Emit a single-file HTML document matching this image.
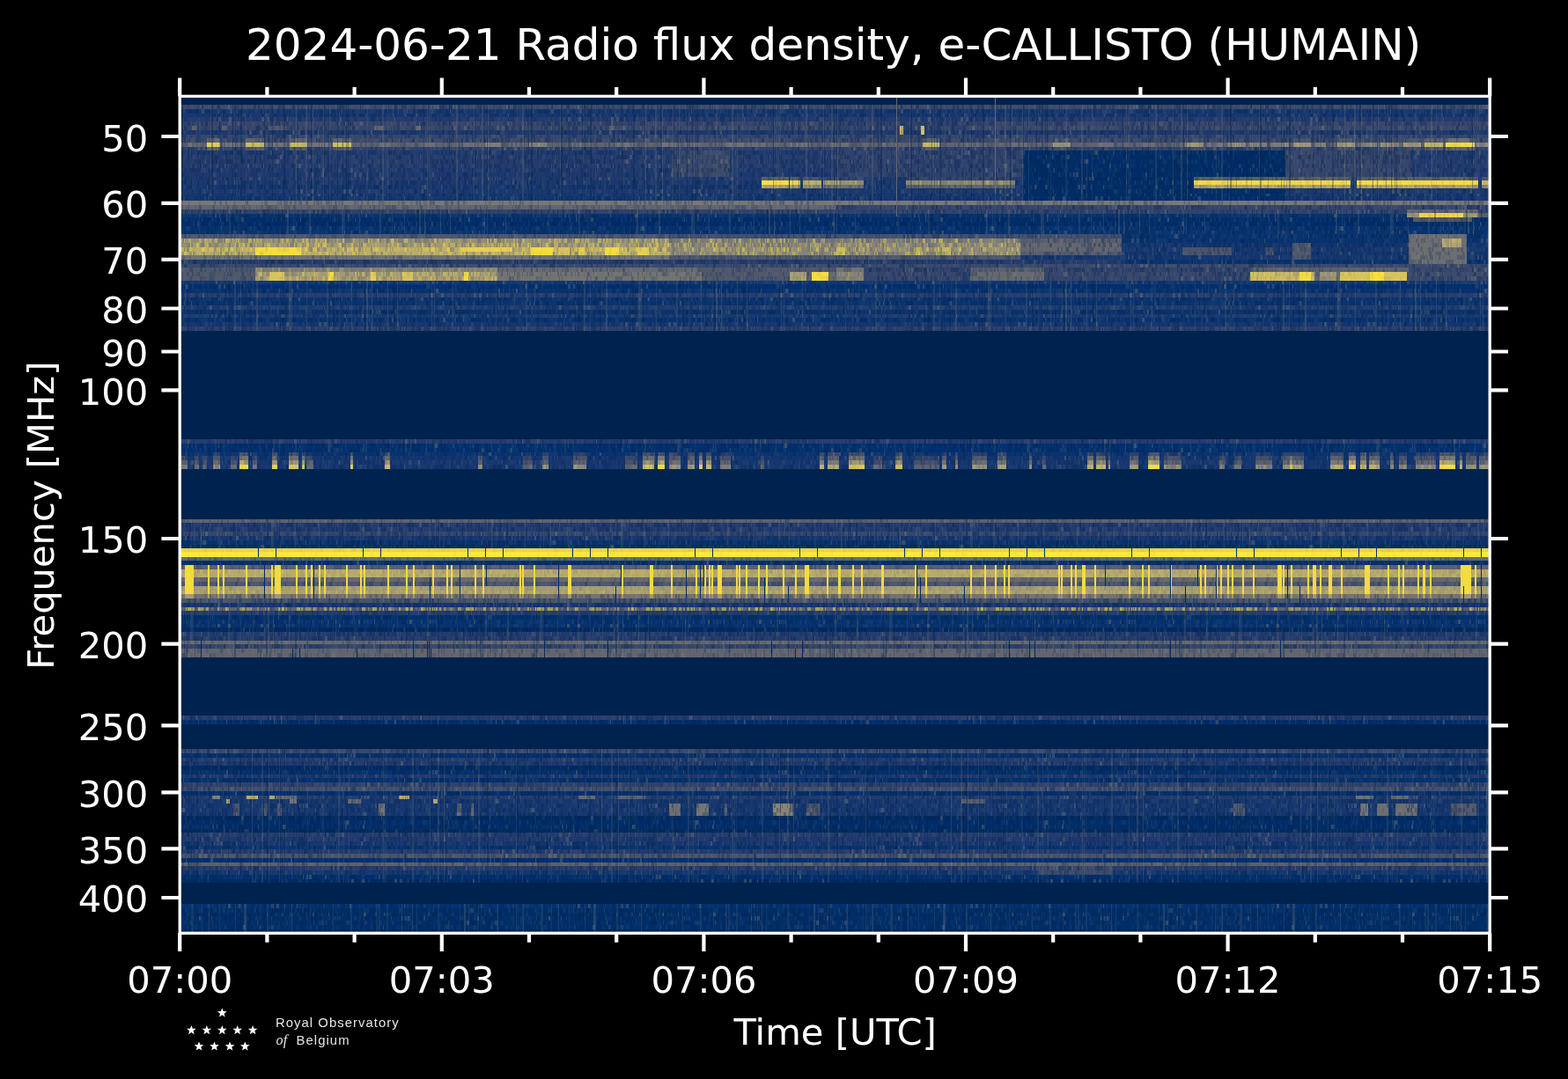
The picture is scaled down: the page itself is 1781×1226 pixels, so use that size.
<!DOCTYPE html>
<html><head><meta charset="utf-8"><title>2024-06-21 Radio flux density, e-CALLISTO (HUMAIN)</title>
<style>html,body{margin:0;padding:0;background:#000;width:1781px;height:1226px;overflow:hidden}svg{display:block}</style>
</head><body>
<svg width="1781" height="1226" viewBox="0 0 1781 1226">
<rect width="1781" height="1226" fill="#000"/>
<defs><clipPath id="c"><rect x="204.2" y="109.35" width="1488" height="950.95"/></clipPath></defs>
<defs><pattern id="b0" patternUnits="userSpaceOnUse" width="397" height="10"><path fill="#00224e" fill-opacity="0.15" d="M29 0h3v10h-3zM101 0h1v10h-1zM144 0h3v10h-3zM150 0h1v10h-1zM166 0h1v10h-1zM355 0h1v10h-1z"/><path fill="#00224e" fill-opacity="0.2" d="M2 0h2v10h-2zM49 0h1v10h-1zM51 0h1v10h-1zM58 0h1v10h-1zM59 0h2v10h-2zM102 0h2v10h-2zM104 0h2v10h-2zM108 0h2v10h-2zM114 0h1v10h-1zM126 0h3v10h-3zM139 0h1v10h-1zM192 0h1v10h-1zM200 0h3v10h-3zM262 0h1v10h-1zM327 0h3v10h-3zM334 0h1v10h-1zM384 0h2v10h-2z"/><path fill="#00224e" fill-opacity="0.25" d="M36 0h2v10h-2zM75 0h3v10h-3zM123 0h1v10h-1zM129 0h2v10h-2zM140 0h1v10h-1zM167 0h2v10h-2zM206 0h1v10h-1zM210 0h3v10h-3zM216 0h2v10h-2zM233 0h3v10h-3zM246 0h1v10h-1zM291 0h2v10h-2zM332 0h2v10h-2zM335 0h1v10h-1zM338 0h3v10h-3zM387 0h3v10h-3zM394 0h1v10h-1z"/><path fill="#00224e" fill-opacity="0.3" d="M43 0h2v10h-2zM72 0h1v10h-1zM73 0h2v10h-2zM106 0h1v10h-1zM131 0h1v10h-1zM151 0h3v10h-3zM169 0h1v10h-1zM220 0h2v10h-2zM227 0h1v10h-1zM260 0h2v10h-2zM322 0h1v10h-1zM343 0h2v10h-2zM362 0h2v10h-2zM374 0h3v10h-3zM386 0h1v10h-1zM390 0h1v10h-1z"/><path fill="#00224e" fill-opacity="0.35" d="M1 0h1v10h-1zM33 0h3v10h-3zM61 0h1v10h-1zM71 0h1v10h-1zM163 0h3v10h-3zM242 0h1v10h-1zM243 0h1v10h-1zM245 0h1v10h-1zM258 0h1v10h-1zM274 0h3v10h-3zM302 0h2v10h-2zM308 0h2v10h-2zM319 0h2v10h-2zM358 0h2v10h-2zM371 0h2v10h-2zM373 0h1v10h-1zM392 0h2v10h-2z"/><path fill="#00224e" fill-opacity="0.4" d="M14 0h2v10h-2zM32 0h1v10h-1zM47 0h1v10h-1zM57 0h1v10h-1zM124 0h1v10h-1zM147 0h3v10h-3zM286 0h3v10h-3zM316 0h1v10h-1zM357 0h1v10h-1zM364 0h3v10h-3z"/><path fill="#00224e" fill-opacity="0.45" d="M0 0h1v10h-1zM207 0h1v10h-1zM277 0h1v10h-1zM326 0h1v10h-1zM347 0h1v10h-1z"/><path fill="#8a8779" fill-opacity="0.05" d="M45 0h2v10h-2zM62 0h2v10h-2zM66 0h2v10h-2zM68 0h1v10h-1zM94 0h1v10h-1zM115 0h2v10h-2zM117 0h2v10h-2zM119 0h1v10h-1zM134 0h2v10h-2zM155 0h2v10h-2zM174 0h3v10h-3zM224 0h1v10h-1zM239 0h1v10h-1zM271 0h3v10h-3zM324 0h2v10h-2z"/><path fill="#8a8779" fill-opacity="0.1" d="M8 0h1v10h-1zM25 0h1v10h-1zM40 0h1v10h-1zM50 0h1v10h-1zM78 0h1v10h-1zM79 0h1v10h-1zM80 0h2v10h-2zM89 0h1v10h-1zM95 0h3v10h-3zM110 0h3v10h-3zM158 0h1v10h-1zM209 0h1v10h-1zM215 0h1v10h-1zM228 0h2v10h-2zM238 0h1v10h-1zM255 0h1v10h-1zM259 0h1v10h-1zM268 0h1v10h-1zM289 0h2v10h-2zM313 0h2v10h-2zM317 0h2v10h-2zM321 0h1v10h-1zM345 0h2v10h-2zM367 0h3v10h-3zM378 0h2v10h-2zM391 0h1v10h-1z"/><path fill="#8a8779" fill-opacity="0.2" d="M12 0h2v10h-2zM265 0h3v10h-3z"/><path fill="#8a8779" fill-opacity="0.25" d="M38 0h2v10h-2zM240 0h2v10h-2zM348 0h1v10h-1z"/><path fill="#8a8779" fill-opacity="0.3" d="M86 0h1v10h-1zM143 0h1v10h-1zM247 0h1v10h-1z"/><path fill="#8a8779" fill-opacity="0.35" d="M26 0h1v10h-1zM264 0h1v10h-1z"/></pattern><pattern id="b1" patternUnits="userSpaceOnUse" width="397" height="10"><path fill="#00224e" fill-opacity="0.15" d="M47 0h3v10h-3zM126 0h2v10h-2zM252 0h2v10h-2zM368 0h2v10h-2zM393 0h3v10h-3z"/><path fill="#00224e" fill-opacity="0.2" d="M67 0h2v10h-2zM87 0h1v10h-1zM106 0h1v10h-1zM109 0h1v10h-1zM124 0h1v10h-1zM159 0h1v10h-1zM167 0h2v10h-2zM175 0h2v10h-2zM233 0h1v10h-1zM274 0h1v10h-1zM293 0h1v10h-1zM302 0h3v10h-3z"/><path fill="#00224e" fill-opacity="0.25" d="M14 0h2v10h-2zM42 0h1v10h-1zM88 0h3v10h-3zM103 0h3v10h-3zM165 0h2v10h-2zM193 0h1v10h-1zM194 0h1v10h-1zM204 0h1v10h-1zM312 0h2v10h-2zM314 0h1v10h-1zM327 0h1v10h-1zM359 0h1v10h-1z"/><path fill="#00224e" fill-opacity="0.3" d="M94 0h1v10h-1zM128 0h2v10h-2zM207 0h1v10h-1zM215 0h1v10h-1zM244 0h1v10h-1zM245 0h1v10h-1zM249 0h1v10h-1zM273 0h1v10h-1zM280 0h2v10h-2zM287 0h1v10h-1zM396 0h1v10h-1z"/><path fill="#00224e" fill-opacity="0.35" d="M22 0h3v10h-3zM66 0h1v10h-1zM100 0h2v10h-2zM136 0h1v10h-1zM137 0h1v10h-1zM216 0h2v10h-2zM246 0h1v10h-1zM335 0h1v10h-1zM371 0h3v10h-3zM390 0h1v10h-1z"/><path fill="#00224e" fill-opacity="0.4" d="M45 0h1v10h-1zM60 0h1v10h-1zM78 0h1v10h-1zM120 0h2v10h-2zM122 0h1v10h-1zM177 0h1v10h-1zM237 0h2v10h-2zM248 0h1v10h-1zM307 0h2v10h-2zM343 0h3v10h-3z"/><path fill="#00224e" fill-opacity="0.45" d="M59 0h1v10h-1zM152 0h3v10h-3zM191 0h2v10h-2zM234 0h3v10h-3z"/><path fill="#8a8779" fill-opacity="0.05" d="M16 0h2v10h-2zM46 0h1v10h-1zM54 0h2v10h-2zM92 0h2v10h-2zM98 0h2v10h-2zM140 0h3v10h-3zM143 0h3v10h-3zM149 0h2v10h-2zM195 0h1v10h-1zM231 0h2v10h-2zM254 0h2v10h-2zM285 0h2v10h-2zM315 0h1v10h-1zM350 0h2v10h-2zM388 0h1v10h-1z"/><path fill="#8a8779" fill-opacity="0.1" d="M0 0h3v10h-3zM3 0h3v10h-3zM9 0h1v10h-1zM37 0h3v10h-3zM43 0h2v10h-2zM56 0h3v10h-3zM80 0h2v10h-2zM146 0h3v10h-3zM169 0h2v10h-2zM185 0h3v10h-3zM221 0h1v10h-1zM283 0h2v10h-2zM294 0h3v10h-3zM378 0h3v10h-3zM384 0h2v10h-2z"/><path fill="#8a8779" fill-opacity="0.15" d="M346 0h2v10h-2z"/><path fill="#8a8779" fill-opacity="0.2" d="M348 0h2v10h-2z"/><path fill="#8a8779" fill-opacity="0.3" d="M117 0h2v10h-2z"/><path fill="#8a8779" fill-opacity="0.35" d="M63 0h1v10h-1zM110 0h3v10h-3zM116 0h1v10h-1zM125 0h1v10h-1zM139 0h1v10h-1zM199 0h2v10h-2zM261 0h1v10h-1z"/><path fill="#8a8779" fill-opacity="0.4" d="M61 0h2v10h-2zM73 0h3v10h-3z"/></pattern><pattern id="b2" patternUnits="userSpaceOnUse" width="397" height="10"><path fill="#00224e" fill-opacity="0.15" d="M6 0h2v10h-2zM130 0h3v10h-3zM179 0h1v10h-1zM210 0h1v10h-1zM324 0h2v10h-2z"/><path fill="#00224e" fill-opacity="0.2" d="M12 0h1v10h-1zM59 0h3v10h-3zM71 0h2v10h-2zM141 0h1v10h-1zM169 0h1v10h-1zM228 0h3v10h-3zM250 0h1v10h-1zM297 0h3v10h-3zM363 0h1v10h-1zM393 0h2v10h-2z"/><path fill="#00224e" fill-opacity="0.25" d="M0 0h1v10h-1zM11 0h1v10h-1zM39 0h3v10h-3zM46 0h2v10h-2zM51 0h2v10h-2zM94 0h1v10h-1zM106 0h1v10h-1zM114 0h2v10h-2zM117 0h2v10h-2zM119 0h1v10h-1zM152 0h2v10h-2zM190 0h1v10h-1zM233 0h1v10h-1zM245 0h1v10h-1zM253 0h3v10h-3zM261 0h2v10h-2zM283 0h2v10h-2zM309 0h1v10h-1zM341 0h3v10h-3zM367 0h3v10h-3z"/><path fill="#00224e" fill-opacity="0.3" d="M16 0h3v10h-3zM22 0h2v10h-2zM37 0h2v10h-2zM103 0h3v10h-3zM149 0h1v10h-1zM223 0h3v10h-3zM240 0h2v10h-2zM275 0h1v10h-1zM301 0h1v10h-1zM310 0h1v10h-1zM347 0h1v10h-1zM379 0h3v10h-3zM384 0h1v10h-1zM392 0h1v10h-1z"/><path fill="#00224e" fill-opacity="0.35" d="M1 0h3v10h-3zM8 0h3v10h-3zM13 0h1v10h-1zM19 0h2v10h-2zM30 0h1v10h-1zM86 0h1v10h-1zM109 0h1v10h-1zM120 0h2v10h-2zM157 0h3v10h-3zM172 0h2v10h-2zM232 0h1v10h-1zM285 0h1v10h-1zM295 0h2v10h-2zM306 0h3v10h-3zM353 0h2v10h-2z"/><path fill="#00224e" fill-opacity="0.4" d="M21 0h1v10h-1zM42 0h1v10h-1zM70 0h1v10h-1zM85 0h1v10h-1zM92 0h1v10h-1zM100 0h1v10h-1zM150 0h1v10h-1zM206 0h2v10h-2zM226 0h2v10h-2zM268 0h3v10h-3zM271 0h3v10h-3zM322 0h1v10h-1zM344 0h3v10h-3z"/><path fill="#00224e" fill-opacity="0.45" d="M79 0h2v10h-2zM136 0h2v10h-2zM165 0h1v10h-1zM183 0h3v10h-3z"/><path fill="#8a8779" fill-opacity="0.05" d="M48 0h2v10h-2zM64 0h1v10h-1zM111 0h1v10h-1zM146 0h3v10h-3zM160 0h2v10h-2zM195 0h1v10h-1zM231 0h1v10h-1zM279 0h2v10h-2zM289 0h2v10h-2zM302 0h1v10h-1zM311 0h1v10h-1zM313 0h3v10h-3zM316 0h3v10h-3zM348 0h2v10h-2zM378 0h1v10h-1zM391 0h1v10h-1z"/><path fill="#8a8779" fill-opacity="0.1" d="M14 0h2v10h-2zM36 0h1v10h-1zM50 0h1v10h-1zM69 0h1v10h-1zM74 0h1v10h-1zM93 0h1v10h-1zM108 0h1v10h-1zM110 0h1v10h-1zM129 0h1v10h-1zM139 0h1v10h-1zM140 0h1v10h-1zM142 0h3v10h-3zM167 0h1v10h-1zM170 0h1v10h-1zM188 0h2v10h-2zM215 0h3v10h-3zM218 0h1v10h-1zM220 0h2v10h-2zM238 0h1v10h-1zM243 0h2v10h-2zM259 0h2v10h-2zM267 0h1v10h-1zM276 0h3v10h-3zM291 0h3v10h-3zM319 0h1v10h-1zM328 0h2v10h-2zM334 0h1v10h-1zM335 0h2v10h-2zM387 0h3v10h-3z"/><path fill="#8a8779" fill-opacity="0.15" d="M125 0h2v10h-2z"/><path fill="#8a8779" fill-opacity="0.2" d="M98 0h2v10h-2zM116 0h1v10h-1zM204 0h2v10h-2z"/><path fill="#8a8779" fill-opacity="0.25" d="M91 0h1v10h-1zM264 0h2v10h-2zM376 0h1v10h-1z"/><path fill="#8a8779" fill-opacity="0.3" d="M81 0h1v10h-1zM107 0h1v10h-1z"/><path fill="#8a8779" fill-opacity="0.35" d="M133 0h2v10h-2z"/><path fill="#8a8779" fill-opacity="0.4" d="M151 0h1v10h-1zM191 0h3v10h-3zM214 0h1v10h-1z"/></pattern><pattern id="b3" patternUnits="userSpaceOnUse" width="397" height="10"><path fill="#00224e" fill-opacity="0.15" d="M212 0h3v10h-3zM369 0h2v10h-2zM385 0h1v10h-1zM386 0h1v10h-1z"/><path fill="#00224e" fill-opacity="0.2" d="M11 0h3v10h-3zM62 0h2v10h-2zM179 0h1v10h-1zM188 0h1v10h-1zM198 0h3v10h-3zM227 0h3v10h-3zM255 0h1v10h-1zM275 0h1v10h-1zM301 0h3v10h-3zM332 0h1v10h-1zM348 0h3v10h-3z"/><path fill="#00224e" fill-opacity="0.25" d="M43 0h1v10h-1zM46 0h1v10h-1zM61 0h1v10h-1zM64 0h1v10h-1zM77 0h1v10h-1zM85 0h1v10h-1zM102 0h2v10h-2zM111 0h1v10h-1zM130 0h1v10h-1zM131 0h2v10h-2zM178 0h1v10h-1zM181 0h2v10h-2zM205 0h1v10h-1zM230 0h1v10h-1zM316 0h2v10h-2zM324 0h3v10h-3zM357 0h1v10h-1z"/><path fill="#00224e" fill-opacity="0.3" d="M3 0h1v10h-1zM128 0h1v10h-1zM150 0h1v10h-1zM156 0h1v10h-1zM176 0h2v10h-2zM202 0h2v10h-2zM392 0h3v10h-3z"/><path fill="#00224e" fill-opacity="0.35" d="M47 0h3v10h-3zM68 0h2v10h-2zM70 0h3v10h-3zM75 0h2v10h-2zM80 0h3v10h-3zM105 0h1v10h-1zM106 0h3v10h-3zM116 0h2v10h-2zM118 0h3v10h-3zM148 0h2v10h-2zM180 0h1v10h-1zM204 0h1v10h-1zM218 0h3v10h-3zM236 0h2v10h-2zM297 0h1v10h-1zM313 0h1v10h-1zM339 0h2v10h-2z"/><path fill="#00224e" fill-opacity="0.4" d="M2 0h1v10h-1zM25 0h3v10h-3zM86 0h3v10h-3zM93 0h3v10h-3zM110 0h1v10h-1zM126 0h2v10h-2zM134 0h2v10h-2zM152 0h1v10h-1zM157 0h1v10h-1zM163 0h2v10h-2zM169 0h1v10h-1zM234 0h1v10h-1zM235 0h1v10h-1zM253 0h2v10h-2zM258 0h3v10h-3zM265 0h3v10h-3zM272 0h2v10h-2zM329 0h1v10h-1zM336 0h2v10h-2z"/><path fill="#00224e" fill-opacity="0.45" d="M65 0h1v10h-1zM122 0h1v10h-1zM222 0h2v10h-2zM238 0h2v10h-2zM251 0h2v10h-2zM387 0h1v10h-1z"/><path fill="#8a8779" fill-opacity="0.05" d="M4 0h2v10h-2zM7 0h3v10h-3zM38 0h2v10h-2zM113 0h3v10h-3zM121 0h1v10h-1zM140 0h2v10h-2zM153 0h2v10h-2zM201 0h1v10h-1zM209 0h1v10h-1zM224 0h1v10h-1zM306 0h3v10h-3zM320 0h1v10h-1zM343 0h3v10h-3zM346 0h2v10h-2zM354 0h2v10h-2zM366 0h2v10h-2z"/><path fill="#8a8779" fill-opacity="0.1" d="M0 0h2v10h-2zM14 0h2v10h-2zM18 0h3v10h-3zM28 0h1v10h-1zM29 0h3v10h-3zM50 0h2v10h-2zM54 0h1v10h-1zM79 0h1v10h-1zM91 0h2v10h-2zM99 0h2v10h-2zM109 0h1v10h-1zM112 0h1v10h-1zM129 0h1v10h-1zM137 0h2v10h-2zM170 0h3v10h-3zM173 0h2v10h-2zM242 0h3v10h-3zM247 0h2v10h-2zM264 0h1v10h-1zM285 0h1v10h-1zM294 0h1v10h-1zM319 0h1v10h-1zM333 0h3v10h-3zM363 0h3v10h-3zM378 0h2v10h-2zM380 0h3v10h-3zM395 0h2v10h-2z"/><path fill="#8a8779" fill-opacity="0.2" d="M289 0h2v10h-2z"/><path fill="#8a8779" fill-opacity="0.25" d="M311 0h2v10h-2z"/><path fill="#8a8779" fill-opacity="0.3" d="M10 0h1v10h-1zM45 0h1v10h-1zM210 0h1v10h-1z"/><path fill="#8a8779" fill-opacity="0.4" d="M291 0h3v10h-3z"/></pattern><pattern id="b4" patternUnits="userSpaceOnUse" width="397" height="10"><path fill="#00224e" fill-opacity="0.15" d="M47 0h1v10h-1zM95 0h1v10h-1zM119 0h1v10h-1zM174 0h1v10h-1zM321 0h1v10h-1z"/><path fill="#00224e" fill-opacity="0.2" d="M31 0h1v10h-1zM52 0h3v10h-3zM64 0h2v10h-2zM106 0h1v10h-1zM110 0h1v10h-1zM125 0h1v10h-1zM170 0h1v10h-1zM200 0h2v10h-2zM202 0h1v10h-1zM215 0h1v10h-1zM224 0h3v10h-3zM294 0h1v10h-1zM295 0h1v10h-1zM317 0h1v10h-1zM325 0h2v10h-2zM343 0h2v10h-2z"/><path fill="#00224e" fill-opacity="0.25" d="M10 0h1v10h-1zM71 0h1v10h-1zM75 0h1v10h-1zM133 0h2v10h-2zM162 0h1v10h-1zM211 0h2v10h-2zM216 0h2v10h-2zM231 0h1v10h-1zM236 0h2v10h-2zM243 0h3v10h-3zM274 0h2v10h-2zM286 0h1v10h-1zM311 0h3v10h-3zM384 0h2v10h-2zM391 0h1v10h-1z"/><path fill="#00224e" fill-opacity="0.3" d="M36 0h1v10h-1zM37 0h2v10h-2zM45 0h2v10h-2zM104 0h2v10h-2zM120 0h1v10h-1zM153 0h1v10h-1zM171 0h2v10h-2zM189 0h3v10h-3zM213 0h1v10h-1zM235 0h1v10h-1zM287 0h2v10h-2zM310 0h1v10h-1zM320 0h1v10h-1zM339 0h2v10h-2zM347 0h3v10h-3zM353 0h2v10h-2z"/><path fill="#00224e" fill-opacity="0.35" d="M51 0h1v10h-1zM63 0h1v10h-1zM219 0h3v10h-3zM267 0h1v10h-1zM334 0h1v10h-1zM337 0h2v10h-2zM345 0h1v10h-1zM363 0h2v10h-2z"/><path fill="#00224e" fill-opacity="0.4" d="M2 0h1v10h-1zM15 0h1v10h-1zM55 0h1v10h-1zM128 0h1v10h-1zM135 0h1v10h-1zM136 0h3v10h-3zM218 0h1v10h-1zM283 0h1v10h-1zM328 0h1v10h-1zM350 0h1v10h-1zM374 0h1v10h-1z"/><path fill="#00224e" fill-opacity="0.45" d="M129 0h1v10h-1zM241 0h2v10h-2zM249 0h1v10h-1zM322 0h1v10h-1zM368 0h3v10h-3z"/><path fill="#8a8779" fill-opacity="0.05" d="M3 0h1v10h-1zM14 0h1v10h-1zM27 0h1v10h-1zM35 0h1v10h-1zM49 0h2v10h-2zM80 0h1v10h-1zM89 0h3v10h-3zM93 0h2v10h-2zM115 0h3v10h-3zM118 0h1v10h-1zM175 0h3v10h-3zM208 0h1v10h-1zM209 0h1v10h-1zM240 0h1v10h-1zM261 0h3v10h-3zM271 0h2v10h-2zM273 0h1v10h-1zM278 0h3v10h-3zM300 0h1v10h-1zM305 0h1v10h-1zM327 0h1v10h-1zM375 0h3v10h-3zM379 0h2v10h-2zM381 0h3v10h-3z"/><path fill="#8a8779" fill-opacity="0.1" d="M0 0h1v10h-1zM7 0h1v10h-1zM24 0h2v10h-2zM26 0h1v10h-1zM44 0h1v10h-1zM62 0h1v10h-1zM66 0h3v10h-3zM76 0h1v10h-1zM83 0h3v10h-3zM98 0h1v10h-1zM102 0h2v10h-2zM113 0h1v10h-1zM114 0h1v10h-1zM131 0h2v10h-2zM140 0h3v10h-3zM145 0h2v10h-2zM154 0h1v10h-1zM186 0h1v10h-1zM197 0h3v10h-3zM250 0h2v10h-2zM252 0h1v10h-1zM255 0h2v10h-2zM269 0h2v10h-2zM281 0h2v10h-2zM296 0h2v10h-2zM303 0h2v10h-2zM318 0h2v10h-2zM335 0h2v10h-2zM361 0h1v10h-1zM362 0h1v10h-1zM390 0h1v10h-1z"/><path fill="#8a8779" fill-opacity="0.15" d="M192 0h2v10h-2z"/><path fill="#8a8779" fill-opacity="0.25" d="M57 0h1v10h-1zM182 0h1v10h-1zM314 0h3v10h-3zM394 0h3v10h-3z"/><path fill="#8a8779" fill-opacity="0.3" d="M123 0h1v10h-1zM276 0h1v10h-1z"/><path fill="#8a8779" fill-opacity="0.35" d="M147 0h3v10h-3zM214 0h1v10h-1zM253 0h1v10h-1z"/><path fill="#8a8779" fill-opacity="0.4" d="M8 0h2v10h-2zM130 0h1v10h-1zM268 0h1v10h-1z"/></pattern><pattern id="b5" patternUnits="userSpaceOnUse" width="397" height="10"><path fill="#00224e" fill-opacity="0.15" d="M48 0h1v10h-1zM245 0h1v10h-1z"/><path fill="#00224e" fill-opacity="0.2" d="M14 0h1v10h-1zM31 0h3v10h-3zM42 0h1v10h-1zM93 0h2v10h-2zM112 0h3v10h-3zM115 0h1v10h-1zM122 0h3v10h-3zM191 0h3v10h-3zM197 0h2v10h-2zM221 0h1v10h-1zM285 0h1v10h-1zM348 0h2v10h-2z"/><path fill="#00224e" fill-opacity="0.25" d="M51 0h1v10h-1zM58 0h1v10h-1zM86 0h1v10h-1zM120 0h2v10h-2zM172 0h1v10h-1zM203 0h1v10h-1zM230 0h3v10h-3zM265 0h2v10h-2zM311 0h3v10h-3zM314 0h1v10h-1zM335 0h1v10h-1zM389 0h2v10h-2z"/><path fill="#00224e" fill-opacity="0.3" d="M68 0h3v10h-3zM72 0h1v10h-1zM73 0h1v10h-1zM116 0h3v10h-3zM119 0h1v10h-1zM262 0h1v10h-1zM272 0h2v10h-2zM276 0h3v10h-3zM290 0h3v10h-3zM379 0h3v10h-3zM382 0h3v10h-3z"/><path fill="#00224e" fill-opacity="0.35" d="M25 0h3v10h-3zM28 0h3v10h-3zM46 0h2v10h-2zM67 0h1v10h-1zM74 0h2v10h-2zM222 0h1v10h-1zM239 0h3v10h-3zM243 0h2v10h-2zM392 0h3v10h-3z"/><path fill="#00224e" fill-opacity="0.4" d="M12 0h2v10h-2zM37 0h3v10h-3zM103 0h2v10h-2zM109 0h3v10h-3zM152 0h2v10h-2zM169 0h3v10h-3zM189 0h2v10h-2zM211 0h3v10h-3zM255 0h3v10h-3zM308 0h3v10h-3zM357 0h1v10h-1zM364 0h1v10h-1z"/><path fill="#00224e" fill-opacity="0.45" d="M36 0h1v10h-1zM71 0h1v10h-1zM216 0h2v10h-2zM332 0h1v10h-1zM371 0h3v10h-3z"/><path fill="#8a8779" fill-opacity="0.05" d="M7 0h1v10h-1zM16 0h3v10h-3zM43 0h3v10h-3zM60 0h1v10h-1zM64 0h3v10h-3zM154 0h3v10h-3zM161 0h2v10h-2zM173 0h1v10h-1zM233 0h1v10h-1zM236 0h2v10h-2zM242 0h1v10h-1zM280 0h2v10h-2zM322 0h3v10h-3zM327 0h2v10h-2zM329 0h3v10h-3zM333 0h2v10h-2zM340 0h1v10h-1zM391 0h1v10h-1z"/><path fill="#8a8779" fill-opacity="0.1" d="M11 0h1v10h-1zM53 0h1v10h-1zM82 0h1v10h-1zM83 0h1v10h-1zM97 0h2v10h-2zM105 0h1v10h-1zM106 0h3v10h-3zM140 0h2v10h-2zM150 0h2v10h-2zM159 0h2v10h-2zM179 0h1v10h-1zM202 0h1v10h-1zM223 0h1v10h-1zM235 0h1v10h-1zM246 0h3v10h-3zM250 0h2v10h-2zM284 0h1v10h-1zM296 0h2v10h-2zM338 0h2v10h-2zM359 0h2v10h-2zM365 0h1v10h-1zM369 0h1v10h-1z"/><path fill="#8a8779" fill-opacity="0.15" d="M84 0h1v10h-1zM341 0h2v10h-2z"/><path fill="#8a8779" fill-opacity="0.2" d="M168 0h1v10h-1zM264 0h1v10h-1z"/><path fill="#8a8779" fill-opacity="0.25" d="M3 0h1v10h-1zM196 0h1v10h-1zM336 0h1v10h-1zM358 0h1v10h-1z"/><path fill="#8a8779" fill-opacity="0.3" d="M19 0h2v10h-2zM40 0h2v10h-2zM304 0h1v10h-1z"/><path fill="#8a8779" fill-opacity="0.35" d="M15 0h1v10h-1zM23 0h2v10h-2zM101 0h2v10h-2z"/><path fill="#8a8779" fill-opacity="0.4" d="M22 0h1v10h-1zM182 0h2v10h-2z"/></pattern><pattern id="b6" patternUnits="userSpaceOnUse" width="397" height="10"><path fill="#00224e" fill-opacity="0.15" d="M13 0h2v10h-2zM53 0h1v10h-1zM118 0h1v10h-1zM177 0h1v10h-1zM216 0h1v10h-1zM248 0h1v10h-1z"/><path fill="#00224e" fill-opacity="0.2" d="M11 0h2v10h-2zM51 0h1v10h-1zM108 0h2v10h-2zM149 0h2v10h-2zM164 0h2v10h-2zM166 0h2v10h-2zM192 0h1v10h-1zM212 0h1v10h-1zM213 0h3v10h-3zM235 0h1v10h-1zM247 0h1v10h-1zM275 0h1v10h-1zM296 0h3v10h-3zM303 0h1v10h-1zM339 0h1v10h-1zM351 0h2v10h-2zM374 0h1v10h-1z"/><path fill="#00224e" fill-opacity="0.25" d="M8 0h2v10h-2zM10 0h1v10h-1zM62 0h1v10h-1zM94 0h1v10h-1zM131 0h1v10h-1zM136 0h3v10h-3zM142 0h2v10h-2zM152 0h3v10h-3zM182 0h1v10h-1zM191 0h1v10h-1zM232 0h2v10h-2zM336 0h2v10h-2zM346 0h3v10h-3zM380 0h2v10h-2z"/><path fill="#00224e" fill-opacity="0.3" d="M25 0h1v10h-1zM28 0h2v10h-2zM32 0h2v10h-2zM44 0h1v10h-1zM81 0h3v10h-3zM97 0h3v10h-3zM105 0h3v10h-3zM146 0h3v10h-3zM205 0h1v10h-1zM281 0h3v10h-3zM301 0h2v10h-2zM390 0h1v10h-1z"/><path fill="#00224e" fill-opacity="0.35" d="M46 0h2v10h-2zM104 0h1v10h-1zM144 0h2v10h-2zM163 0h1v10h-1zM189 0h1v10h-1zM220 0h2v10h-2zM249 0h2v10h-2zM270 0h1v10h-1zM278 0h2v10h-2zM287 0h3v10h-3zM335 0h1v10h-1zM360 0h2v10h-2zM386 0h1v10h-1zM392 0h2v10h-2z"/><path fill="#00224e" fill-opacity="0.4" d="M45 0h1v10h-1zM54 0h1v10h-1zM66 0h1v10h-1zM67 0h2v10h-2zM115 0h1v10h-1zM117 0h1v10h-1zM123 0h1v10h-1zM168 0h1v10h-1zM173 0h3v10h-3zM207 0h1v10h-1zM218 0h2v10h-2zM222 0h1v10h-1zM231 0h1v10h-1zM260 0h1v10h-1zM280 0h1v10h-1zM299 0h1v10h-1zM317 0h3v10h-3zM379 0h1v10h-1zM385 0h1v10h-1z"/><path fill="#00224e" fill-opacity="0.45" d="M31 0h1v10h-1zM264 0h2v10h-2zM285 0h2v10h-2z"/><path fill="#8a8779" fill-opacity="0.05" d="M2 0h3v10h-3zM5 0h1v10h-1zM21 0h1v10h-1zM48 0h3v10h-3zM52 0h1v10h-1zM73 0h3v10h-3zM84 0h2v10h-2zM124 0h1v10h-1zM139 0h2v10h-2zM179 0h1v10h-1zM183 0h1v10h-1zM184 0h2v10h-2zM200 0h2v10h-2zM211 0h1v10h-1zM224 0h1v10h-1zM257 0h1v10h-1zM258 0h2v10h-2zM261 0h2v10h-2zM263 0h1v10h-1zM304 0h2v10h-2zM306 0h1v10h-1zM329 0h3v10h-3zM340 0h2v10h-2zM363 0h1v10h-1zM383 0h2v10h-2zM396 0h1v10h-1z"/><path fill="#8a8779" fill-opacity="0.1" d="M26 0h1v10h-1zM41 0h2v10h-2zM71 0h1v10h-1zM80 0h1v10h-1zM88 0h1v10h-1zM89 0h1v10h-1zM92 0h1v10h-1zM113 0h1v10h-1zM125 0h3v10h-3zM132 0h3v10h-3zM155 0h2v10h-2zM157 0h1v10h-1zM159 0h2v10h-2zM162 0h1v10h-1zM194 0h3v10h-3zM206 0h1v10h-1zM208 0h2v10h-2zM229 0h2v10h-2zM238 0h3v10h-3zM322 0h2v10h-2zM332 0h3v10h-3zM345 0h1v10h-1zM354 0h2v10h-2zM362 0h1v10h-1zM365 0h2v10h-2zM375 0h3v10h-3z"/><path fill="#8a8779" fill-opacity="0.15" d="M272 0h2v10h-2zM370 0h1v10h-1z"/><path fill="#8a8779" fill-opacity="0.2" d="M119 0h1v10h-1zM128 0h3v10h-3zM311 0h3v10h-3z"/><path fill="#8a8779" fill-opacity="0.25" d="M158 0h1v10h-1z"/><path fill="#8a8779" fill-opacity="0.3" d="M325 0h3v10h-3z"/><path fill="#8a8779" fill-opacity="0.35" d="M55 0h1v10h-1zM178 0h1v10h-1zM293 0h3v10h-3z"/></pattern><pattern id="b7" patternUnits="userSpaceOnUse" width="397" height="10"><path fill="#00224e" fill-opacity="0.15" d="M66 0h1v10h-1zM180 0h2v10h-2zM192 0h1v10h-1zM224 0h1v10h-1zM369 0h1v10h-1z"/><path fill="#00224e" fill-opacity="0.2" d="M14 0h1v10h-1zM89 0h1v10h-1zM135 0h2v10h-2zM167 0h3v10h-3zM170 0h1v10h-1zM202 0h3v10h-3zM232 0h2v10h-2zM253 0h2v10h-2zM266 0h1v10h-1zM275 0h1v10h-1zM288 0h1v10h-1zM300 0h2v10h-2zM308 0h2v10h-2z"/><path fill="#00224e" fill-opacity="0.25" d="M1 0h2v10h-2zM4 0h3v10h-3zM61 0h2v10h-2zM122 0h2v10h-2zM133 0h2v10h-2zM198 0h3v10h-3zM212 0h1v10h-1zM221 0h1v10h-1zM223 0h1v10h-1zM256 0h1v10h-1zM284 0h3v10h-3zM295 0h3v10h-3zM315 0h2v10h-2zM376 0h2v10h-2z"/><path fill="#00224e" fill-opacity="0.3" d="M93 0h3v10h-3zM115 0h1v10h-1zM131 0h2v10h-2zM163 0h2v10h-2zM179 0h1v10h-1zM339 0h3v10h-3z"/><path fill="#00224e" fill-opacity="0.35" d="M26 0h1v10h-1zM78 0h3v10h-3zM90 0h2v10h-2zM108 0h3v10h-3zM174 0h3v10h-3zM207 0h1v10h-1zM293 0h1v10h-1zM310 0h1v10h-1zM323 0h1v10h-1zM324 0h1v10h-1zM351 0h2v10h-2zM375 0h1v10h-1z"/><path fill="#00224e" fill-opacity="0.4" d="M0 0h1v10h-1zM29 0h1v10h-1zM57 0h2v10h-2zM67 0h3v10h-3zM92 0h1v10h-1zM96 0h2v10h-2zM247 0h1v10h-1zM329 0h1v10h-1zM370 0h2v10h-2z"/><path fill="#00224e" fill-opacity="0.45" d="M188 0h1v10h-1zM366 0h3v10h-3z"/><path fill="#8a8779" fill-opacity="0.05" d="M10 0h1v10h-1zM36 0h3v10h-3zM39 0h2v10h-2zM45 0h3v10h-3zM55 0h2v10h-2zM81 0h2v10h-2zM83 0h1v10h-1zM87 0h2v10h-2zM155 0h3v10h-3zM172 0h2v10h-2zM182 0h1v10h-1zM183 0h2v10h-2zM194 0h2v10h-2zM225 0h1v10h-1zM234 0h3v10h-3zM237 0h3v10h-3zM245 0h2v10h-2zM249 0h1v10h-1zM250 0h3v10h-3zM264 0h2v10h-2zM272 0h2v10h-2zM289 0h2v10h-2zM330 0h3v10h-3zM359 0h1v10h-1zM383 0h2v10h-2z"/><path fill="#8a8779" fill-opacity="0.1" d="M23 0h1v10h-1zM24 0h1v10h-1zM27 0h2v10h-2zM30 0h2v10h-2zM41 0h3v10h-3zM50 0h2v10h-2zM52 0h3v10h-3zM142 0h1v10h-1zM161 0h2v10h-2zM190 0h1v10h-1zM215 0h2v10h-2zM226 0h1v10h-1zM314 0h1v10h-1zM321 0h1v10h-1zM326 0h3v10h-3zM333 0h2v10h-2zM336 0h1v10h-1zM338 0h1v10h-1zM344 0h2v10h-2zM346 0h1v10h-1zM357 0h1v10h-1zM380 0h1v10h-1z"/><path fill="#8a8779" fill-opacity="0.15" d="M392 0h3v10h-3z"/><path fill="#8a8779" fill-opacity="0.2" d="M222 0h1v10h-1zM372 0h3v10h-3z"/><path fill="#8a8779" fill-opacity="0.3" d="M59 0h2v10h-2z"/><path fill="#8a8779" fill-opacity="0.35" d="M64 0h1v10h-1zM72 0h1v10h-1zM210 0h2v10h-2zM358 0h1v10h-1z"/><path fill="#8a8779" fill-opacity="0.4" d="M111 0h1v10h-1zM139 0h3v10h-3zM230 0h2v10h-2z"/></pattern><pattern id="y0" patternUnits="userSpaceOnUse" width="397" height="10"><path fill="#4f576c" fill-opacity="0.15" d="M59 0h1v10h-1zM133 0h3v10h-3zM366 0h3v10h-3zM370 0h2v10h-2zM372 0h1v10h-1z"/><path fill="#4f576c" fill-opacity="0.2" d="M4 0h2v10h-2zM7 0h2v10h-2zM92 0h2v10h-2zM128 0h1v10h-1zM153 0h2v10h-2zM163 0h1v10h-1zM174 0h3v10h-3zM183 0h1v10h-1zM239 0h2v10h-2zM251 0h1v10h-1zM267 0h2v10h-2z"/><path fill="#4f576c" fill-opacity="0.25" d="M107 0h3v10h-3zM144 0h2v10h-2zM303 0h1v10h-1z"/><path fill="#4f576c" fill-opacity="0.3" d="M73 0h1v10h-1zM78 0h1v10h-1zM130 0h3v10h-3zM155 0h3v10h-3zM202 0h1v10h-1zM232 0h2v10h-2zM297 0h3v10h-3zM321 0h1v10h-1zM324 0h2v10h-2z"/><path fill="#4f576c" fill-opacity="0.35" d="M65 0h2v10h-2zM117 0h3v10h-3zM289 0h2v10h-2zM302 0h1v10h-1zM330 0h1v10h-1zM344 0h2v10h-2zM385 0h3v10h-3z"/><path fill="#4f576c" fill-opacity="0.4" d="M26 0h1v10h-1zM89 0h1v10h-1zM110 0h2v10h-2zM256 0h1v10h-1zM279 0h1v10h-1zM313 0h2v10h-2zM356 0h2v10h-2zM363 0h2v10h-2z"/><path fill="#4f576c" fill-opacity="0.45" d="M14 0h2v10h-2zM214 0h2v10h-2zM222 0h1v10h-1zM224 0h1v10h-1zM231 0h1v10h-1zM241 0h1v10h-1zM254 0h2v10h-2zM263 0h1v10h-1zM301 0h1v10h-1zM332 0h2v10h-2zM338 0h1v10h-1zM339 0h3v10h-3zM352 0h3v10h-3z"/><path fill="#4f576c" fill-opacity="0.5" d="M16 0h2v10h-2zM74 0h1v10h-1zM125 0h3v10h-3zM129 0h1v10h-1z"/><path fill="#fee838" fill-opacity="0.1" d="M365 0h1v10h-1z"/><path fill="#fee838" fill-opacity="0.15" d="M21 0h2v10h-2zM35 0h3v10h-3zM91 0h1v10h-1zM103 0h2v10h-2zM120 0h3v10h-3zM158 0h3v10h-3zM205 0h3v10h-3zM389 0h3v10h-3zM392 0h1v10h-1z"/><path fill="#fee838" fill-opacity="0.2" d="M75 0h3v10h-3zM88 0h1v10h-1zM182 0h1v10h-1zM226 0h3v10h-3zM234 0h2v10h-2zM271 0h1v10h-1zM319 0h2v10h-2zM322 0h2v10h-2zM369 0h1v10h-1zM376 0h2v10h-2zM382 0h3v10h-3z"/><path fill="#fee838" fill-opacity="0.25" d="M34 0h1v10h-1zM90 0h1v10h-1zM116 0h1v10h-1zM164 0h2v10h-2zM172 0h1v10h-1zM247 0h1v10h-1zM306 0h1v10h-1zM308 0h2v10h-2zM395 0h2v10h-2z"/><path fill="#fee838" fill-opacity="0.3" d="M3 0h1v10h-1zM27 0h1v10h-1zM60 0h1v10h-1zM99 0h3v10h-3zM136 0h1v10h-1zM187 0h1v10h-1zM249 0h2v10h-2zM272 0h2v10h-2zM334 0h3v10h-3z"/><path fill="#fee838" fill-opacity="0.35" d="M30 0h2v10h-2zM139 0h2v10h-2zM141 0h3v10h-3zM151 0h2v10h-2zM161 0h1v10h-1zM184 0h3v10h-3zM212 0h2v10h-2z"/><path fill="#fee838" fill-opacity="0.4" d="M2 0h1v10h-1zM23 0h3v10h-3zM43 0h1v10h-1zM47 0h3v10h-3zM86 0h2v10h-2zM149 0h2v10h-2zM178 0h1v10h-1zM194 0h2v10h-2zM225 0h1v10h-1zM229 0h1v10h-1zM291 0h3v10h-3zM388 0h1v10h-1zM393 0h2v10h-2z"/><path fill="#fee838" fill-opacity="0.45" d="M0 0h1v10h-1zM55 0h2v10h-2zM79 0h1v10h-1zM85 0h1v10h-1zM124 0h1v10h-1zM168 0h1v10h-1zM196 0h2v10h-2zM244 0h3v10h-3zM300 0h1v10h-1zM315 0h1v10h-1zM331 0h1v10h-1zM343 0h1v10h-1zM349 0h1v10h-1zM355 0h1v10h-1z"/><path fill="#fee838" fill-opacity="0.5" d="M13 0h1v10h-1zM71 0h1v10h-1zM238 0h1v10h-1zM270 0h1v10h-1zM282 0h1v10h-1z"/><path fill="#fee838" fill-opacity="0.55" d="M57 0h1v10h-1zM208 0h2v10h-2zM252 0h1v10h-1zM277 0h2v10h-2zM281 0h1v10h-1z"/></pattern><pattern id="y1" patternUnits="userSpaceOnUse" width="397" height="10"><path fill="#4f576c" fill-opacity="0.15" d="M47 0h2v10h-2zM59 0h2v10h-2zM119 0h1v10h-1zM192 0h1v10h-1zM274 0h1v10h-1zM276 0h1v10h-1zM351 0h3v10h-3zM357 0h1v10h-1z"/><path fill="#4f576c" fill-opacity="0.2" d="M31 0h3v10h-3zM87 0h1v10h-1zM94 0h2v10h-2zM97 0h1v10h-1zM124 0h3v10h-3zM142 0h2v10h-2zM159 0h1v10h-1zM184 0h2v10h-2zM229 0h1v10h-1zM243 0h2v10h-2zM250 0h1v10h-1zM309 0h1v10h-1zM346 0h1v10h-1zM358 0h1v10h-1z"/><path fill="#4f576c" fill-opacity="0.25" d="M2 0h2v10h-2zM7 0h1v10h-1zM30 0h1v10h-1zM112 0h2v10h-2zM168 0h3v10h-3zM171 0h1v10h-1zM186 0h2v10h-2zM219 0h2v10h-2zM226 0h3v10h-3zM295 0h2v10h-2zM393 0h1v10h-1z"/><path fill="#4f576c" fill-opacity="0.3" d="M80 0h1v10h-1zM133 0h2v10h-2zM224 0h2v10h-2zM257 0h3v10h-3zM283 0h1v10h-1zM287 0h1v10h-1zM354 0h2v10h-2z"/><path fill="#4f576c" fill-opacity="0.35" d="M117 0h2v10h-2zM122 0h1v10h-1zM127 0h1v10h-1zM161 0h1v10h-1zM167 0h1v10h-1zM175 0h2v10h-2zM245 0h2v10h-2zM247 0h2v10h-2zM251 0h1v10h-1zM273 0h1v10h-1zM341 0h1v10h-1zM391 0h1v10h-1z"/><path fill="#4f576c" fill-opacity="0.4" d="M110 0h1v10h-1zM135 0h1v10h-1zM158 0h1v10h-1zM223 0h1v10h-1zM328 0h1v10h-1z"/><path fill="#4f576c" fill-opacity="0.45" d="M16 0h2v10h-2zM98 0h1v10h-1zM101 0h1v10h-1zM180 0h3v10h-3zM209 0h3v10h-3zM329 0h1v10h-1zM381 0h3v10h-3z"/><path fill="#4f576c" fill-opacity="0.5" d="M91 0h2v10h-2zM100 0h1v10h-1zM164 0h3v10h-3zM288 0h2v10h-2zM321 0h2v10h-2z"/><path fill="#fee838" fill-opacity="0.1" d="M11 0h2v10h-2zM46 0h1v10h-1zM64 0h3v10h-3zM85 0h1v10h-1zM93 0h1v10h-1zM129 0h1v10h-1zM144 0h1v10h-1zM172 0h2v10h-2zM316 0h3v10h-3z"/><path fill="#fee838" fill-opacity="0.15" d="M40 0h3v10h-3zM145 0h2v10h-2zM152 0h3v10h-3zM183 0h1v10h-1zM215 0h1v10h-1zM290 0h1v10h-1z"/><path fill="#fee838" fill-opacity="0.2" d="M53 0h2v10h-2zM70 0h2v10h-2zM128 0h1v10h-1zM212 0h1v10h-1zM242 0h1v10h-1zM267 0h3v10h-3zM319 0h2v10h-2zM335 0h1v10h-1zM387 0h2v10h-2z"/><path fill="#fee838" fill-opacity="0.25" d="M18 0h3v10h-3zM21 0h1v10h-1zM50 0h3v10h-3zM130 0h2v10h-2zM312 0h1v10h-1zM314 0h2v10h-2zM323 0h1v10h-1zM324 0h2v10h-2zM370 0h2v10h-2z"/><path fill="#fee838" fill-opacity="0.3" d="M0 0h1v10h-1zM25 0h2v10h-2zM36 0h1v10h-1zM205 0h1v10h-1zM231 0h1v10h-1zM237 0h1v10h-1zM238 0h1v10h-1zM293 0h2v10h-2zM303 0h3v10h-3zM363 0h2v10h-2z"/><path fill="#fee838" fill-opacity="0.35" d="M4 0h2v10h-2zM43 0h3v10h-3zM72 0h1v10h-1zM141 0h1v10h-1zM147 0h1v10h-1zM151 0h1v10h-1zM199 0h2v10h-2zM218 0h1v10h-1z"/><path fill="#fee838" fill-opacity="0.4" d="M10 0h1v10h-1zM61 0h1v10h-1zM88 0h3v10h-3zM139 0h2v10h-2zM195 0h3v10h-3zM198 0h1v10h-1zM233 0h1v10h-1zM275 0h1v10h-1zM378 0h1v10h-1z"/><path fill="#fee838" fill-opacity="0.45" d="M13 0h3v10h-3zM49 0h1v10h-1zM67 0h3v10h-3zM96 0h1v10h-1zM111 0h1v10h-1zM160 0h1v10h-1zM163 0h1v10h-1zM240 0h2v10h-2zM249 0h1v10h-1zM255 0h2v10h-2zM270 0h3v10h-3zM330 0h1v10h-1zM359 0h2v10h-2z"/><path fill="#fee838" fill-opacity="0.5" d="M22 0h2v10h-2zM114 0h3v10h-3zM213 0h2v10h-2zM230 0h1v10h-1zM300 0h1v10h-1zM310 0h2v10h-2zM347 0h1v10h-1z"/><path fill="#fee838" fill-opacity="0.55" d="M6 0h1v10h-1z"/></pattern><pattern id="y2" patternUnits="userSpaceOnUse" width="397" height="10"><path fill="#4f576c" fill-opacity="0.15" d="M22 0h1v10h-1zM40 0h1v10h-1zM58 0h1v10h-1zM187 0h2v10h-2z"/><path fill="#4f576c" fill-opacity="0.2" d="M56 0h1v10h-1zM93 0h2v10h-2zM230 0h1v10h-1zM350 0h1v10h-1z"/><path fill="#4f576c" fill-opacity="0.25" d="M25 0h1v10h-1zM92 0h1v10h-1zM194 0h1v10h-1zM246 0h1v10h-1zM273 0h1v10h-1zM285 0h2v10h-2zM323 0h1v10h-1zM341 0h1v10h-1zM351 0h1v10h-1zM356 0h1v10h-1zM390 0h1v10h-1z"/><path fill="#4f576c" fill-opacity="0.3" d="M0 0h2v10h-2zM75 0h3v10h-3zM78 0h2v10h-2zM86 0h3v10h-3zM98 0h1v10h-1zM157 0h2v10h-2zM190 0h3v10h-3zM249 0h3v10h-3zM253 0h2v10h-2zM277 0h3v10h-3zM280 0h1v10h-1zM386 0h2v10h-2z"/><path fill="#4f576c" fill-opacity="0.35" d="M10 0h1v10h-1zM54 0h2v10h-2zM68 0h1v10h-1zM129 0h2v10h-2zM161 0h2v10h-2zM247 0h2v10h-2zM261 0h1v10h-1zM289 0h1v10h-1zM393 0h1v10h-1z"/><path fill="#4f576c" fill-opacity="0.4" d="M16 0h1v10h-1zM17 0h1v10h-1zM33 0h2v10h-2zM50 0h1v10h-1zM59 0h1v10h-1zM83 0h3v10h-3zM128 0h1v10h-1zM144 0h2v10h-2zM154 0h1v10h-1zM297 0h1v10h-1zM315 0h2v10h-2zM345 0h1v10h-1zM375 0h1v10h-1z"/><path fill="#4f576c" fill-opacity="0.45" d="M18 0h2v10h-2zM57 0h1v10h-1zM73 0h2v10h-2zM132 0h1v10h-1zM160 0h1v10h-1zM167 0h2v10h-2zM169 0h1v10h-1zM170 0h1v10h-1zM174 0h1v10h-1zM193 0h1v10h-1zM331 0h2v10h-2zM370 0h3v10h-3zM380 0h1v10h-1zM391 0h2v10h-2z"/><path fill="#4f576c" fill-opacity="0.5" d="M41 0h3v10h-3zM146 0h2v10h-2zM207 0h1v10h-1zM240 0h1v10h-1zM309 0h1v10h-1zM394 0h2v10h-2zM396 0h1v10h-1z"/><path fill="#fee838" fill-opacity="0.1" d="M198 0h2v10h-2zM204 0h2v10h-2zM241 0h1v10h-1z"/><path fill="#fee838" fill-opacity="0.15" d="M23 0h1v10h-1zM38 0h2v10h-2zM71 0h2v10h-2zM114 0h1v10h-1zM312 0h1v10h-1zM317 0h2v10h-2zM367 0h1v10h-1z"/><path fill="#fee838" fill-opacity="0.2" d="M29 0h2v10h-2zM53 0h1v10h-1zM101 0h3v10h-3zM124 0h1v10h-1zM252 0h1v10h-1zM306 0h2v10h-2zM359 0h2v10h-2zM364 0h3v10h-3z"/><path fill="#fee838" fill-opacity="0.25" d="M110 0h1v10h-1zM201 0h1v10h-1zM227 0h1v10h-1zM238 0h2v10h-2zM259 0h2v10h-2zM262 0h3v10h-3zM302 0h1v10h-1zM334 0h2v10h-2zM352 0h1v10h-1zM381 0h2v10h-2z"/><path fill="#fee838" fill-opacity="0.3" d="M3 0h2v10h-2zM63 0h1v10h-1zM111 0h1v10h-1zM123 0h1v10h-1zM213 0h3v10h-3zM233 0h3v10h-3zM294 0h3v10h-3z"/><path fill="#fee838" fill-opacity="0.35" d="M106 0h1v10h-1zM133 0h1v10h-1zM136 0h1v10h-1zM175 0h2v10h-2zM185 0h2v10h-2zM208 0h1v10h-1zM283 0h2v10h-2zM290 0h3v10h-3zM325 0h1v10h-1zM326 0h1v10h-1z"/><path fill="#fee838" fill-opacity="0.4" d="M24 0h1v10h-1zM31 0h2v10h-2zM49 0h1v10h-1zM108 0h2v10h-2zM164 0h2v10h-2zM225 0h2v10h-2zM231 0h2v10h-2zM243 0h3v10h-3zM269 0h2v10h-2zM282 0h1v10h-1zM287 0h2v10h-2z"/><path fill="#fee838" fill-opacity="0.45" d="M21 0h1v10h-1zM112 0h1v10h-1zM156 0h1v10h-1zM163 0h1v10h-1zM195 0h3v10h-3zM258 0h1v10h-1zM281 0h1v10h-1zM319 0h2v10h-2zM342 0h3v10h-3zM388 0h1v10h-1z"/><path fill="#fee838" fill-opacity="0.5" d="M20 0h1v10h-1zM61 0h2v10h-2zM95 0h3v10h-3zM155 0h1v10h-1zM237 0h1v10h-1zM255 0h3v10h-3zM324 0h1v10h-1zM346 0h3v10h-3zM357 0h2v10h-2zM363 0h1v10h-1zM389 0h1v10h-1z"/><path fill="#fee838" fill-opacity="0.55" d="M46 0h3v10h-3zM64 0h1v10h-1zM159 0h1v10h-1zM189 0h1v10h-1zM267 0h1v10h-1zM368 0h2v10h-2z"/></pattern><pattern id="y3" patternUnits="userSpaceOnUse" width="397" height="10"><path fill="#4f576c" fill-opacity="0.15" d="M48 0h1v10h-1zM112 0h3v10h-3zM274 0h3v10h-3zM338 0h3v10h-3zM355 0h1v10h-1z"/><path fill="#4f576c" fill-opacity="0.2" d="M1 0h2v10h-2zM35 0h1v10h-1zM59 0h1v10h-1zM80 0h3v10h-3zM129 0h1v10h-1zM135 0h1v10h-1zM159 0h1v10h-1zM160 0h1v10h-1zM197 0h2v10h-2zM222 0h2v10h-2zM226 0h2v10h-2zM242 0h1v10h-1zM246 0h2v10h-2zM267 0h1v10h-1zM314 0h1v10h-1zM331 0h3v10h-3zM348 0h2v10h-2z"/><path fill="#4f576c" fill-opacity="0.25" d="M77 0h3v10h-3zM98 0h2v10h-2zM123 0h2v10h-2zM163 0h1v10h-1zM185 0h3v10h-3zM206 0h2v10h-2zM214 0h2v10h-2zM327 0h1v10h-1zM365 0h1v10h-1zM390 0h1v10h-1z"/><path fill="#4f576c" fill-opacity="0.3" d="M16 0h2v10h-2zM19 0h1v10h-1zM45 0h1v10h-1zM109 0h1v10h-1zM118 0h1v10h-1zM208 0h1v10h-1zM248 0h2v10h-2zM273 0h1v10h-1zM337 0h1v10h-1zM381 0h1v10h-1z"/><path fill="#4f576c" fill-opacity="0.35" d="M83 0h2v10h-2zM88 0h2v10h-2zM261 0h2v10h-2zM395 0h2v10h-2z"/><path fill="#4f576c" fill-opacity="0.4" d="M7 0h2v10h-2zM38 0h1v10h-1zM53 0h1v10h-1zM63 0h1v10h-1zM115 0h3v10h-3zM131 0h2v10h-2zM139 0h3v10h-3zM200 0h2v10h-2zM236 0h1v10h-1zM259 0h2v10h-2zM263 0h1v10h-1zM388 0h2v10h-2z"/><path fill="#4f576c" fill-opacity="0.45" d="M41 0h1v10h-1zM64 0h2v10h-2zM108 0h1v10h-1zM169 0h1v10h-1zM170 0h1v10h-1zM202 0h2v10h-2zM204 0h1v10h-1zM279 0h1v10h-1z"/><path fill="#4f576c" fill-opacity="0.5" d="M85 0h2v10h-2zM100 0h3v10h-3zM110 0h1v10h-1zM150 0h1v10h-1zM155 0h2v10h-2zM157 0h1v10h-1zM281 0h2v10h-2zM310 0h1v10h-1zM328 0h3v10h-3zM354 0h1v10h-1zM357 0h3v10h-3z"/><path fill="#fee838" fill-opacity="0.1" d="M315 0h1v10h-1zM356 0h1v10h-1z"/><path fill="#fee838" fill-opacity="0.15" d="M27 0h3v10h-3zM54 0h3v10h-3zM103 0h1v10h-1zM125 0h1v10h-1zM146 0h1v10h-1zM194 0h1v10h-1zM254 0h2v10h-2zM300 0h2v10h-2zM311 0h3v10h-3z"/><path fill="#fee838" fill-opacity="0.2" d="M3 0h3v10h-3zM34 0h1v10h-1zM127 0h2v10h-2zM136 0h1v10h-1zM145 0h1v10h-1zM171 0h2v10h-2zM188 0h2v10h-2zM294 0h1v10h-1zM391 0h1v10h-1zM393 0h1v10h-1zM394 0h1v10h-1z"/><path fill="#fee838" fill-opacity="0.25" d="M104 0h2v10h-2zM161 0h2v10h-2zM360 0h1v10h-1zM361 0h2v10h-2zM377 0h3v10h-3zM382 0h2v10h-2zM386 0h2v10h-2z"/><path fill="#fee838" fill-opacity="0.3" d="M51 0h1v10h-1zM152 0h2v10h-2zM211 0h3v10h-3zM228 0h3v10h-3zM297 0h2v10h-2zM384 0h2v10h-2z"/><path fill="#fee838" fill-opacity="0.35" d="M106 0h2v10h-2zM142 0h2v10h-2zM283 0h2v10h-2zM285 0h2v10h-2zM316 0h2v10h-2zM341 0h3v10h-3z"/><path fill="#fee838" fill-opacity="0.4" d="M32 0h2v10h-2zM40 0h1v10h-1zM43 0h2v10h-2zM49 0h2v10h-2zM61 0h1v10h-1zM76 0h1v10h-1zM87 0h1v10h-1zM174 0h1v10h-1zM175 0h3v10h-3zM199 0h1v10h-1zM209 0h1v10h-1z"/><path fill="#fee838" fill-opacity="0.45" d="M6 0h1v10h-1zM66 0h1v10h-1zM147 0h2v10h-2zM270 0h2v10h-2zM322 0h1v10h-1z"/><path fill="#fee838" fill-opacity="0.5" d="M10 0h3v10h-3zM73 0h2v10h-2zM94 0h3v10h-3zM205 0h1v10h-1zM219 0h3v10h-3zM237 0h3v10h-3zM323 0h1v10h-1zM350 0h2v10h-2z"/><path fill="#fee838" fill-opacity="0.55" d="M23 0h1v10h-1zM42 0h1v10h-1zM57 0h2v10h-2zM62 0h1v10h-1zM138 0h1v10h-1zM232 0h2v10h-2zM240 0h2v10h-2zM256 0h3v10h-3zM374 0h3v10h-3z"/></pattern><pattern id="p0" patternUnits="userSpaceOnUse" width="397" height="10"><path fill="#0a2d6a" fill-opacity="0.3" d="M115 0h2v10h-2zM121 0h1v10h-1zM175 0h1v10h-1zM274 0h1v10h-1zM340 0h1v10h-1zM385 0h1v10h-1z"/><path fill="#0a2d6a" fill-opacity="0.35" d="M4 0h2v10h-2zM23 0h1v10h-1zM44 0h1v10h-1zM140 0h2v10h-2zM221 0h1v10h-1zM343 0h1v10h-1z"/><path fill="#0a2d6a" fill-opacity="0.4" d="M60 0h1v10h-1zM93 0h1v10h-1zM99 0h1v10h-1zM152 0h1v10h-1zM229 0h1v10h-1zM266 0h3v10h-3zM269 0h1v10h-1zM363 0h3v10h-3z"/><path fill="#0a2d6a" fill-opacity="0.45" d="M6 0h1v10h-1zM81 0h1v10h-1zM103 0h1v10h-1zM149 0h3v10h-3zM182 0h2v10h-2zM258 0h1v10h-1zM319 0h2v10h-2zM377 0h1v10h-1z"/><path fill="#0a2d6a" fill-opacity="0.5" d="M3 0h1v10h-1zM8 0h3v10h-3zM55 0h2v10h-2zM62 0h1v10h-1zM145 0h3v10h-3zM158 0h2v10h-2zM168 0h1v10h-1zM173 0h2v10h-2zM195 0h1v10h-1zM250 0h2v10h-2zM264 0h1v10h-1zM289 0h3v10h-3zM313 0h3v10h-3zM366 0h3v10h-3zM379 0h2v10h-2z"/><path fill="#0a2d6a" fill-opacity="0.55" d="M156 0h1v10h-1zM200 0h2v10h-2zM225 0h1v10h-1zM342 0h1v10h-1zM382 0h1v10h-1zM396 0h1v10h-1z"/><path fill="#0a2d6a" fill-opacity="0.6" d="M20 0h1v10h-1zM163 0h1v10h-1zM188 0h2v10h-2zM260 0h3v10h-3zM285 0h3v10h-3zM311 0h1v10h-1z"/><path fill="#0a2d6a" fill-opacity="0.65" d="M7 0h1v10h-1zM63 0h2v10h-2zM164 0h2v10h-2zM345 0h3v10h-3zM361 0h2v10h-2z"/><path fill="#0a2d6a" fill-opacity="0.7" d="M70 0h3v10h-3zM136 0h1v10h-1zM153 0h2v10h-2zM167 0h1v10h-1zM375 0h1v10h-1z"/><path fill="#fee838" fill-opacity="0.4" d="M41 0h1v10h-1zM157 0h1v10h-1zM217 0h1v10h-1zM280 0h1v10h-1z"/><path fill="#fee838" fill-opacity="0.45" d="M95 0h1v10h-1zM108 0h2v10h-2zM122 0h3v10h-3zM202 0h3v10h-3zM242 0h2v10h-2zM263 0h1v10h-1zM281 0h2v10h-2zM360 0h1v10h-1z"/><path fill="#fee838" fill-opacity="0.5" d="M48 0h2v10h-2zM59 0h1v10h-1zM75 0h2v10h-2zM82 0h3v10h-3zM119 0h2v10h-2zM129 0h1v10h-1zM148 0h1v10h-1zM277 0h2v10h-2zM298 0h2v10h-2z"/><path fill="#fee838" fill-opacity="0.55" d="M11 0h1v10h-1zM90 0h3v10h-3zM125 0h1v10h-1zM234 0h1v10h-1zM239 0h3v10h-3zM297 0h1v10h-1zM300 0h2v10h-2zM312 0h1v10h-1zM324 0h3v10h-3zM337 0h3v10h-3z"/><path fill="#fee838" fill-opacity="0.6" d="M38 0h3v10h-3zM50 0h1v10h-1zM51 0h1v10h-1zM67 0h3v10h-3zM79 0h1v10h-1zM166 0h1v10h-1zM178 0h3v10h-3zM227 0h1v10h-1zM248 0h2v10h-2zM292 0h2v10h-2zM388 0h3v10h-3z"/><path fill="#fee838" fill-opacity="0.65" d="M24 0h1v10h-1zM127 0h2v10h-2zM330 0h1v10h-1z"/><path fill="#fee838" fill-opacity="0.7" d="M77 0h1v10h-1zM265 0h1v10h-1zM369 0h3v10h-3zM381 0h1v10h-1zM386 0h2v10h-2z"/><path fill="#fee838" fill-opacity="0.75" d="M25 0h3v10h-3zM42 0h2v10h-2zM52 0h3v10h-3zM205 0h1v10h-1zM252 0h2v10h-2zM275 0h2v10h-2zM348 0h3v10h-3z"/><path fill="#fee838" fill-opacity="0.8" d="M139 0h1v10h-1zM184 0h3v10h-3zM194 0h1v10h-1zM270 0h1v10h-1zM341 0h1v10h-1z"/><path fill="#fee838" fill-opacity="0.85" d="M117 0h2v10h-2zM155 0h1v10h-1zM187 0h1v10h-1zM294 0h1v10h-1zM302 0h3v10h-3zM321 0h3v10h-3zM351 0h3v10h-3z"/><path fill="#fee838" fill-opacity="0.9" d="M78 0h1v10h-1zM80 0h1v10h-1zM142 0h2v10h-2zM230 0h3v10h-3zM334 0h1v10h-1zM335 0h2v10h-2zM354 0h3v10h-3z"/><path fill="#fee838" fill-opacity="0.95" d="M305 0h2v10h-2z"/></pattern><pattern id="p1" patternUnits="userSpaceOnUse" width="397" height="10"><path fill="#0a2d6a" fill-opacity="0.3" d="M21 0h3v10h-3zM79 0h1v10h-1zM217 0h3v10h-3zM284 0h3v10h-3zM297 0h1v10h-1z"/><path fill="#0a2d6a" fill-opacity="0.35" d="M8 0h1v10h-1zM114 0h1v10h-1zM125 0h3v10h-3zM144 0h2v10h-2zM167 0h2v10h-2zM170 0h1v10h-1zM249 0h1v10h-1zM294 0h1v10h-1z"/><path fill="#0a2d6a" fill-opacity="0.4" d="M2 0h3v10h-3zM97 0h1v10h-1zM109 0h2v10h-2zM231 0h2v10h-2zM264 0h2v10h-2zM279 0h1v10h-1zM311 0h3v10h-3zM385 0h1v10h-1z"/><path fill="#0a2d6a" fill-opacity="0.45" d="M53 0h3v10h-3zM71 0h1v10h-1z"/><path fill="#0a2d6a" fill-opacity="0.5" d="M65 0h1v10h-1zM93 0h1v10h-1zM94 0h3v10h-3zM129 0h2v10h-2zM164 0h1v10h-1zM182 0h1v10h-1z"/><path fill="#0a2d6a" fill-opacity="0.55" d="M59 0h1v10h-1zM157 0h1v10h-1zM180 0h1v10h-1zM191 0h1v10h-1zM196 0h1v10h-1zM220 0h2v10h-2zM327 0h3v10h-3z"/><path fill="#0a2d6a" fill-opacity="0.6" d="M16 0h1v10h-1zM162 0h2v10h-2zM245 0h3v10h-3zM257 0h2v10h-2zM336 0h1v10h-1zM342 0h1v10h-1zM350 0h1v10h-1zM359 0h3v10h-3zM393 0h1v10h-1z"/><path fill="#0a2d6a" fill-opacity="0.65" d="M0 0h2v10h-2zM66 0h1v10h-1zM195 0h1v10h-1zM200 0h1v10h-1zM210 0h3v10h-3zM273 0h2v10h-2zM278 0h1v10h-1zM333 0h1v10h-1zM334 0h2v10h-2z"/><path fill="#0a2d6a" fill-opacity="0.7" d="M74 0h2v10h-2zM101 0h3v10h-3zM121 0h3v10h-3zM132 0h2v10h-2z"/><path fill="#fee838" fill-opacity="0.4" d="M17 0h1v10h-1zM50 0h3v10h-3zM153 0h1v10h-1zM174 0h2v10h-2zM204 0h3v10h-3zM362 0h2v10h-2z"/><path fill="#fee838" fill-opacity="0.45" d="M72 0h2v10h-2zM80 0h1v10h-1zM178 0h1v10h-1zM189 0h1v10h-1zM197 0h3v10h-3zM295 0h1v10h-1zM307 0h2v10h-2zM373 0h2v10h-2zM383 0h1v10h-1z"/><path fill="#fee838" fill-opacity="0.5" d="M43 0h1v10h-1zM262 0h1v10h-1zM263 0h1v10h-1zM268 0h2v10h-2zM270 0h1v10h-1zM370 0h3v10h-3z"/><path fill="#fee838" fill-opacity="0.55" d="M18 0h1v10h-1zM40 0h3v10h-3zM76 0h3v10h-3zM90 0h1v10h-1zM91 0h1v10h-1zM111 0h1v10h-1zM139 0h1v10h-1zM214 0h3v10h-3zM226 0h3v10h-3zM254 0h2v10h-2zM364 0h1v10h-1zM382 0h1v10h-1zM391 0h1v10h-1z"/><path fill="#fee838" fill-opacity="0.6" d="M44 0h2v10h-2zM67 0h3v10h-3zM81 0h2v10h-2zM134 0h1v10h-1zM135 0h3v10h-3zM193 0h1v10h-1zM348 0h1v10h-1zM394 0h2v10h-2z"/><path fill="#fee838" fill-opacity="0.65" d="M118 0h3v10h-3zM186 0h1v10h-1zM223 0h1v10h-1zM281 0h3v10h-3zM292 0h2v10h-2zM310 0h1v10h-1zM317 0h3v10h-3zM337 0h2v10h-2z"/><path fill="#fee838" fill-opacity="0.7" d="M35 0h2v10h-2zM105 0h3v10h-3zM213 0h1v10h-1zM233 0h1v10h-1zM250 0h2v10h-2zM309 0h1v10h-1zM320 0h1v10h-1zM349 0h1v10h-1z"/><path fill="#fee838" fill-opacity="0.75" d="M61 0h3v10h-3zM159 0h3v10h-3zM184 0h1v10h-1zM192 0h1v10h-1zM229 0h2v10h-2zM324 0h3v10h-3zM365 0h3v10h-3zM375 0h1v10h-1z"/><path fill="#fee838" fill-opacity="0.8" d="M9 0h2v10h-2zM30 0h2v10h-2zM32 0h2v10h-2zM84 0h1v10h-1zM146 0h2v10h-2zM173 0h1v10h-1zM275 0h1v10h-1zM303 0h3v10h-3z"/><path fill="#fee838" fill-opacity="0.85" d="M104 0h1v10h-1zM116 0h2v10h-2zM188 0h1v10h-1zM222 0h1v10h-1zM224 0h2v10h-2zM242 0h3v10h-3zM315 0h2v10h-2zM346 0h2v10h-2z"/><path fill="#fee838" fill-opacity="0.9" d="M49 0h1v10h-1zM124 0h1v10h-1zM128 0h1v10h-1zM154 0h3v10h-3zM171 0h2v10h-2z"/><path fill="#fee838" fill-opacity="0.95" d="M13 0h3v10h-3zM181 0h1v10h-1zM301 0h1v10h-1zM306 0h1v10h-1z"/></pattern><pattern id="p2" patternUnits="userSpaceOnUse" width="397" height="10"><path fill="#0a2d6a" fill-opacity="0.3" d="M134 0h3v10h-3zM189 0h2v10h-2zM225 0h3v10h-3zM310 0h2v10h-2zM367 0h1v10h-1zM394 0h2v10h-2z"/><path fill="#0a2d6a" fill-opacity="0.35" d="M27 0h2v10h-2zM46 0h1v10h-1zM59 0h1v10h-1zM105 0h3v10h-3zM116 0h1v10h-1zM347 0h3v10h-3zM352 0h2v10h-2zM355 0h3v10h-3z"/><path fill="#0a2d6a" fill-opacity="0.4" d="M93 0h2v10h-2zM112 0h1v10h-1zM196 0h2v10h-2zM207 0h2v10h-2zM244 0h1v10h-1zM329 0h1v10h-1zM365 0h1v10h-1z"/><path fill="#0a2d6a" fill-opacity="0.45" d="M91 0h2v10h-2zM213 0h3v10h-3zM255 0h2v10h-2zM267 0h2v10h-2zM274 0h1v10h-1zM277 0h1v10h-1zM313 0h3v10h-3zM345 0h1v10h-1z"/><path fill="#0a2d6a" fill-opacity="0.5" d="M0 0h3v10h-3zM11 0h1v10h-1zM55 0h1v10h-1zM67 0h2v10h-2zM252 0h2v10h-2zM300 0h2v10h-2zM324 0h1v10h-1zM326 0h1v10h-1zM332 0h2v10h-2zM379 0h1v10h-1z"/><path fill="#0a2d6a" fill-opacity="0.55" d="M31 0h1v10h-1zM123 0h1v10h-1zM131 0h3v10h-3zM230 0h2v10h-2zM264 0h3v10h-3zM318 0h3v10h-3zM327 0h1v10h-1z"/><path fill="#0a2d6a" fill-opacity="0.6" d="M41 0h2v10h-2zM47 0h1v10h-1zM79 0h1v10h-1zM155 0h2v10h-2zM254 0h1v10h-1zM263 0h1v10h-1zM275 0h2v10h-2zM281 0h1v10h-1z"/><path fill="#0a2d6a" fill-opacity="0.65" d="M88 0h1v10h-1zM124 0h1v10h-1zM130 0h1v10h-1zM139 0h1v10h-1zM173 0h3v10h-3zM179 0h1v10h-1zM325 0h1v10h-1zM371 0h2v10h-2z"/><path fill="#0a2d6a" fill-opacity="0.7" d="M65 0h1v10h-1zM286 0h1v10h-1z"/><path fill="#fee838" fill-opacity="0.45" d="M19 0h1v10h-1zM36 0h1v10h-1zM43 0h2v10h-2zM80 0h2v10h-2zM176 0h3v10h-3zM291 0h3v10h-3z"/><path fill="#fee838" fill-opacity="0.5" d="M34 0h2v10h-2zM146 0h2v10h-2zM166 0h2v10h-2zM240 0h1v10h-1z"/><path fill="#fee838" fill-opacity="0.55" d="M32 0h1v10h-1zM84 0h2v10h-2zM145 0h1v10h-1zM206 0h1v10h-1zM209 0h1v10h-1zM308 0h1v10h-1zM312 0h1v10h-1zM344 0h1v10h-1z"/><path fill="#fee838" fill-opacity="0.6" d="M7 0h3v10h-3zM13 0h2v10h-2zM96 0h2v10h-2zM140 0h1v10h-1zM185 0h2v10h-2zM246 0h1v10h-1zM354 0h1v10h-1zM388 0h2v10h-2z"/><path fill="#fee838" fill-opacity="0.65" d="M22 0h3v10h-3zM157 0h3v10h-3zM204 0h1v10h-1zM235 0h3v10h-3zM250 0h1v10h-1zM257 0h1v10h-1zM271 0h3v10h-3zM294 0h1v10h-1z"/><path fill="#fee838" fill-opacity="0.7" d="M10 0h1v10h-1zM12 0h1v10h-1zM33 0h1v10h-1zM117 0h3v10h-3zM148 0h2v10h-2zM170 0h3v10h-3z"/><path fill="#fee838" fill-opacity="0.75" d="M137 0h1v10h-1zM150 0h3v10h-3zM245 0h1v10h-1zM258 0h1v10h-1zM350 0h1v10h-1zM370 0h1v10h-1z"/><path fill="#fee838" fill-opacity="0.8" d="M54 0h1v10h-1zM89 0h1v10h-1zM90 0h1v10h-1zM100 0h2v10h-2zM193 0h3v10h-3zM205 0h1v10h-1zM216 0h3v10h-3zM295 0h3v10h-3z"/><path fill="#fee838" fill-opacity="0.85" d="M3 0h2v10h-2zM21 0h1v10h-1zM56 0h2v10h-2zM120 0h1v10h-1zM163 0h3v10h-3zM288 0h3v10h-3zM303 0h3v10h-3z"/><path fill="#fee838" fill-opacity="0.9" d="M48 0h3v10h-3zM63 0h2v10h-2zM75 0h2v10h-2zM98 0h1v10h-1zM160 0h3v10h-3zM219 0h2v10h-2zM269 0h2v10h-2z"/><path fill="#fee838" fill-opacity="0.95" d="M138 0h1v10h-1zM224 0h1v10h-1zM280 0h1v10h-1zM287 0h1v10h-1zM363 0h1v10h-1z"/></pattern><pattern id="v0" patternUnits="userSpaceOnUse" width="397" height="10"><path fill="#00224e" fill-opacity="0.2" d="M88 0h2v10h-2zM134 0h1v10h-1zM198 0h1v10h-1zM202 0h1v10h-1zM385 0h1v10h-1z"/><path fill="#00224e" fill-opacity="0.25" d="M24 0h1v10h-1zM77 0h1v10h-1zM94 0h1v10h-1zM164 0h1v10h-1zM218 0h1v10h-1zM376 0h1v10h-1z"/><path fill="#00224e" fill-opacity="0.3" d="M113 0h1v10h-1zM367 0h1v10h-1z"/><path fill="#00224e" fill-opacity="0.35" d="M17 0h1v10h-1zM67 0h1v10h-1zM131 0h1v10h-1zM137 0h1v10h-1zM237 0h1v10h-1z"/><path fill="#00224e" fill-opacity="0.4" d="M6 0h1v10h-1zM128 0h1v10h-1zM186 0h2v10h-2z"/><path fill="#00224e" fill-opacity="0.45" d="M20 0h1v10h-1zM70 0h1v10h-1zM104 0h2v10h-2zM138 0h1v10h-1zM173 0h1v10h-1zM217 0h1v10h-1zM232 0h1v10h-1zM247 0h1v10h-1zM253 0h1v10h-1zM257 0h1v10h-1zM259 0h1v10h-1zM345 0h1v10h-1zM374 0h1v10h-1z"/><path fill="#00224e" fill-opacity="0.5" d="M71 0h1v10h-1z"/><path fill="#8a8779" fill-opacity="0.1" d="M143 0h1v10h-1z"/><path fill="#8a8779" fill-opacity="0.15" d="M54 0h1v10h-1zM263 0h1v10h-1zM280 0h2v10h-2zM310 0h1v10h-1zM353 0h1v10h-1z"/><path fill="#8a8779" fill-opacity="0.2" d="M103 0h1v10h-1zM238 0h1v10h-1zM304 0h1v10h-1zM351 0h1v10h-1z"/><path fill="#8a8779" fill-opacity="0.25" d="M5 0h1v10h-1zM14 0h2v10h-2zM60 0h2v10h-2zM211 0h2v10h-2zM231 0h1v10h-1zM298 0h2v10h-2zM349 0h1v10h-1zM382 0h2v10h-2z"/><path fill="#8a8779" fill-opacity="0.3" d="M21 0h1v10h-1zM200 0h1v10h-1zM219 0h1v10h-1z"/></pattern><pattern id="v1" patternUnits="userSpaceOnUse" width="397" height="10"><path fill="#00224e" fill-opacity="0.2" d="M267 0h1v10h-1zM356 0h2v10h-2zM365 0h1v10h-1z"/><path fill="#00224e" fill-opacity="0.25" d="M68 0h1v10h-1zM143 0h1v10h-1zM225 0h1v10h-1zM384 0h1v10h-1z"/><path fill="#00224e" fill-opacity="0.3" d="M18 0h1v10h-1zM191 0h1v10h-1zM249 0h1v10h-1zM304 0h1v10h-1z"/><path fill="#00224e" fill-opacity="0.35" d="M7 0h1v10h-1zM19 0h2v10h-2zM27 0h2v10h-2zM137 0h1v10h-1zM152 0h2v10h-2zM166 0h1v10h-1zM180 0h1v10h-1zM189 0h1v10h-1zM222 0h1v10h-1zM243 0h1v10h-1zM299 0h1v10h-1zM344 0h1v10h-1zM374 0h1v10h-1z"/><path fill="#00224e" fill-opacity="0.4" d="M228 0h1v10h-1z"/><path fill="#00224e" fill-opacity="0.45" d="M226 0h1v10h-1zM238 0h1v10h-1zM282 0h1v10h-1z"/><path fill="#8a8779" fill-opacity="0.1" d="M29 0h1v10h-1zM47 0h1v10h-1zM66 0h1v10h-1zM71 0h1v10h-1zM288 0h1v10h-1z"/><path fill="#8a8779" fill-opacity="0.15" d="M5 0h1v10h-1zM26 0h1v10h-1zM97 0h1v10h-1zM109 0h1v10h-1zM129 0h1v10h-1zM232 0h1v10h-1zM279 0h1v10h-1zM293 0h1v10h-1zM307 0h2v10h-2zM310 0h2v10h-2zM319 0h2v10h-2zM343 0h1v10h-1zM377 0h2v10h-2z"/><path fill="#8a8779" fill-opacity="0.2" d="M15 0h1v10h-1zM69 0h1v10h-1zM76 0h1v10h-1zM98 0h2v10h-2zM147 0h1v10h-1zM183 0h2v10h-2zM258 0h1v10h-1zM278 0h1v10h-1zM353 0h1v10h-1z"/><path fill="#8a8779" fill-opacity="0.25" d="M117 0h1v10h-1zM159 0h1v10h-1zM336 0h1v10h-1zM348 0h1v10h-1z"/><path fill="#8a8779" fill-opacity="0.3" d="M10 0h2v10h-2zM48 0h1v10h-1zM77 0h1v10h-1zM157 0h2v10h-2zM211 0h1v10h-1z"/></pattern><pattern id="v2" patternUnits="userSpaceOnUse" width="397" height="10"><path fill="#00224e" fill-opacity="0.2" d="M95 0h1v10h-1zM204 0h1v10h-1zM317 0h1v10h-1zM378 0h1v10h-1z"/><path fill="#00224e" fill-opacity="0.25" d="M26 0h1v10h-1zM99 0h1v10h-1zM181 0h1v10h-1zM345 0h1v10h-1z"/><path fill="#00224e" fill-opacity="0.3" d="M110 0h1v10h-1zM208 0h2v10h-2zM299 0h1v10h-1z"/><path fill="#00224e" fill-opacity="0.35" d="M18 0h1v10h-1zM55 0h1v10h-1zM238 0h1v10h-1z"/><path fill="#00224e" fill-opacity="0.4" d="M37 0h2v10h-2zM61 0h2v10h-2zM98 0h1v10h-1zM101 0h1v10h-1zM155 0h2v10h-2zM192 0h1v10h-1zM320 0h1v10h-1zM387 0h1v10h-1z"/><path fill="#00224e" fill-opacity="0.45" d="M224 0h2v10h-2z"/><path fill="#00224e" fill-opacity="0.5" d="M33 0h1v10h-1zM40 0h1v10h-1zM191 0h1v10h-1zM350 0h1v10h-1z"/><path fill="#8a8779" fill-opacity="0.15" d="M162 0h1v10h-1zM189 0h1v10h-1zM340 0h1v10h-1zM384 0h1v10h-1z"/><path fill="#8a8779" fill-opacity="0.2" d="M50 0h1v10h-1zM107 0h2v10h-2zM125 0h1v10h-1zM148 0h2v10h-2zM267 0h1v10h-1zM270 0h1v10h-1zM291 0h1v10h-1zM374 0h2v10h-2z"/><path fill="#8a8779" fill-opacity="0.25" d="M43 0h2v10h-2zM68 0h2v10h-2zM105 0h2v10h-2zM176 0h1v10h-1zM228 0h1v10h-1z"/><path fill="#8a8779" fill-opacity="0.3" d="M193 0h2v10h-2zM199 0h1v10h-1zM217 0h1v10h-1z"/></pattern></defs>
<g clip-path="url(#c)" shape-rendering="crispEdges">
<rect x="204.2" y="109.35" width="1488" height="9.45" fill="#00224e"/>
<rect x="204.2" y="118.8" width="1488" height="4.9" fill="#3d4a6c"/><rect x="127.2" y="118.8" width="1488" height="4.9" fill="url(#b5)" opacity="0.90" transform="translate(77)"/>
<rect x="204.2" y="123.7" width="1488" height="4.8" fill="#163770"/><rect x="-128.8" y="123.7" width="1488" height="4.8" fill="url(#b6)" opacity="0.90" transform="translate(333)"/>
<rect x="204.2" y="128.5" width="1488" height="4.5" fill="#163770"/><rect x="167.2" y="128.5" width="1488" height="4.5" fill="url(#b0)" opacity="0.90" transform="translate(37)"/>
<rect x="204.2" y="133" width="1488" height="4.8" fill="#243c6e"/><rect x="17.2" y="133" width="1488" height="4.8" fill="url(#b1)" opacity="0.90" transform="translate(187)"/>
<rect x="204.2" y="137.8" width="1488" height="4.9" fill="#35456c"/><rect x="-54.8" y="137.8" width="1488" height="4.9" fill="url(#b0)" opacity="0.90" transform="translate(259)"/>
<rect x="204.2" y="142.7" width="1488" height="4.9" fill="#3b496c"/><rect x="185.2" y="142.7" width="1488" height="4.9" fill="url(#b3)" opacity="0.90" transform="translate(19)"/>
<rect x="204.2" y="147.6" width="1488" height="4.9" fill="#1c396f"/><rect x="-17.8" y="147.6" width="1488" height="4.9" fill="url(#b1)" opacity="0.90" transform="translate(222)"/>
<rect x="204.2" y="152.5" width="1488" height="4.4" fill="#35456c"/><rect x="169.2" y="152.5" width="1488" height="4.4" fill="url(#b6)" opacity="0.90" transform="translate(35)"/>
<rect x="204.2" y="156.9" width="1488" height="4.9" fill="#3b496c"/><rect x="158.2" y="156.9" width="1488" height="4.9" fill="url(#b3)" opacity="0.90" transform="translate(46)"/>
<rect x="204.2" y="161.8" width="1488" height="4.9" fill="#5e626e"/><rect x="174.2" y="161.8" width="1488" height="4.9" fill="url(#b6)" opacity="0.65" transform="translate(30)"/>
<rect x="204.2" y="166.7" width="1488" height="4.4" fill="#2f426d"/><rect x="90.2" y="166.7" width="1488" height="4.4" fill="url(#b1)" opacity="0.90" transform="translate(114)"/>
<rect x="204.2" y="171.1" width="1488" height="4.9" fill="#203a6f"/><rect x="-90.8" y="171.1" width="1488" height="4.9" fill="url(#b0)" opacity="0.90" transform="translate(295)"/>
<rect x="204.2" y="176" width="1488" height="4.9" fill="#243c6e"/><rect x="179.2" y="176" width="1488" height="4.9" fill="url(#b6)" opacity="0.90" transform="translate(25)"/>
<rect x="204.2" y="180.9" width="1488" height="4.9" fill="#243c6e"/><rect x="181.2" y="180.9" width="1488" height="4.9" fill="url(#b3)" opacity="0.90" transform="translate(23)"/>
<rect x="204.2" y="185.8" width="1488" height="4.9" fill="#243c6e"/><rect x="56.2" y="185.8" width="1488" height="4.9" fill="url(#b2)" opacity="0.90" transform="translate(148)"/>
<rect x="204.2" y="190.7" width="1488" height="4.9" fill="#203a6f"/><rect x="131.2" y="190.7" width="1488" height="4.9" fill="url(#b6)" opacity="0.90" transform="translate(73)"/>
<rect x="204.2" y="195.6" width="1488" height="4.9" fill="#1c396f"/><rect x="-87.8" y="195.6" width="1488" height="4.9" fill="url(#b1)" opacity="0.90" transform="translate(292)"/>
<rect x="204.2" y="200.5" width="1488" height="4.8" fill="#203a6f"/><rect x="-81.8" y="200.5" width="1488" height="4.8" fill="url(#b4)" opacity="0.90" transform="translate(286)"/>
<rect x="204.2" y="205.3" width="1488" height="4.9" fill="#1c396f"/><rect x="152.2" y="205.3" width="1488" height="4.9" fill="url(#b2)" opacity="0.90" transform="translate(52)"/>
<rect x="204.2" y="210.2" width="1488" height="4.9" fill="#163770"/><rect x="14.2" y="210.2" width="1488" height="4.9" fill="url(#b3)" opacity="0.90" transform="translate(190)"/>
<rect x="204.2" y="215.1" width="1488" height="4.5" fill="#1c396f"/><rect x="-75.8" y="215.1" width="1488" height="4.5" fill="url(#b1)" opacity="0.90" transform="translate(280)"/>
<rect x="204.2" y="219.6" width="1488" height="3.8" fill="#163770"/><rect x="-83.8" y="219.6" width="1488" height="3.8" fill="url(#b1)" opacity="0.90" transform="translate(288)"/>
<rect x="204.2" y="223.4" width="1488" height="4.6" fill="#163770"/><rect x="-111.8" y="223.4" width="1488" height="4.6" fill="url(#b0)" opacity="0.90" transform="translate(316)"/>
<rect x="204.2" y="228" width="1488" height="5" fill="#777777"/><rect x="-49.8" y="228" width="1488" height="5" fill="url(#b3)" opacity="0.65" transform="translate(254)"/>
<rect x="204.2" y="233" width="1488" height="4.9" fill="#62656f"/><rect x="44.2" y="233" width="1488" height="4.9" fill="url(#b6)" opacity="0.65" transform="translate(160)"/>
<rect x="204.2" y="237.9" width="1488" height="5.1" fill="#2f426d"/><rect x="-94.8" y="237.9" width="1488" height="5.1" fill="url(#b7)" opacity="0.90" transform="translate(299)"/>
<rect x="204.2" y="243" width="1488" height="4.4" fill="#083370"/><rect x="19.2" y="243" width="1488" height="4.4" fill="url(#b7)" opacity="0.90" transform="translate(185)"/>
<rect x="204.2" y="247.4" width="1488" height="4.9" fill="#002e6c"/><rect x="77.2" y="247.4" width="1488" height="4.9" fill="url(#b4)" opacity="0.90" transform="translate(127)"/>
<rect x="204.2" y="252.3" width="1488" height="4.9" fill="#002e6c"/><rect x="-152.8" y="252.3" width="1488" height="4.9" fill="url(#b2)" opacity="0.90" transform="translate(357)"/>
<rect x="204.2" y="257.2" width="1488" height="4.4" fill="#083370"/><rect x="163.2" y="257.2" width="1488" height="4.4" fill="url(#b3)" opacity="0.90" transform="translate(41)"/>
<rect x="204.2" y="261.6" width="1488" height="4.6" fill="#083370"/><rect x="-63.8" y="261.6" width="1488" height="4.6" fill="url(#b4)" opacity="0.90" transform="translate(268)"/>
<rect x="204.2" y="266.2" width="1488" height="4.7" fill="#434e6c"/><rect x="29.2" y="266.2" width="1488" height="4.7" fill="url(#b7)" opacity="0.90" transform="translate(175)"/>
<rect x="204.2" y="270.9" width="1488" height="4.9" fill="#727274"/><rect x="57.2" y="270.9" width="1488" height="4.9" fill="url(#b7)" opacity="0.65" transform="translate(147)"/>
<rect x="204.2" y="275.8" width="1488" height="4.9" fill="#7d7c78"/><rect x="144.2" y="275.8" width="1488" height="4.9" fill="url(#y0)" opacity="0.45" transform="translate(60)"/>
<rect x="204.2" y="280.7" width="1488" height="4.9" fill="#888578"/><rect x="120.2" y="280.7" width="1488" height="4.9" fill="url(#y3)" opacity="0.45" transform="translate(84)"/>
<rect x="204.2" y="285.6" width="1488" height="4.7" fill="#7d7c78"/><rect x="127.2" y="285.6" width="1488" height="4.7" fill="url(#y2)" opacity="0.45" transform="translate(77)"/>
<rect x="204.2" y="290.3" width="1488" height="4.6" fill="#545a6d"/><rect x="-10.8" y="290.3" width="1488" height="4.6" fill="url(#b7)" opacity="0.65" transform="translate(215)"/>
<rect x="204.2" y="294.9" width="1488" height="4.8" fill="#243c6e"/><rect x="-137.8" y="294.9" width="1488" height="4.8" fill="url(#b0)" opacity="0.90" transform="translate(342)"/>
<rect x="204.2" y="299.7" width="1488" height="4.4" fill="#3b496c"/><rect x="-186.8" y="299.7" width="1488" height="4.4" fill="url(#b1)" opacity="0.90" transform="translate(391)"/>
<rect x="204.2" y="304.1" width="1488" height="4.9" fill="#4f576c"/><rect x="30.2" y="304.1" width="1488" height="4.9" fill="url(#b5)" opacity="0.65" transform="translate(174)"/>
<rect x="204.2" y="309" width="1488" height="4.9" fill="#5b606e"/><rect x="-99.8" y="309" width="1488" height="4.9" fill="url(#b5)" opacity="0.65" transform="translate(304)"/>
<rect x="204.2" y="313.9" width="1488" height="4.9" fill="#565c6d"/><rect x="-91.8" y="313.9" width="1488" height="4.9" fill="url(#b7)" opacity="0.65" transform="translate(296)"/>
<rect x="204.2" y="318.8" width="1488" height="4.4" fill="#163770"/><rect x="169.2" y="318.8" width="1488" height="4.4" fill="url(#b7)" opacity="0.90" transform="translate(35)"/>
<rect x="204.2" y="323.2" width="1488" height="4.9" fill="#003070"/><rect x="66.2" y="323.2" width="1488" height="4.9" fill="url(#b1)" opacity="0.90" transform="translate(138)"/>
<rect x="204.2" y="328.1" width="1488" height="4.9" fill="#083370"/><rect x="-151.8" y="328.1" width="1488" height="4.9" fill="url(#b7)" opacity="0.90" transform="translate(356)"/>
<rect x="204.2" y="333" width="1488" height="4.8" fill="#273e6e"/><rect x="173.2" y="333" width="1488" height="4.8" fill="url(#b1)" opacity="0.90" transform="translate(31)"/>
<rect x="204.2" y="337.8" width="1488" height="4.4" fill="#083370"/><rect x="-126.8" y="337.8" width="1488" height="4.4" fill="url(#b4)" opacity="0.90" transform="translate(331)"/>
<rect x="204.2" y="342.2" width="1488" height="4.9" fill="#083370"/><rect x="59.2" y="342.2" width="1488" height="4.9" fill="url(#b7)" opacity="0.90" transform="translate(145)"/>
<rect x="204.2" y="347.1" width="1488" height="4.9" fill="#243c6e"/><rect x="-137.8" y="347.1" width="1488" height="4.9" fill="url(#b6)" opacity="0.90" transform="translate(342)"/>
<rect x="204.2" y="352" width="1488" height="4.9" fill="#083370"/><rect x="193.2" y="352" width="1488" height="4.9" fill="url(#b5)" opacity="0.90" transform="translate(11)"/>
<rect x="204.2" y="356.9" width="1488" height="4.4" fill="#1c396f"/><rect x="23.2" y="356.9" width="1488" height="4.4" fill="url(#b7)" opacity="0.90" transform="translate(181)"/>
<rect x="204.2" y="361.3" width="1488" height="4.9" fill="#083370"/><rect x="-107.8" y="361.3" width="1488" height="4.9" fill="url(#b2)" opacity="0.90" transform="translate(312)"/>
<rect x="204.2" y="366.2" width="1488" height="4.9" fill="#163770"/><rect x="-47.8" y="366.2" width="1488" height="4.9" fill="url(#b1)" opacity="0.90" transform="translate(252)"/>
<rect x="204.2" y="371.1" width="1488" height="4.9" fill="#2b406d"/><rect x="93.2" y="371.1" width="1488" height="4.9" fill="url(#b0)" opacity="0.90" transform="translate(111)"/>
<rect x="204.2" y="376" width="1488" height="123" fill="#00224e"/>
<rect x="204.2" y="499" width="1488" height="5.1" fill="#243c6e"/><rect x="138.2" y="499" width="1488" height="5.1" fill="url(#b4)" opacity="0.90" transform="translate(66)"/>
<rect x="204.2" y="504.1" width="1488" height="4.9" fill="#003070"/><rect x="1.2" y="504.1" width="1488" height="4.9" fill="url(#b3)" opacity="0.90" transform="translate(203)"/>
<rect x="204.2" y="509" width="1488" height="4.9" fill="#003070"/><rect x="-49.8" y="509" width="1488" height="4.9" fill="url(#b6)" opacity="0.90" transform="translate(254)"/>
<rect x="204.2" y="513.9" width="1488" height="4.4" fill="#083370"/><rect x="119.2" y="513.9" width="1488" height="4.4" fill="url(#b1)" opacity="0.90" transform="translate(85)"/>
<rect x="204.2" y="518.3" width="1488" height="4.9" fill="#123570"/><rect x="-0.8" y="518.3" width="1488" height="4.9" fill="url(#b7)" opacity="0.90" transform="translate(205)"/>
<rect x="204.2" y="523.2" width="1488" height="4.6" fill="#163770"/><rect x="134.2" y="523.2" width="1488" height="4.6" fill="url(#b4)" opacity="0.90" transform="translate(70)"/>
<rect x="204.2" y="527.8" width="1488" height="5.2" fill="#163770"/><rect x="-76.8" y="527.8" width="1488" height="5.2" fill="url(#b6)" opacity="0.90" transform="translate(281)"/>
<rect x="204.2" y="533" width="1488" height="56.6" fill="#00224e"/>
<rect x="204.2" y="589.6" width="1488" height="4.4" fill="#5b606e"/><rect x="-156.8" y="589.6" width="1488" height="4.4" fill="url(#b4)" opacity="0.65" transform="translate(361)"/>
<rect x="204.2" y="594" width="1488" height="4.9" fill="#203a6f"/><rect x="21.2" y="594" width="1488" height="4.9" fill="url(#b6)" opacity="0.90" transform="translate(183)"/>
<rect x="204.2" y="598.9" width="1488" height="4.9" fill="#203a6f"/><rect x="86.2" y="598.9" width="1488" height="4.9" fill="url(#b6)" opacity="0.90" transform="translate(118)"/>
<rect x="204.2" y="603.8" width="1488" height="4.9" fill="#35456c"/><rect x="162.2" y="603.8" width="1488" height="4.9" fill="url(#b2)" opacity="0.90" transform="translate(42)"/>
<rect x="204.2" y="608.7" width="1488" height="4.9" fill="#163770"/><rect x="127.2" y="608.7" width="1488" height="4.9" fill="url(#b2)" opacity="0.90" transform="translate(77)"/>
<rect x="204.2" y="613.6" width="1488" height="4.9" fill="#083370"/><rect x="-132.8" y="613.6" width="1488" height="4.9" fill="url(#b3)" opacity="0.90" transform="translate(337)"/>
<rect x="204.2" y="618.5" width="1488" height="4.4" fill="#002e6c"/><rect x="198.2" y="618.5" width="1488" height="4.4" fill="url(#b3)" opacity="0.90" transform="translate(6)"/>
<rect x="204.2" y="622.9" width="1488" height="4.4" fill="#ead34c"/><rect x="-96.8" y="622.9" width="1488" height="4.4" fill="url(#y3)" opacity="0.15" transform="translate(301)"/>
<rect x="204.2" y="627.3" width="1488" height="5.4" fill="#fee838"/><rect x="70.2" y="627.3" width="1488" height="5.4" fill="url(#y1)" opacity="0.08" transform="translate(134)"/>
<rect x="204.2" y="632.7" width="1488" height="4.4" fill="#666970"/><rect x="202.2" y="632.7" width="1488" height="4.4" fill="url(#b4)" opacity="0.65" transform="translate(2)"/>
<rect x="204.2" y="637.1" width="1488" height="4.9" fill="#003070"/><rect x="-9.8" y="637.1" width="1488" height="4.9" fill="url(#b2)" opacity="0.90" transform="translate(214)"/>
<rect x="204.2" y="642" width="1488" height="4.9" fill="#5b606e"/><rect x="-107.8" y="642" width="1488" height="4.9" fill="url(#b5)" opacity="0.50" transform="translate(312)"/>
<rect x="204.2" y="646.9" width="1488" height="4.6" fill="#b4a76f"/><rect x="140.2" y="646.9" width="1488" height="4.6" fill="url(#y2)" opacity="0.30" transform="translate(64)"/>
<rect x="204.2" y="651.5" width="1488" height="4.7" fill="#b4a76f"/><rect x="-28.8" y="651.5" width="1488" height="4.7" fill="url(#y0)" opacity="0.30" transform="translate(233)"/>
<rect x="204.2" y="656.2" width="1488" height="4.8" fill="#666970"/><rect x="1.2" y="656.2" width="1488" height="4.8" fill="url(#b6)" opacity="0.45" transform="translate(203)"/>
<rect x="204.2" y="661" width="1488" height="5" fill="#4f576c"/><rect x="3.2" y="661" width="1488" height="5" fill="url(#b6)" opacity="0.65" transform="translate(201)"/>
<rect x="204.2" y="666" width="1488" height="4.5" fill="#a39a74"/><rect x="-41.8" y="666" width="1488" height="4.5" fill="url(#y0)" opacity="0.30" transform="translate(246)"/>
<rect x="204.2" y="670.5" width="1488" height="4.7" fill="#a99f73"/><rect x="173.2" y="670.5" width="1488" height="4.7" fill="url(#y3)" opacity="0.30" transform="translate(31)"/>
<rect x="204.2" y="675.2" width="1488" height="4.9" fill="#727274"/><rect x="170.2" y="675.2" width="1488" height="4.9" fill="url(#b3)" opacity="0.65" transform="translate(34)"/>
<rect x="204.2" y="680.1" width="1488" height="4.9" fill="#4a536c"/><rect x="-20.8" y="680.1" width="1488" height="4.9" fill="url(#b3)" opacity="0.90" transform="translate(225)"/>
<rect x="204.2" y="685" width="1488" height="4.8" fill="#163770"/><rect x="148.2" y="685" width="1488" height="4.8" fill="url(#b2)" opacity="0.90" transform="translate(56)"/>
<rect x="204.2" y="689.8" width="1488" height="4.4" fill="#5e626e"/><rect x="-102.8" y="689.8" width="1488" height="4.4" fill="url(#p1)" opacity="0.60" transform="translate(307)"/>
<rect x="204.2" y="694.2" width="1488" height="4.9" fill="#243c6e"/><rect x="152.2" y="694.2" width="1488" height="4.9" fill="url(#b0)" opacity="0.90" transform="translate(52)"/>
<rect x="204.2" y="699.1" width="1488" height="4.9" fill="#003070"/><rect x="-85.8" y="699.1" width="1488" height="4.9" fill="url(#b0)" opacity="0.90" transform="translate(290)"/>
<rect x="204.2" y="704" width="1488" height="4.7" fill="#083370"/><rect x="-69.8" y="704" width="1488" height="4.7" fill="url(#b2)" opacity="0.90" transform="translate(274)"/>
<rect x="204.2" y="708.7" width="1488" height="4.6" fill="#083370"/><rect x="18.2" y="708.7" width="1488" height="4.6" fill="url(#b1)" opacity="0.90" transform="translate(186)"/>
<rect x="204.2" y="713.3" width="1488" height="4.4" fill="#002b62"/><rect x="168.2" y="713.3" width="1488" height="4.4" fill="url(#b0)" opacity="0.90" transform="translate(36)"/>
<rect x="204.2" y="717.7" width="1488" height="4.9" fill="#243c6e"/><rect x="-109.8" y="717.7" width="1488" height="4.9" fill="url(#b3)" opacity="0.90" transform="translate(314)"/>
<rect x="204.2" y="722.6" width="1488" height="4.9" fill="#243c6e"/><rect x="128.2" y="722.6" width="1488" height="4.9" fill="url(#b6)" opacity="0.90" transform="translate(76)"/>
<rect x="204.2" y="727.5" width="1488" height="4.9" fill="#666970"/><rect x="27.2" y="727.5" width="1488" height="4.9" fill="url(#b4)" opacity="0.65" transform="translate(177)"/>
<rect x="204.2" y="732.4" width="1488" height="4.9" fill="#35456c"/><rect x="-37.8" y="732.4" width="1488" height="4.9" fill="url(#b5)" opacity="0.90" transform="translate(242)"/>
<rect x="204.2" y="737.3" width="1488" height="4.7" fill="#62656f"/><rect x="145.2" y="737.3" width="1488" height="4.7" fill="url(#b1)" opacity="0.65" transform="translate(59)"/>
<rect x="204.2" y="742" width="1488" height="4.6" fill="#62656f"/><rect x="-33.8" y="742" width="1488" height="4.6" fill="url(#b7)" opacity="0.65" transform="translate(238)"/>
<rect x="204.2" y="746.6" width="1488" height="66.5" fill="#00224e"/>
<rect x="204.2" y="813.1" width="1488" height="4.9" fill="#243c6e"/><rect x="-42.8" y="813.1" width="1488" height="4.9" fill="url(#b7)" opacity="0.90" transform="translate(247)"/>
<rect x="204.2" y="818" width="1488" height="4.8" fill="#002e6c"/><rect x="161.2" y="818" width="1488" height="4.8" fill="url(#b4)" opacity="0.90" transform="translate(43)"/>
<rect x="204.2" y="822.8" width="1488" height="28.2" fill="#00224e"/>
<rect x="204.2" y="851" width="1488" height="4.9" fill="#3b496c"/><rect x="152.2" y="851" width="1488" height="4.9" fill="url(#b2)" opacity="0.90" transform="translate(52)"/>
<rect x="204.2" y="855.9" width="1488" height="4.9" fill="#003070"/><rect x="-174.8" y="855.9" width="1488" height="4.9" fill="url(#b5)" opacity="0.90" transform="translate(379)"/>
<rect x="204.2" y="860.8" width="1488" height="4.6" fill="#243c6e"/><rect x="-40.8" y="860.8" width="1488" height="4.6" fill="url(#b4)" opacity="0.90" transform="translate(245)"/>
<rect x="204.2" y="865.4" width="1488" height="4.6" fill="#1c396f"/><rect x="-59.8" y="865.4" width="1488" height="4.6" fill="url(#b2)" opacity="0.90" transform="translate(264)"/>
<rect x="204.2" y="870" width="1488" height="4.9" fill="#002b62"/><rect x="99.2" y="870" width="1488" height="4.9" fill="url(#b0)" opacity="0.90" transform="translate(105)"/>
<rect x="204.2" y="874.9" width="1488" height="4.9" fill="#003070"/><rect x="129.2" y="874.9" width="1488" height="4.9" fill="url(#b5)" opacity="0.90" transform="translate(75)"/>
<rect x="204.2" y="879.8" width="1488" height="4.6" fill="#203a6f"/><rect x="-183.8" y="879.8" width="1488" height="4.6" fill="url(#b0)" opacity="0.90" transform="translate(388)"/>
<rect x="204.2" y="884.4" width="1488" height="4.9" fill="#003070"/><rect x="-124.8" y="884.4" width="1488" height="4.9" fill="url(#b4)" opacity="0.90" transform="translate(329)"/>
<rect x="204.2" y="889.3" width="1488" height="4.9" fill="#2f426d"/><rect x="-151.8" y="889.3" width="1488" height="4.9" fill="url(#b1)" opacity="0.90" transform="translate(356)"/>
<rect x="204.2" y="894.2" width="1488" height="4.9" fill="#434e6c"/><rect x="-60.8" y="894.2" width="1488" height="4.9" fill="url(#b4)" opacity="0.90" transform="translate(265)"/>
<rect x="204.2" y="899.1" width="1488" height="4.4" fill="#003070"/><rect x="119.2" y="899.1" width="1488" height="4.4" fill="url(#b5)" opacity="0.90" transform="translate(85)"/>
<rect x="204.2" y="903.5" width="1488" height="4.9" fill="#243c6e"/><rect x="-190.8" y="903.5" width="1488" height="4.9" fill="url(#b5)" opacity="0.90" transform="translate(395)"/>
<rect x="204.2" y="908.4" width="1488" height="4.9" fill="#163770"/><rect x="-67.8" y="908.4" width="1488" height="4.9" fill="url(#b3)" opacity="0.90" transform="translate(272)"/>
<rect x="204.2" y="913.3" width="1488" height="4.7" fill="#163770"/><rect x="-120.8" y="913.3" width="1488" height="4.7" fill="url(#b5)" opacity="0.90" transform="translate(325)"/>
<rect x="204.2" y="918" width="1488" height="4.5" fill="#163770"/><rect x="-108.8" y="918" width="1488" height="4.5" fill="url(#b3)" opacity="0.90" transform="translate(313)"/>
<rect x="204.2" y="922.5" width="1488" height="4.5" fill="#163770"/><rect x="82.2" y="922.5" width="1488" height="4.5" fill="url(#b3)" opacity="0.90" transform="translate(122)"/>
<rect x="204.2" y="927" width="1488" height="4.9" fill="#002b62"/><rect x="-173.8" y="927" width="1488" height="4.9" fill="url(#b6)" opacity="0.90" transform="translate(378)"/>
<rect x="204.2" y="931.9" width="1488" height="4.9" fill="#002e6c"/><rect x="102.2" y="931.9" width="1488" height="4.9" fill="url(#b3)" opacity="0.90" transform="translate(102)"/>
<rect x="204.2" y="936.8" width="1488" height="4.8" fill="#002d68"/><rect x="22.2" y="936.8" width="1488" height="4.8" fill="url(#b7)" opacity="0.90" transform="translate(182)"/>
<rect x="204.2" y="941.6" width="1488" height="4.4" fill="#002b62"/><rect x="190.2" y="941.6" width="1488" height="4.4" fill="url(#b0)" opacity="0.90" transform="translate(14)"/>
<rect x="204.2" y="946" width="1488" height="4.9" fill="#243c6e"/><rect x="-36.8" y="946" width="1488" height="4.9" fill="url(#b4)" opacity="0.90" transform="translate(241)"/>
<rect x="204.2" y="950.9" width="1488" height="4.9" fill="#1c396f"/><rect x="105.2" y="950.9" width="1488" height="4.9" fill="url(#b4)" opacity="0.90" transform="translate(99)"/>
<rect x="204.2" y="955.8" width="1488" height="4.9" fill="#163770"/><rect x="-23.8" y="955.8" width="1488" height="4.9" fill="url(#b5)" opacity="0.90" transform="translate(228)"/>
<rect x="204.2" y="960.7" width="1488" height="4.2" fill="#083370"/><rect x="18.2" y="960.7" width="1488" height="4.2" fill="url(#b5)" opacity="0.90" transform="translate(186)"/>
<rect x="204.2" y="964.9" width="1488" height="4.9" fill="#243c6e"/><rect x="92.2" y="964.9" width="1488" height="4.9" fill="url(#b1)" opacity="0.90" transform="translate(112)"/>
<rect x="204.2" y="969.8" width="1488" height="4.9" fill="#4a536c"/><rect x="88.2" y="969.8" width="1488" height="4.9" fill="url(#b1)" opacity="0.90" transform="translate(116)"/>
<rect x="204.2" y="974.7" width="1488" height="4.9" fill="#003070"/><rect x="104.2" y="974.7" width="1488" height="4.9" fill="url(#b7)" opacity="0.90" transform="translate(100)"/>
<rect x="204.2" y="979.6" width="1488" height="4.4" fill="#5b606e"/><rect x="100.2" y="979.6" width="1488" height="4.4" fill="url(#b5)" opacity="0.65" transform="translate(104)"/>
<rect x="204.2" y="984" width="1488" height="5.4" fill="#243c6e"/><rect x="-114.8" y="984" width="1488" height="5.4" fill="url(#b7)" opacity="0.90" transform="translate(319)"/>
<rect x="204.2" y="989.4" width="1488" height="4.8" fill="#163770"/><rect x="-40.8" y="989.4" width="1488" height="4.8" fill="url(#b0)" opacity="0.90" transform="translate(245)"/>
<rect x="204.2" y="994.2" width="1488" height="4.4" fill="#003070"/><rect x="-124.8" y="994.2" width="1488" height="4.4" fill="url(#b5)" opacity="0.90" transform="translate(329)"/>
<rect x="204.2" y="998.6" width="1488" height="4.4" fill="#002b62"/><rect x="-133.8" y="998.6" width="1488" height="4.4" fill="url(#b1)" opacity="0.90" transform="translate(338)"/>
<rect x="204.2" y="1003" width="1488" height="24" fill="#00224e"/>
<rect x="204.2" y="1027" width="1488" height="4.9" fill="#013271"/><rect x="6.2" y="1027" width="1488" height="4.9" fill="url(#b1)" opacity="0.90" transform="translate(198)"/>
<rect x="204.2" y="1031.9" width="1488" height="4.9" fill="#002d68"/><rect x="-39.8" y="1031.9" width="1488" height="4.9" fill="url(#b3)" opacity="0.90" transform="translate(244)"/>
<rect x="204.2" y="1036.8" width="1488" height="4.4" fill="#002d68"/><rect x="-17.8" y="1036.8" width="1488" height="4.4" fill="url(#b2)" opacity="0.90" transform="translate(222)"/>
<rect x="204.2" y="1041.2" width="1488" height="4.9" fill="#002e6a"/><rect x="160.2" y="1041.2" width="1488" height="4.9" fill="url(#b5)" opacity="0.90" transform="translate(44)"/>
<rect x="204.2" y="1046.1" width="1488" height="4.9" fill="#002e6a"/><rect x="-32.8" y="1046.1" width="1488" height="4.9" fill="url(#b6)" opacity="0.90" transform="translate(237)"/>
<rect x="204.2" y="1051" width="1488" height="4.9" fill="#002e6a"/><rect x="-175.8" y="1051" width="1488" height="4.9" fill="url(#b6)" opacity="0.90" transform="translate(380)"/>
<rect x="204.2" y="1055.9" width="1488" height="4.4" fill="#002656"/>
<rect x="206" y="161.8" width="21" height="4.9" fill="#727274"/><rect x="-165" y="161.8" width="21" height="4.9" fill="url(#b1)" opacity="0.65" transform="translate(371)"/>
<rect x="235" y="161.8" width="15" height="4.9" fill="#e5cf52"/><rect x="148" y="161.8" width="15" height="4.9" fill="url(#y1)" opacity="0.22" transform="translate(87)"/>
<rect x="253" y="161.8" width="19" height="4.9" fill="#727274"/><rect x="239" y="161.8" width="19" height="4.9" fill="url(#b2)" opacity="0.65" transform="translate(14)"/>
<rect x="279" y="161.8" width="21" height="4.9" fill="#c8b866"/><rect x="-23" y="161.8" width="21" height="4.9" fill="url(#y1)" opacity="0.45" transform="translate(302)"/>
<rect x="302" y="161.8" width="23" height="4.9" fill="#727274"/><rect x="-33" y="161.8" width="23" height="4.9" fill="url(#b7)" opacity="0.65" transform="translate(335)"/>
<rect x="329" y="161.8" width="20" height="4.9" fill="#c8b866"/><rect x="16" y="161.8" width="20" height="4.9" fill="url(#y1)" opacity="0.45" transform="translate(313)"/>
<rect x="352" y="161.8" width="21" height="4.9" fill="#727274"/><rect x="16" y="161.8" width="21" height="4.9" fill="url(#b7)" opacity="0.65" transform="translate(336)"/>
<rect x="378" y="161.8" width="21" height="4.9" fill="#cebc63"/><rect x="299" y="161.8" width="21" height="4.9" fill="url(#y2)" opacity="0.45" transform="translate(79)"/>
<rect x="427" y="161.8" width="20" height="4.9" fill="#6b6d72"/><rect x="417" y="161.8" width="20" height="4.9" fill="url(#b2)" opacity="0.65" transform="translate(10)"/>
<rect x="476" y="161.8" width="20" height="4.9" fill="#6b6d72"/><rect x="105" y="161.8" width="20" height="4.9" fill="url(#b0)" opacity="0.65" transform="translate(371)"/>
<rect x="526" y="161.8" width="20" height="4.9" fill="#6b6d72"/><rect x="257" y="161.8" width="20" height="4.9" fill="url(#b1)" opacity="0.65" transform="translate(269)"/>
<rect x="550" y="161.8" width="19" height="4.9" fill="#7d7c78"/><rect x="328" y="161.8" width="19" height="4.9" fill="url(#y1)" opacity="0.45" transform="translate(222)"/>
<rect x="575" y="161.8" width="20" height="4.9" fill="#6b6d72"/><rect x="467" y="161.8" width="20" height="4.9" fill="url(#b3)" opacity="0.65" transform="translate(108)"/>
<rect x="601" y="161.8" width="21" height="4.9" fill="#7d7c78"/><rect x="473" y="161.8" width="21" height="4.9" fill="url(#y0)" opacity="0.45" transform="translate(128)"/>
<rect x="649" y="161.8" width="23" height="4.9" fill="#727274"/><rect x="500" y="161.8" width="23" height="4.9" fill="url(#b3)" opacity="0.65" transform="translate(149)"/>
<rect x="701" y="161.8" width="19" height="4.9" fill="#727274"/><rect x="310" y="161.8" width="19" height="4.9" fill="url(#b3)" opacity="0.65" transform="translate(391)"/>
<rect x="751" y="161.8" width="19" height="4.9" fill="#727274"/><rect x="619" y="161.8" width="19" height="4.9" fill="url(#b5)" opacity="0.65" transform="translate(132)"/>
<rect x="778" y="161.8" width="17" height="4.9" fill="#6b6d72"/><rect x="711" y="161.8" width="17" height="4.9" fill="url(#b6)" opacity="0.65" transform="translate(67)"/>
<rect x="824" y="161.8" width="21" height="4.9" fill="#727274"/><rect x="446" y="161.8" width="21" height="4.9" fill="url(#b0)" opacity="0.65" transform="translate(378)"/>
<rect x="849" y="161.8" width="21" height="4.9" fill="#6b6d72"/><rect x="615" y="161.8" width="21" height="4.9" fill="url(#b5)" opacity="0.65" transform="translate(234)"/>
<rect x="897" y="161.8" width="23" height="4.9" fill="#727274"/><rect x="641" y="161.8" width="23" height="4.9" fill="url(#b6)" opacity="0.65" transform="translate(256)"/>
<rect x="945" y="161.8" width="20" height="4.9" fill="#6b6d72"/><rect x="673" y="161.8" width="20" height="4.9" fill="url(#b2)" opacity="0.65" transform="translate(272)"/>
<rect x="1048" y="161.8" width="19" height="4.9" fill="#c8b866"/><rect x="780" y="161.8" width="19" height="4.9" fill="url(#y1)" opacity="0.45" transform="translate(268)"/>
<rect x="1000" y="161.8" width="20" height="4.9" fill="#6b6d72"/><rect x="775" y="161.8" width="20" height="4.9" fill="url(#b0)" opacity="0.65" transform="translate(225)"/>
<rect x="1098" y="161.8" width="20" height="4.9" fill="#6b6d72"/><rect x="787" y="161.8" width="20" height="4.9" fill="url(#b2)" opacity="0.65" transform="translate(311)"/>
<rect x="1147" y="161.8" width="20" height="4.9" fill="#6b6d72"/><rect x="1071" y="161.8" width="20" height="4.9" fill="url(#b0)" opacity="0.65" transform="translate(76)"/>
<rect x="1196" y="161.8" width="20" height="4.9" fill="#948e77"/><rect x="1124" y="161.8" width="20" height="4.9" fill="url(#y1)" opacity="0.45" transform="translate(72)"/>
<rect x="1245" y="161.8" width="20" height="4.9" fill="#6b6d72"/><rect x="929" y="161.8" width="20" height="4.9" fill="url(#b7)" opacity="0.65" transform="translate(316)"/>
<rect x="1295" y="161.8" width="20" height="4.9" fill="#6b6d72"/><rect x="1011" y="161.8" width="20" height="4.9" fill="url(#b1)" opacity="0.65" transform="translate(284)"/>
<rect x="1346" y="161.8" width="21" height="4.9" fill="#948e77"/><rect x="1180" y="161.8" width="21" height="4.9" fill="url(#y0)" opacity="0.45" transform="translate(166)"/>
<rect x="1371" y="161.8" width="18" height="4.9" fill="#727274"/><rect x="1317" y="161.8" width="18" height="4.9" fill="url(#b7)" opacity="0.65" transform="translate(54)"/>
<rect x="1394" y="161.8" width="21" height="4.9" fill="#888578"/><rect x="1267" y="161.8" width="21" height="4.9" fill="url(#y0)" opacity="0.45" transform="translate(127)"/>
<rect x="1419" y="161.8" width="20" height="4.9" fill="#7d7c78"/><rect x="1278" y="161.8" width="20" height="4.9" fill="url(#y1)" opacity="0.45" transform="translate(141)"/>
<rect x="1443" y="161.8" width="21" height="4.9" fill="#7d7c78"/><rect x="1048" y="161.8" width="21" height="4.9" fill="url(#y0)" opacity="0.45" transform="translate(395)"/>
<rect x="1469" y="161.8" width="20" height="4.9" fill="#948e77"/><rect x="1210" y="161.8" width="20" height="4.9" fill="url(#y0)" opacity="0.45" transform="translate(259)"/>
<rect x="1494" y="161.8" width="12" height="4.9" fill="#7d7c78"/><rect x="1207" y="161.8" width="12" height="4.9" fill="url(#y3)" opacity="0.45" transform="translate(287)"/>
<rect x="1519" y="161.8" width="20" height="4.9" fill="#a19975"/><rect x="1130" y="161.8" width="20" height="4.9" fill="url(#y0)" opacity="0.45" transform="translate(389)"/>
<rect x="1543" y="161.8" width="21" height="4.9" fill="#7d7c78"/><rect x="1317" y="161.8" width="21" height="4.9" fill="url(#y0)" opacity="0.45" transform="translate(226)"/>
<rect x="1568" y="161.8" width="21" height="4.9" fill="#948e77"/><rect x="1255" y="161.8" width="21" height="4.9" fill="url(#y2)" opacity="0.45" transform="translate(313)"/>
<rect x="1594" y="161.8" width="20" height="4.9" fill="#948e77"/><rect x="1240" y="161.8" width="20" height="4.9" fill="url(#y1)" opacity="0.45" transform="translate(354)"/>
<rect x="1618" y="161.8" width="21" height="4.9" fill="#bcae6c"/><rect x="1387" y="161.8" width="21" height="4.9" fill="url(#y2)" opacity="0.45" transform="translate(231)"/>
<rect x="1642" y="161.8" width="33" height="4.9" fill="#f3db42"/><rect x="1383" y="161.8" width="33" height="4.9" fill="url(#y3)" opacity="0.22" transform="translate(259)"/>
<rect x="1677" y="161.8" width="13" height="4.9" fill="#7d7c78"/><rect x="1320" y="161.8" width="13" height="4.9" fill="url(#y1)" opacity="0.45" transform="translate(357)"/>
<rect x="235" y="156.9" width="15" height="4.9" fill="#676a71"/><rect x="-51" y="156.9" width="15" height="4.9" fill="url(#b4)" opacity="0.65" transform="translate(286)"/>
<rect x="279" y="156.9" width="21" height="4.9" fill="#5e626e"/><rect x="50" y="156.9" width="21" height="4.9" fill="url(#b3)" opacity="0.65" transform="translate(229)"/>
<rect x="329" y="156.9" width="20" height="4.9" fill="#5e626e"/><rect x="116" y="156.9" width="20" height="4.9" fill="url(#b2)" opacity="0.65" transform="translate(213)"/>
<rect x="378" y="156.9" width="21" height="4.9" fill="#5f636f"/><rect x="178" y="156.9" width="21" height="4.9" fill="url(#b1)" opacity="0.65" transform="translate(200)"/>
<rect x="1048" y="156.9" width="19" height="4.9" fill="#5e626e"/><rect x="887" y="156.9" width="19" height="4.9" fill="url(#b7)" opacity="0.65" transform="translate(161)"/>
<rect x="1196" y="156.9" width="20" height="4.9" fill="#48526c"/><rect x="853" y="156.9" width="20" height="4.9" fill="url(#b1)" opacity="0.90" transform="translate(343)"/>
<rect x="1346" y="156.9" width="21" height="4.9" fill="#48526c"/><rect x="1127" y="156.9" width="21" height="4.9" fill="url(#b3)" opacity="0.90" transform="translate(219)"/>
<rect x="1469" y="156.9" width="20" height="4.9" fill="#48526c"/><rect x="1361" y="156.9" width="20" height="4.9" fill="url(#b1)" opacity="0.90" transform="translate(108)"/>
<rect x="1519" y="156.9" width="20" height="4.9" fill="#4d556c"/><rect x="1457" y="156.9" width="20" height="4.9" fill="url(#b4)" opacity="0.90" transform="translate(62)"/>
<rect x="1568" y="156.9" width="21" height="4.9" fill="#48526c"/><rect x="1202" y="156.9" width="21" height="4.9" fill="url(#b2)" opacity="0.90" transform="translate(366)"/>
<rect x="1594" y="156.9" width="20" height="4.9" fill="#48526c"/><rect x="1521" y="156.9" width="20" height="4.9" fill="url(#b5)" opacity="0.90" transform="translate(73)"/>
<rect x="1618" y="156.9" width="21" height="4.9" fill="#585e6d"/><rect x="1548" y="156.9" width="21" height="4.9" fill="url(#b4)" opacity="0.65" transform="translate(70)"/>
<rect x="1642" y="156.9" width="33" height="4.9" fill="#6c6e72"/><rect x="1530" y="156.9" width="33" height="4.9" fill="url(#b7)" opacity="0.65" transform="translate(112)"/>
<rect x="235" y="166.7" width="15" height="4.4" fill="#5e626e"/><rect x="32" y="166.7" width="15" height="4.4" fill="url(#b1)" opacity="0.65" transform="translate(203)"/>
<rect x="279" y="166.7" width="21" height="4.4" fill="#545a6d"/><rect x="196" y="166.7" width="21" height="4.4" fill="url(#b7)" opacity="0.65" transform="translate(83)"/>
<rect x="329" y="166.7" width="20" height="4.4" fill="#545a6d"/><rect x="247" y="166.7" width="20" height="4.4" fill="url(#b3)" opacity="0.65" transform="translate(82)"/>
<rect x="378" y="166.7" width="21" height="4.4" fill="#555c6d"/><rect x="115" y="166.7" width="21" height="4.4" fill="url(#b6)" opacity="0.65" transform="translate(263)"/>
<rect x="1048" y="166.7" width="19" height="4.4" fill="#545a6d"/><rect x="875" y="166.7" width="19" height="4.4" fill="url(#b6)" opacity="0.65" transform="translate(173)"/>
<rect x="1196" y="166.7" width="20" height="4.4" fill="#404c6c"/><rect x="1096" y="166.7" width="20" height="4.4" fill="url(#b6)" opacity="0.90" transform="translate(100)"/>
<rect x="1346" y="166.7" width="21" height="4.4" fill="#404c6c"/><rect x="1183" y="166.7" width="21" height="4.4" fill="url(#b5)" opacity="0.90" transform="translate(163)"/>
<rect x="1469" y="166.7" width="20" height="4.4" fill="#404c6c"/><rect x="1100" y="166.7" width="20" height="4.4" fill="url(#b1)" opacity="0.90" transform="translate(369)"/>
<rect x="1519" y="166.7" width="20" height="4.4" fill="#45506c"/><rect x="1510" y="166.7" width="20" height="4.4" fill="url(#b5)" opacity="0.90" transform="translate(9)"/>
<rect x="1568" y="166.7" width="21" height="4.4" fill="#404c6c"/><rect x="1285" y="166.7" width="21" height="4.4" fill="url(#b5)" opacity="0.90" transform="translate(283)"/>
<rect x="1594" y="166.7" width="20" height="4.4" fill="#404c6c"/><rect x="1369" y="166.7" width="20" height="4.4" fill="url(#b7)" opacity="0.90" transform="translate(225)"/>
<rect x="1618" y="166.7" width="21" height="4.4" fill="#4f576c"/><rect x="1422" y="166.7" width="21" height="4.4" fill="url(#b0)" opacity="0.65" transform="translate(196)"/>
<rect x="1642" y="166.7" width="33" height="4.4" fill="#62656f"/><rect x="1378" y="166.7" width="33" height="4.4" fill="url(#b5)" opacity="0.65" transform="translate(264)"/>
<rect x="206" y="137.8" width="394" height="4.9" fill="#35456c"/><rect x="-56" y="137.8" width="394" height="4.9" fill="url(#b4)" opacity="0.90" transform="translate(262)"/>
<rect x="206" y="142.7" width="394" height="4.9" fill="#35456c"/><rect x="149" y="142.7" width="394" height="4.9" fill="url(#b1)" opacity="0.90" transform="translate(57)"/>
<rect x="950" y="137.8" width="150" height="4.9" fill="#2f426d"/><rect x="897" y="137.8" width="150" height="4.9" fill="url(#b3)" opacity="0.90" transform="translate(53)"/>
<rect x="950" y="142.7" width="150" height="4.9" fill="#2f426d"/><rect x="815" y="142.7" width="150" height="4.9" fill="url(#b1)" opacity="0.90" transform="translate(135)"/>
<rect x="1022" y="142.7" width="4" height="4.9" fill="#c8b866"/><rect x="1002" y="142.7" width="4" height="4.9" fill="url(#y2)" opacity="0.45" transform="translate(20)"/>
<rect x="1022" y="147.6" width="4" height="4.9" fill="#c8b866"/><rect x="884" y="147.6" width="4" height="4.9" fill="url(#y1)" opacity="0.45" transform="translate(138)"/>
<rect x="1046" y="142.7" width="4" height="4.9" fill="#c8b866"/><rect x="830" y="142.7" width="4" height="4.9" fill="url(#y1)" opacity="0.45" transform="translate(216)"/>
<rect x="1046" y="147.6" width="4" height="4.9" fill="#c8b866"/><rect x="839" y="147.6" width="4" height="4.9" fill="url(#y2)" opacity="0.45" transform="translate(207)"/>
<rect x="218" y="142.7" width="6" height="4.9" fill="#727274"/><rect x="-56" y="142.7" width="6" height="4.9" fill="url(#b2)" opacity="0.65" transform="translate(274)"/>
<rect x="252" y="142.7" width="6" height="4.9" fill="#62656f"/><rect x="-106" y="142.7" width="6" height="4.9" fill="url(#b7)" opacity="0.65" transform="translate(358)"/>
<rect x="305" y="142.7" width="20" height="4.9" fill="#545a6d"/><rect x="260" y="142.7" width="20" height="4.9" fill="url(#b5)" opacity="0.65" transform="translate(45)"/>
<rect x="425" y="142.7" width="10" height="4.9" fill="#5e626e"/><rect x="396" y="142.7" width="10" height="4.9" fill="url(#b4)" opacity="0.65" transform="translate(29)"/>
<rect x="472" y="142.7" width="6" height="4.9" fill="#666970"/><rect x="255" y="142.7" width="6" height="4.9" fill="url(#b2)" opacity="0.65" transform="translate(217)"/>
<rect x="692" y="142.7" width="6" height="4.9" fill="#5e626e"/><rect x="555" y="142.7" width="6" height="4.9" fill="url(#b1)" opacity="0.65" transform="translate(137)"/>
<rect x="766" y="171.1" width="63" height="4.9" fill="#3b496c"/><rect x="442" y="171.1" width="63" height="4.9" fill="url(#b0)" opacity="0.90" transform="translate(324)"/>
<rect x="766" y="176" width="63" height="4.9" fill="#3b496c"/><rect x="633" y="176" width="63" height="4.9" fill="url(#b1)" opacity="0.90" transform="translate(133)"/>
<rect x="766" y="180.9" width="63" height="4.9" fill="#3b496c"/><rect x="455" y="180.9" width="63" height="4.9" fill="url(#b1)" opacity="0.90" transform="translate(311)"/>
<rect x="766" y="185.8" width="63" height="4.9" fill="#3b496c"/><rect x="732" y="185.8" width="63" height="4.9" fill="url(#b3)" opacity="0.90" transform="translate(34)"/>
<rect x="766" y="190.7" width="63" height="4.9" fill="#3b496c"/><rect x="704" y="190.7" width="63" height="4.9" fill="url(#b4)" opacity="0.90" transform="translate(62)"/>
<rect x="766" y="195.6" width="63" height="4.9" fill="#3b496c"/><rect x="761" y="195.6" width="63" height="4.9" fill="url(#b7)" opacity="0.90" transform="translate(5)"/>
<rect x="950" y="171.1" width="213" height="4.9" fill="#2f426d"/><rect x="667" y="171.1" width="213" height="4.9" fill="url(#b5)" opacity="0.90" transform="translate(283)"/>
<rect x="950" y="176" width="213" height="4.9" fill="#2f426d"/><rect x="813" y="176" width="213" height="4.9" fill="url(#b6)" opacity="0.90" transform="translate(137)"/>
<rect x="950" y="180.9" width="213" height="4.9" fill="#2f426d"/><rect x="928" y="180.9" width="213" height="4.9" fill="url(#b2)" opacity="0.90" transform="translate(22)"/>
<rect x="950" y="185.8" width="213" height="4.9" fill="#2f426d"/><rect x="894" y="185.8" width="213" height="4.9" fill="url(#b3)" opacity="0.90" transform="translate(56)"/>
<rect x="950" y="190.7" width="213" height="4.9" fill="#2f426d"/><rect x="816" y="190.7" width="213" height="4.9" fill="url(#b2)" opacity="0.90" transform="translate(134)"/>
<rect x="950" y="195.6" width="213" height="4.9" fill="#2f426d"/><rect x="858" y="195.6" width="213" height="4.9" fill="url(#b0)" opacity="0.90" transform="translate(92)"/>
<rect x="1163" y="171.1" width="297" height="4.9" fill="#002d68"/><rect x="1004" y="171.1" width="297" height="4.9" fill="url(#b3)" opacity="0.90" transform="translate(159)"/>
<rect x="1163" y="176" width="297" height="4.9" fill="#002d68"/><rect x="892" y="176" width="297" height="4.9" fill="url(#b4)" opacity="0.90" transform="translate(271)"/>
<rect x="1163" y="180.9" width="297" height="4.9" fill="#002d68"/><rect x="1015" y="180.9" width="297" height="4.9" fill="url(#b3)" opacity="0.90" transform="translate(148)"/>
<rect x="1163" y="185.8" width="297" height="4.9" fill="#002d68"/><rect x="907" y="185.8" width="297" height="4.9" fill="url(#b7)" opacity="0.90" transform="translate(256)"/>
<rect x="1163" y="190.7" width="297" height="4.9" fill="#002d68"/><rect x="1025" y="190.7" width="297" height="4.9" fill="url(#b2)" opacity="0.90" transform="translate(138)"/>
<rect x="1163" y="195.6" width="297" height="4.9" fill="#002d68"/><rect x="1154" y="195.6" width="297" height="4.9" fill="url(#b5)" opacity="0.90" transform="translate(9)"/>
<rect x="1460" y="171.1" width="142" height="4.9" fill="#35456c"/><rect x="1442" y="171.1" width="142" height="4.9" fill="url(#b4)" opacity="0.90" transform="translate(18)"/>
<rect x="1460" y="176" width="142" height="4.9" fill="#35456c"/><rect x="1451" y="176" width="142" height="4.9" fill="url(#b0)" opacity="0.90" transform="translate(9)"/>
<rect x="1460" y="180.9" width="142" height="4.9" fill="#35456c"/><rect x="1197" y="180.9" width="142" height="4.9" fill="url(#b3)" opacity="0.90" transform="translate(263)"/>
<rect x="1460" y="185.8" width="142" height="4.9" fill="#35456c"/><rect x="1335" y="185.8" width="142" height="4.9" fill="url(#b7)" opacity="0.90" transform="translate(125)"/>
<rect x="1460" y="190.7" width="142" height="4.9" fill="#35456c"/><rect x="1406" y="190.7" width="142" height="4.9" fill="url(#b7)" opacity="0.90" transform="translate(54)"/>
<rect x="1460" y="195.6" width="142" height="4.9" fill="#35456c"/><rect x="1124" y="195.6" width="142" height="4.9" fill="url(#b6)" opacity="0.90" transform="translate(336)"/>
<rect x="1602" y="171.1" width="89" height="4.9" fill="#203a6f"/><rect x="1323" y="171.1" width="89" height="4.9" fill="url(#b7)" opacity="0.90" transform="translate(279)"/>
<rect x="1602" y="176" width="89" height="4.9" fill="#203a6f"/><rect x="1343" y="176" width="89" height="4.9" fill="url(#b6)" opacity="0.90" transform="translate(259)"/>
<rect x="1602" y="180.9" width="89" height="4.9" fill="#203a6f"/><rect x="1250" y="180.9" width="89" height="4.9" fill="url(#b4)" opacity="0.90" transform="translate(352)"/>
<rect x="1602" y="185.8" width="89" height="4.9" fill="#203a6f"/><rect x="1485" y="185.8" width="89" height="4.9" fill="url(#b3)" opacity="0.90" transform="translate(117)"/>
<rect x="1602" y="190.7" width="89" height="4.9" fill="#203a6f"/><rect x="1501" y="190.7" width="89" height="4.9" fill="url(#b5)" opacity="0.90" transform="translate(101)"/>
<rect x="1602" y="195.6" width="89" height="4.9" fill="#203a6f"/><rect x="1395" y="195.6" width="89" height="4.9" fill="url(#b2)" opacity="0.90" transform="translate(207)"/>
<rect x="1163" y="200.5" width="193" height="4.8" fill="#002d68"/><rect x="1136" y="200.5" width="193" height="4.8" fill="url(#b5)" opacity="0.90" transform="translate(27)"/>
<rect x="1163" y="205.3" width="193" height="4.9" fill="#002d68"/><rect x="1156" y="205.3" width="193" height="4.9" fill="url(#b2)" opacity="0.90" transform="translate(7)"/>
<rect x="1163" y="210.2" width="193" height="4.9" fill="#002d68"/><rect x="843" y="210.2" width="193" height="4.9" fill="url(#b1)" opacity="0.90" transform="translate(320)"/>
<rect x="1163" y="215.1" width="193" height="4.5" fill="#002d68"/><rect x="943" y="215.1" width="193" height="4.5" fill="url(#b4)" opacity="0.90" transform="translate(220)"/>
<rect x="1163" y="219.6" width="193" height="3.8" fill="#002d68"/><rect x="1135" y="219.6" width="193" height="3.8" fill="url(#b2)" opacity="0.90" transform="translate(28)"/>
<rect x="1163" y="223.4" width="193" height="4.6" fill="#002d68"/><rect x="823" y="223.4" width="193" height="4.6" fill="url(#b1)" opacity="0.90" transform="translate(340)"/>
<rect x="1356" y="213.6" width="104" height="1.5" fill="#002e6c"/><rect x="1097" y="213.6" width="104" height="1.5" fill="url(#b6)" opacity="0.90" transform="translate(259)"/>
<rect x="1356" y="215.1" width="104" height="4.5" fill="#002e6c"/><rect x="1050" y="215.1" width="104" height="4.5" fill="url(#b4)" opacity="0.90" transform="translate(306)"/>
<rect x="1356" y="219.6" width="104" height="3.8" fill="#002e6c"/><rect x="1002" y="219.6" width="104" height="3.8" fill="url(#b3)" opacity="0.90" transform="translate(354)"/>
<rect x="1356" y="223.4" width="104" height="4.6" fill="#002e6c"/><rect x="1333" y="223.4" width="104" height="4.6" fill="url(#b4)" opacity="0.90" transform="translate(23)"/>
<rect x="865" y="205.3" width="31" height="4.9" fill="#f9e03a"/><rect x="771" y="205.3" width="31" height="4.9" fill="url(#y3)" opacity="0.22" transform="translate(94)"/>
<rect x="897" y="205.3" width="12" height="4.9" fill="#ead34c"/><rect x="760" y="205.3" width="12" height="4.9" fill="url(#y1)" opacity="0.22" transform="translate(137)"/>
<rect x="912" y="205.3" width="21" height="4.9" fill="#bcae6c"/><rect x="911" y="205.3" width="21" height="4.9" fill="url(#y3)" opacity="0.45" transform="translate(1)"/>
<rect x="935" y="205.3" width="46" height="4.9" fill="#999277"/><rect x="749" y="205.3" width="46" height="4.9" fill="url(#y2)" opacity="0.45" transform="translate(186)"/>
<rect x="1029" y="205.3" width="124" height="4.9" fill="#888578"/><rect x="749" y="205.3" width="124" height="4.9" fill="url(#y2)" opacity="0.45" transform="translate(280)"/>
<rect x="1356" y="205.3" width="178" height="4.9" fill="#f3db42"/><rect x="1231" y="205.3" width="178" height="4.9" fill="url(#y2)" opacity="0.22" transform="translate(125)"/>
<rect x="1541" y="205.3" width="138" height="4.9" fill="#f6dd3f"/><rect x="1383" y="205.3" width="138" height="4.9" fill="url(#y0)" opacity="0.22" transform="translate(158)"/>
<rect x="1683" y="205.3" width="8" height="4.9" fill="#bcae6c"/><rect x="1501" y="205.3" width="8" height="4.9" fill="url(#y1)" opacity="0.45" transform="translate(182)"/>
<rect x="865" y="210.2" width="31" height="3.4" fill="#a89e73"/><rect x="865" y="210.2" width="31" height="3.4" fill="url(#y1)" opacity="0.45" transform="translate(0)"/>
<rect x="897" y="210.2" width="12" height="3.4" fill="#9f9775"/><rect x="702" y="210.2" width="12" height="3.4" fill="url(#y2)" opacity="0.45" transform="translate(195)"/>
<rect x="912" y="210.2" width="21" height="3.4" fill="#828079"/><rect x="669" y="210.2" width="21" height="3.4" fill="url(#y0)" opacity="0.45" transform="translate(243)"/>
<rect x="935" y="210.2" width="46" height="3.4" fill="#6e6f73"/><rect x="678" y="210.2" width="46" height="3.4" fill="url(#b4)" opacity="0.65" transform="translate(257)"/>
<rect x="1029" y="210.2" width="124" height="3.4" fill="#636670"/><rect x="902" y="210.2" width="124" height="3.4" fill="url(#b3)" opacity="0.65" transform="translate(127)"/>
<rect x="1356" y="210.2" width="178" height="3.4" fill="#a59c74"/><rect x="1310" y="210.2" width="178" height="3.4" fill="url(#y0)" opacity="0.45" transform="translate(46)"/>
<rect x="1541" y="210.2" width="138" height="3.4" fill="#a79d73"/><rect x="1496" y="210.2" width="138" height="3.4" fill="url(#y2)" opacity="0.45" transform="translate(45)"/>
<rect x="1683" y="210.2" width="8" height="3.4" fill="#828079"/><rect x="1479" y="210.2" width="8" height="3.4" fill="url(#y1)" opacity="0.45" transform="translate(204)"/>
<rect x="865" y="200.5" width="31" height="4.8" fill="#585e6d"/><rect x="664" y="200.5" width="31" height="4.8" fill="url(#b0)" opacity="0.65" transform="translate(201)"/>
<rect x="897" y="200.5" width="12" height="4.8" fill="#555b6d"/><rect x="744" y="200.5" width="12" height="4.8" fill="url(#b0)" opacity="0.65" transform="translate(153)"/>
<rect x="912" y="200.5" width="21" height="4.8" fill="#46516c"/><rect x="590" y="200.5" width="21" height="4.8" fill="url(#b4)" opacity="0.90" transform="translate(322)"/>
<rect x="935" y="200.5" width="46" height="4.8" fill="#3a486c"/><rect x="892" y="200.5" width="46" height="4.8" fill="url(#b3)" opacity="0.90" transform="translate(43)"/>
<rect x="1029" y="200.5" width="124" height="4.8" fill="#33446d"/><rect x="693" y="200.5" width="124" height="4.8" fill="url(#b2)" opacity="0.90" transform="translate(336)"/>
<rect x="1356" y="200.5" width="178" height="4.8" fill="#575d6d"/><rect x="965" y="200.5" width="178" height="4.8" fill="url(#b6)" opacity="0.65" transform="translate(391)"/>
<rect x="1541" y="200.5" width="138" height="4.8" fill="#585e6d"/><rect x="1173" y="200.5" width="138" height="4.8" fill="url(#b5)" opacity="0.65" transform="translate(368)"/>
<rect x="1683" y="200.5" width="8" height="4.8" fill="#46516c"/><rect x="1607" y="200.5" width="8" height="4.8" fill="url(#b7)" opacity="0.90" transform="translate(76)"/>
<rect x="1598" y="242.2" width="14" height="0.8" fill="#948e77"/><rect x="1228" y="242.2" width="14" height="0.8" fill="url(#y2)" opacity="0.45" transform="translate(370)"/>
<rect x="1598" y="243" width="14" height="4.4" fill="#948e77"/><rect x="1576" y="243" width="14" height="4.4" fill="url(#y1)" opacity="0.45" transform="translate(22)"/>
<rect x="1612" y="242.2" width="50" height="0.8" fill="#eed649"/><rect x="1237" y="242.2" width="50" height="0.8" fill="url(#y3)" opacity="0.22" transform="translate(375)"/>
<rect x="1612" y="243" width="50" height="4.4" fill="#eed649"/><rect x="1344" y="243" width="50" height="4.4" fill="url(#y1)" opacity="0.22" transform="translate(268)"/>
<rect x="1662" y="242.2" width="17" height="0.8" fill="#999277"/><rect x="1311" y="242.2" width="17" height="0.8" fill="url(#y0)" opacity="0.45" transform="translate(351)"/>
<rect x="1662" y="243" width="17" height="4.4" fill="#999277"/><rect x="1619" y="243" width="17" height="4.4" fill="url(#y1)" opacity="0.45" transform="translate(43)"/>
<rect x="1679" y="242.2" width="12" height="0.8" fill="#5b606e"/><rect x="1658" y="242.2" width="12" height="0.8" fill="url(#b0)" opacity="0.65" transform="translate(21)"/>
<rect x="1679" y="243" width="12" height="4.4" fill="#5b606e"/><rect x="1353" y="243" width="12" height="4.4" fill="url(#b2)" opacity="0.65" transform="translate(326)"/>
<rect x="950" y="233" width="741" height="4.9" fill="#35456c"/><rect x="897" y="233" width="741" height="4.9" fill="url(#b5)" opacity="0.90" transform="translate(53)"/>
<rect x="1598" y="237.9" width="81" height="4.3" fill="#62656f"/><rect x="1367" y="237.9" width="81" height="4.3" fill="url(#b6)" opacity="0.65" transform="translate(231)"/>
<rect x="1605" y="247.4" width="67" height="4.1" fill="#4f576c"/><rect x="1284" y="247.4" width="67" height="4.1" fill="url(#b0)" opacity="0.65" transform="translate(321)"/>
<rect x="206" y="266.2" width="554" height="4.7" fill="#4f576c"/><rect x="-114" y="266.2" width="554" height="4.7" fill="url(#b0)" opacity="0.65" transform="translate(320)"/>
<rect x="1274" y="266.2" width="417" height="4.7" fill="#083370"/><rect x="1024" y="266.2" width="417" height="4.7" fill="url(#b3)" opacity="0.90" transform="translate(250)"/>
<rect x="206" y="270.9" width="554" height="4.9" fill="#948e77"/><rect x="205" y="270.9" width="554" height="4.9" fill="url(#y2)" opacity="0.85" transform="translate(1)"/>
<rect x="760" y="270.9" width="399" height="4.9" fill="#7d7c78"/><rect x="725" y="270.9" width="399" height="4.9" fill="url(#y3)" opacity="0.85" transform="translate(35)"/>
<rect x="1159" y="270.9" width="115" height="4.9" fill="#565c6d"/><rect x="822" y="270.9" width="115" height="4.9" fill="url(#b1)" opacity="0.85" transform="translate(337)"/>
<rect x="1274" y="270.9" width="417" height="4.9" fill="#083370"/><rect x="893" y="270.9" width="417" height="4.9" fill="url(#b1)" opacity="0.85" transform="translate(381)"/>
<rect x="206" y="275.8" width="554" height="4.9" fill="#a19975"/><rect x="77" y="275.8" width="554" height="4.9" fill="url(#y3)" opacity="0.85" transform="translate(129)"/>
<rect x="760" y="275.8" width="399" height="4.9" fill="#888578"/><rect x="625" y="275.8" width="399" height="4.9" fill="url(#y0)" opacity="0.85" transform="translate(135)"/>
<rect x="1159" y="275.8" width="115" height="4.9" fill="#62656f"/><rect x="786" y="275.8" width="115" height="4.9" fill="url(#b3)" opacity="0.85" transform="translate(373)"/>
<rect x="1274" y="275.8" width="417" height="4.9" fill="#123570"/><rect x="1156" y="275.8" width="417" height="4.9" fill="url(#b3)" opacity="0.85" transform="translate(118)"/>
<rect x="206" y="280.7" width="554" height="4.9" fill="#bcae6c"/><rect x="-46" y="280.7" width="554" height="4.9" fill="url(#y3)" opacity="0.85" transform="translate(252)"/>
<rect x="760" y="280.7" width="399" height="4.9" fill="#948e77"/><rect x="721" y="280.7" width="399" height="4.9" fill="url(#y3)" opacity="0.85" transform="translate(39)"/>
<rect x="1159" y="280.7" width="115" height="4.9" fill="#62656f"/><rect x="809" y="280.7" width="115" height="4.9" fill="url(#b7)" opacity="0.85" transform="translate(350)"/>
<rect x="1274" y="280.7" width="417" height="4.9" fill="#163770"/><rect x="882" y="280.7" width="417" height="4.9" fill="url(#b4)" opacity="0.85" transform="translate(392)"/>
<rect x="206" y="285.6" width="554" height="4.7" fill="#b4a76f"/><rect x="-109" y="285.6" width="554" height="4.7" fill="url(#y0)" opacity="0.85" transform="translate(315)"/>
<rect x="760" y="285.6" width="399" height="4.7" fill="#888578"/><rect x="721" y="285.6" width="399" height="4.7" fill="url(#y1)" opacity="0.85" transform="translate(39)"/>
<rect x="1159" y="285.6" width="115" height="4.7" fill="#565c6d"/><rect x="990" y="285.6" width="115" height="4.7" fill="url(#b2)" opacity="0.85" transform="translate(169)"/>
<rect x="1274" y="285.6" width="417" height="4.7" fill="#123570"/><rect x="941" y="285.6" width="417" height="4.7" fill="url(#b4)" opacity="0.85" transform="translate(333)"/>
<rect x="206" y="290.3" width="554" height="4.6" fill="#727274"/><rect x="-112" y="290.3" width="554" height="4.6" fill="url(#b4)" opacity="0.65" transform="translate(318)"/>
<rect x="760" y="290.3" width="399" height="4.6" fill="#4f576c"/><rect x="754" y="290.3" width="399" height="4.6" fill="url(#b2)" opacity="0.65" transform="translate(6)"/>
<rect x="1159" y="290.3" width="532" height="4.6" fill="#163770"/><rect x="1128" y="290.3" width="532" height="4.6" fill="url(#b7)" opacity="0.90" transform="translate(31)"/>
<rect x="1274" y="294.9" width="417" height="4.8" fill="#083370"/><rect x="1137" y="294.9" width="417" height="4.8" fill="url(#b7)" opacity="0.90" transform="translate(137)"/>
<rect x="524" y="280.7" width="58" height="4.9" fill="#e5cf52"/><rect x="170" y="280.7" width="58" height="4.9" fill="url(#y0)" opacity="0.22" transform="translate(354)"/>
<rect x="440" y="280.7" width="34" height="4.9" fill="#c3b369"/><rect x="95" y="280.7" width="34" height="4.9" fill="url(#y1)" opacity="0.45" transform="translate(345)"/>
<rect x="320" y="285.6" width="10" height="4.7" fill="#f3db42"/><rect x="172" y="285.6" width="10" height="4.7" fill="url(#y3)" opacity="0.22" transform="translate(148)"/>
<rect x="440" y="285.6" width="34" height="4.7" fill="#aea371"/><rect x="203" y="285.6" width="34" height="4.7" fill="url(#y2)" opacity="0.45" transform="translate(237)"/>
<rect x="290" y="280.7" width="52" height="4.9" fill="#f3db42"/><rect x="52" y="280.7" width="52" height="4.9" fill="url(#y3)" opacity="0.22" transform="translate(238)"/>
<rect x="290" y="285.6" width="52" height="4.7" fill="#f3db42"/><rect x="9" y="285.6" width="52" height="4.7" fill="url(#y0)" opacity="0.22" transform="translate(281)"/>
<rect x="603" y="280.7" width="25" height="4.9" fill="#f3db42"/><rect x="444" y="280.7" width="25" height="4.9" fill="url(#y1)" opacity="0.22" transform="translate(159)"/>
<rect x="603" y="285.6" width="25" height="4.7" fill="#f3db42"/><rect x="361" y="285.6" width="25" height="4.7" fill="url(#y0)" opacity="0.22" transform="translate(242)"/>
<rect x="634" y="280.7" width="13" height="4.9" fill="#d6c35d"/><rect x="486" y="280.7" width="13" height="4.9" fill="url(#y0)" opacity="0.22" transform="translate(148)"/>
<rect x="634" y="285.6" width="13" height="4.7" fill="#d6c35d"/><rect x="595" y="285.6" width="13" height="4.7" fill="url(#y3)" opacity="0.22" transform="translate(39)"/>
<rect x="657" y="280.7" width="7" height="4.9" fill="#e5cf52"/><rect x="520" y="280.7" width="7" height="4.9" fill="url(#y3)" opacity="0.22" transform="translate(137)"/>
<rect x="657" y="285.6" width="7" height="4.7" fill="#e5cf52"/><rect x="550" y="285.6" width="7" height="4.7" fill="url(#y3)" opacity="0.22" transform="translate(107)"/>
<rect x="687" y="280.7" width="16" height="4.9" fill="#f3db42"/><rect x="649" y="280.7" width="16" height="4.9" fill="url(#y1)" opacity="0.22" transform="translate(38)"/>
<rect x="687" y="285.6" width="16" height="4.7" fill="#f3db42"/><rect x="615" y="285.6" width="16" height="4.7" fill="url(#y0)" opacity="0.22" transform="translate(72)"/>
<rect x="724" y="280.7" width="13" height="4.9" fill="#e5cf52"/><rect x="540" y="280.7" width="13" height="4.9" fill="url(#y2)" opacity="0.22" transform="translate(184)"/>
<rect x="724" y="285.6" width="13" height="4.7" fill="#e5cf52"/><rect x="416" y="285.6" width="13" height="4.7" fill="url(#y1)" opacity="0.22" transform="translate(308)"/>
<rect x="950" y="280.7" width="10" height="4.9" fill="#c8b866"/><rect x="893" y="280.7" width="10" height="4.9" fill="url(#y2)" opacity="0.45" transform="translate(57)"/>
<rect x="950" y="285.6" width="10" height="4.7" fill="#c8b866"/><rect x="832" y="285.6" width="10" height="4.7" fill="url(#y2)" opacity="0.45" transform="translate(118)"/>
<rect x="1040" y="280.7" width="5" height="4.9" fill="#c8b866"/><rect x="792" y="280.7" width="5" height="4.9" fill="url(#y3)" opacity="0.45" transform="translate(248)"/>
<rect x="1040" y="285.6" width="5" height="4.7" fill="#c8b866"/><rect x="1028" y="285.6" width="5" height="4.7" fill="url(#y3)" opacity="0.45" transform="translate(12)"/>
<rect x="1075" y="280.7" width="5" height="4.9" fill="#c8b866"/><rect x="1074" y="280.7" width="5" height="4.9" fill="url(#y1)" opacity="0.45" transform="translate(1)"/>
<rect x="1075" y="285.6" width="5" height="4.7" fill="#c8b866"/><rect x="727" y="285.6" width="5" height="4.7" fill="url(#y3)" opacity="0.45" transform="translate(348)"/>
<rect x="1600" y="266.2" width="66" height="4.7" fill="#6b6d72"/><rect x="1393" y="266.2" width="66" height="4.7" fill="url(#b7)" opacity="0.65" transform="translate(207)"/>
<rect x="1600" y="270.9" width="66" height="4.9" fill="#6b6d72"/><rect x="1228" y="270.9" width="66" height="4.9" fill="url(#b4)" opacity="0.65" transform="translate(372)"/>
<rect x="1600" y="275.8" width="66" height="4.9" fill="#6b6d72"/><rect x="1387" y="275.8" width="66" height="4.9" fill="url(#b2)" opacity="0.65" transform="translate(213)"/>
<rect x="1600" y="280.7" width="66" height="4.9" fill="#6b6d72"/><rect x="1408" y="280.7" width="66" height="4.9" fill="url(#b5)" opacity="0.65" transform="translate(192)"/>
<rect x="1600" y="285.6" width="66" height="4.7" fill="#6b6d72"/><rect x="1539" y="285.6" width="66" height="4.7" fill="url(#b5)" opacity="0.65" transform="translate(61)"/>
<rect x="1600" y="290.3" width="66" height="4.6" fill="#6b6d72"/><rect x="1600" y="290.3" width="66" height="4.6" fill="url(#b5)" opacity="0.65" transform="translate(0)"/>
<rect x="1600" y="294.9" width="66" height="4.8" fill="#6b6d72"/><rect x="1216" y="294.9" width="66" height="4.8" fill="url(#b5)" opacity="0.65" transform="translate(384)"/>
<rect x="1638" y="270.9" width="22" height="4.9" fill="#aea371"/><rect x="1435" y="270.9" width="22" height="4.9" fill="url(#y2)" opacity="0.45" transform="translate(203)"/>
<rect x="1638" y="275.8" width="22" height="4.9" fill="#aea371"/><rect x="1538" y="275.8" width="22" height="4.9" fill="url(#y0)" opacity="0.45" transform="translate(100)"/>
<rect x="1343" y="280.7" width="56" height="4.9" fill="#4a536c"/><rect x="965" y="280.7" width="56" height="4.9" fill="url(#b0)" opacity="0.90" transform="translate(378)"/>
<rect x="1343" y="285.6" width="56" height="4.7" fill="#4a536c"/><rect x="1214" y="285.6" width="56" height="4.7" fill="url(#b4)" opacity="0.90" transform="translate(129)"/>
<rect x="1437" y="280.7" width="10" height="4.9" fill="#434e6c"/><rect x="1404" y="280.7" width="10" height="4.9" fill="url(#b5)" opacity="0.90" transform="translate(33)"/>
<rect x="1437" y="285.6" width="10" height="4.7" fill="#434e6c"/><rect x="1238" y="285.6" width="10" height="4.7" fill="url(#b6)" opacity="0.90" transform="translate(199)"/>
<rect x="1468" y="275.8" width="21" height="4.9" fill="#4f576c"/><rect x="1284" y="275.8" width="21" height="4.9" fill="url(#b1)" opacity="0.65" transform="translate(184)"/>
<rect x="1468" y="280.7" width="21" height="4.9" fill="#4f576c"/><rect x="1082" y="280.7" width="21" height="4.9" fill="url(#b6)" opacity="0.65" transform="translate(386)"/>
<rect x="1468" y="285.6" width="21" height="4.7" fill="#4f576c"/><rect x="1444" y="285.6" width="21" height="4.7" fill="url(#b4)" opacity="0.65" transform="translate(24)"/>
<rect x="1468" y="290.3" width="21" height="4.6" fill="#4f576c"/><rect x="1416" y="290.3" width="21" height="4.6" fill="url(#b4)" opacity="0.65" transform="translate(52)"/>
<rect x="206" y="304.1" width="84" height="4.9" fill="#4f576c"/><rect x="-132" y="304.1" width="84" height="4.9" fill="url(#b0)" opacity="0.65" transform="translate(338)"/>
<rect x="290" y="304.1" width="275" height="4.9" fill="#7d7c78"/><rect x="-35" y="304.1" width="275" height="4.9" fill="url(#y2)" opacity="0.45" transform="translate(325)"/>
<rect x="565" y="304.1" width="232" height="4.9" fill="#666970"/><rect x="438" y="304.1" width="232" height="4.9" fill="url(#b2)" opacity="0.65" transform="translate(127)"/>
<rect x="797" y="304.1" width="153" height="4.9" fill="#4f576c"/><rect x="574" y="304.1" width="153" height="4.9" fill="url(#b4)" opacity="0.65" transform="translate(223)"/>
<rect x="950" y="304.1" width="31" height="4.9" fill="#727274"/><rect x="853" y="304.1" width="31" height="4.9" fill="url(#b5)" opacity="0.65" transform="translate(97)"/>
<rect x="981" y="304.1" width="121" height="4.9" fill="#2f426d"/><rect x="762" y="304.1" width="121" height="4.9" fill="url(#b5)" opacity="0.90" transform="translate(219)"/>
<rect x="1102" y="304.1" width="84" height="4.9" fill="#5b606e"/><rect x="713" y="304.1" width="84" height="4.9" fill="url(#b0)" opacity="0.65" transform="translate(389)"/>
<rect x="1186" y="304.1" width="234" height="4.9" fill="#2f426d"/><rect x="903" y="304.1" width="234" height="4.9" fill="url(#b6)" opacity="0.90" transform="translate(283)"/>
<rect x="1420" y="304.1" width="180" height="4.9" fill="#5b606e"/><rect x="1052" y="304.1" width="180" height="4.9" fill="url(#b3)" opacity="0.65" transform="translate(368)"/>
<rect x="1600" y="304.1" width="91" height="4.9" fill="#35456c"/><rect x="1575" y="304.1" width="91" height="4.9" fill="url(#b1)" opacity="0.90" transform="translate(25)"/>
<rect x="206" y="309" width="84" height="4.9" fill="#4f576c"/><rect x="-24" y="309" width="84" height="4.9" fill="url(#b6)" opacity="0.65" transform="translate(230)"/>
<rect x="206" y="313.9" width="84" height="4.9" fill="#4f576c"/><rect x="-123" y="313.9" width="84" height="4.9" fill="url(#b2)" opacity="0.65" transform="translate(329)"/>
<rect x="290" y="309" width="275" height="4.9" fill="#a39a74"/><rect x="42" y="309" width="275" height="4.9" fill="url(#y2)" opacity="0.70" transform="translate(248)"/>
<rect x="290" y="313.9" width="275" height="4.9" fill="#a39a74"/><rect x="9" y="313.9" width="275" height="4.9" fill="url(#y0)" opacity="0.70" transform="translate(281)"/>
<rect x="565" y="309" width="232" height="4.9" fill="#727274"/><rect x="478" y="309" width="232" height="4.9" fill="url(#b2)" opacity="0.65" transform="translate(87)"/>
<rect x="565" y="313.9" width="232" height="4.9" fill="#727274"/><rect x="353" y="313.9" width="232" height="4.9" fill="url(#b7)" opacity="0.65" transform="translate(212)"/>
<rect x="797" y="309" width="100" height="4.9" fill="#4f576c"/><rect x="653" y="309" width="100" height="4.9" fill="url(#b5)" opacity="0.65" transform="translate(144)"/>
<rect x="797" y="313.9" width="100" height="4.9" fill="#4f576c"/><rect x="667" y="313.9" width="100" height="4.9" fill="url(#b4)" opacity="0.65" transform="translate(130)"/>
<rect x="897" y="309" width="19" height="4.9" fill="#a19975"/><rect x="690" y="309" width="19" height="4.9" fill="url(#y2)" opacity="0.45" transform="translate(207)"/>
<rect x="897" y="313.9" width="19" height="4.9" fill="#a19975"/><rect x="743" y="313.9" width="19" height="4.9" fill="url(#y1)" opacity="0.45" transform="translate(154)"/>
<rect x="922" y="309" width="19" height="4.9" fill="#f3db42"/><rect x="637" y="309" width="19" height="4.9" fill="url(#y3)" opacity="0.22" transform="translate(285)"/>
<rect x="922" y="313.9" width="19" height="4.9" fill="#f3db42"/><rect x="861" y="313.9" width="19" height="4.9" fill="url(#y3)" opacity="0.22" transform="translate(61)"/>
<rect x="941" y="309" width="9" height="4.9" fill="#666970"/><rect x="612" y="309" width="9" height="4.9" fill="url(#b2)" opacity="0.65" transform="translate(329)"/>
<rect x="941" y="313.9" width="9" height="4.9" fill="#666970"/><rect x="903" y="313.9" width="9" height="4.9" fill="url(#b2)" opacity="0.65" transform="translate(38)"/>
<rect x="950" y="309" width="31" height="4.9" fill="#7d7c78"/><rect x="694" y="309" width="31" height="4.9" fill="url(#y1)" opacity="0.45" transform="translate(256)"/>
<rect x="950" y="313.9" width="31" height="4.9" fill="#7d7c78"/><rect x="669" y="313.9" width="31" height="4.9" fill="url(#y3)" opacity="0.45" transform="translate(281)"/>
<rect x="981" y="309" width="121" height="4.9" fill="#35456c"/><rect x="750" y="309" width="121" height="4.9" fill="url(#b3)" opacity="0.90" transform="translate(231)"/>
<rect x="981" y="313.9" width="121" height="4.9" fill="#35456c"/><rect x="593" y="313.9" width="121" height="4.9" fill="url(#b5)" opacity="0.90" transform="translate(388)"/>
<rect x="1102" y="309" width="84" height="4.9" fill="#666970"/><rect x="884" y="309" width="84" height="4.9" fill="url(#b7)" opacity="0.65" transform="translate(218)"/>
<rect x="1102" y="313.9" width="84" height="4.9" fill="#666970"/><rect x="822" y="313.9" width="84" height="4.9" fill="url(#b2)" opacity="0.65" transform="translate(280)"/>
<rect x="1186" y="309" width="234" height="4.9" fill="#35456c"/><rect x="1062" y="309" width="234" height="4.9" fill="url(#b3)" opacity="0.90" transform="translate(124)"/>
<rect x="1186" y="313.9" width="234" height="4.9" fill="#35456c"/><rect x="1097" y="313.9" width="234" height="4.9" fill="url(#b1)" opacity="0.90" transform="translate(89)"/>
<rect x="1420" y="309" width="73" height="4.9" fill="#c8b866"/><rect x="1136" y="309" width="73" height="4.9" fill="url(#y2)" opacity="0.45" transform="translate(284)"/>
<rect x="1420" y="313.9" width="73" height="4.9" fill="#c8b866"/><rect x="1257" y="313.9" width="73" height="4.9" fill="url(#y0)" opacity="0.45" transform="translate(163)"/>
<rect x="1493" y="309" width="6" height="4.9" fill="#666970"/><rect x="1305" y="309" width="6" height="4.9" fill="url(#b3)" opacity="0.65" transform="translate(188)"/>
<rect x="1493" y="313.9" width="6" height="4.9" fill="#666970"/><rect x="1202" y="313.9" width="6" height="4.9" fill="url(#b4)" opacity="0.65" transform="translate(291)"/>
<rect x="1499" y="309" width="19" height="4.9" fill="#948e77"/><rect x="1489" y="309" width="19" height="4.9" fill="url(#y1)" opacity="0.45" transform="translate(10)"/>
<rect x="1499" y="313.9" width="19" height="4.9" fill="#948e77"/><rect x="1303" y="313.9" width="19" height="4.9" fill="url(#y3)" opacity="0.45" transform="translate(196)"/>
<rect x="1518" y="309" width="4" height="4.9" fill="#666970"/><rect x="1137" y="309" width="4" height="4.9" fill="url(#b6)" opacity="0.65" transform="translate(381)"/>
<rect x="1518" y="313.9" width="4" height="4.9" fill="#666970"/><rect x="1326" y="313.9" width="4" height="4.9" fill="url(#b3)" opacity="0.65" transform="translate(192)"/>
<rect x="1522" y="309" width="76" height="4.9" fill="#d6c35d"/><rect x="1349" y="309" width="76" height="4.9" fill="url(#y2)" opacity="0.22" transform="translate(173)"/>
<rect x="1522" y="313.9" width="76" height="4.9" fill="#d6c35d"/><rect x="1267" y="313.9" width="76" height="4.9" fill="url(#y0)" opacity="0.22" transform="translate(255)"/>
<rect x="1598" y="309" width="93" height="4.9" fill="#3b496c"/><rect x="1304" y="309" width="93" height="4.9" fill="url(#b4)" opacity="0.90" transform="translate(294)"/>
<rect x="1598" y="313.9" width="93" height="4.9" fill="#3b496c"/><rect x="1534" y="313.9" width="93" height="4.9" fill="url(#b5)" opacity="0.90" transform="translate(64)"/>
<rect x="306" y="309" width="17" height="4.9" fill="#d6c35d"/><rect x="259" y="309" width="17" height="4.9" fill="url(#y1)" opacity="0.22" transform="translate(47)"/>
<rect x="306" y="313.9" width="17" height="4.9" fill="#d6c35d"/><rect x="179" y="313.9" width="17" height="4.9" fill="url(#y2)" opacity="0.22" transform="translate(127)"/>
<rect x="373" y="309" width="6" height="4.9" fill="#f3db42"/><rect x="169" y="309" width="6" height="4.9" fill="url(#y3)" opacity="0.22" transform="translate(204)"/>
<rect x="373" y="313.9" width="6" height="4.9" fill="#f3db42"/><rect x="152" y="313.9" width="6" height="4.9" fill="url(#y3)" opacity="0.22" transform="translate(221)"/>
<rect x="421" y="309" width="6" height="4.9" fill="#e5cf52"/><rect x="410" y="309" width="6" height="4.9" fill="url(#y2)" opacity="0.22" transform="translate(11)"/>
<rect x="421" y="313.9" width="6" height="4.9" fill="#e5cf52"/><rect x="405" y="313.9" width="6" height="4.9" fill="url(#y1)" opacity="0.22" transform="translate(16)"/>
<rect x="457" y="309" width="12" height="4.9" fill="#d6c35d"/><rect x="94" y="309" width="12" height="4.9" fill="url(#y3)" opacity="0.22" transform="translate(363)"/>
<rect x="457" y="313.9" width="12" height="4.9" fill="#d6c35d"/><rect x="157" y="313.9" width="12" height="4.9" fill="url(#y3)" opacity="0.22" transform="translate(300)"/>
<rect x="527" y="309" width="5" height="4.9" fill="#f3db42"/><rect x="527" y="309" width="5" height="4.9" fill="url(#y3)" opacity="0.22" transform="translate(0)"/>
<rect x="527" y="313.9" width="5" height="4.9" fill="#f3db42"/><rect x="327" y="313.9" width="5" height="4.9" fill="url(#y0)" opacity="0.22" transform="translate(200)"/>
<rect x="1476" y="309" width="13" height="4.9" fill="#f3db42"/><rect x="1247" y="309" width="13" height="4.9" fill="url(#y3)" opacity="0.22" transform="translate(229)"/>
<rect x="1476" y="313.9" width="13" height="4.9" fill="#f3db42"/><rect x="1421" y="313.9" width="13" height="4.9" fill="url(#y1)" opacity="0.22" transform="translate(55)"/>
<rect x="1556" y="309" width="16" height="4.9" fill="#f9e03a"/><rect x="1477" y="309" width="16" height="4.9" fill="url(#y1)" opacity="0.22" transform="translate(79)"/>
<rect x="1556" y="313.9" width="16" height="4.9" fill="#f9e03a"/><rect x="1289" y="313.9" width="16" height="4.9" fill="url(#y1)" opacity="0.22" transform="translate(267)"/>
<rect x="206" y="513.9" width="7" height="4.4" fill="#243c6e"/><rect x="-163" y="513.9" width="7" height="4.4" fill="url(#b1)" opacity="0.90" transform="translate(369)"/>
<rect x="221" y="513.9" width="5" height="4.4" fill="#1e3a6f"/><rect x="178" y="513.9" width="5" height="4.4" fill="url(#b7)" opacity="0.90" transform="translate(43)"/>
<rect x="230" y="513.9" width="5" height="4.4" fill="#163770"/><rect x="230" y="513.9" width="5" height="4.4" fill="url(#b0)" opacity="0.90" transform="translate(0)"/>
<rect x="242" y="513.9" width="8" height="4.4" fill="#2a3f6d"/><rect x="123" y="513.9" width="8" height="4.4" fill="url(#b2)" opacity="0.90" transform="translate(119)"/>
<rect x="262" y="513.9" width="7" height="4.4" fill="#163770"/><rect x="-68" y="513.9" width="7" height="4.4" fill="url(#b0)" opacity="0.90" transform="translate(330)"/>
<rect x="272" y="513.9" width="10" height="4.4" fill="#4b546c"/><rect x="207" y="513.9" width="10" height="4.4" fill="url(#b4)" opacity="0.90" transform="translate(65)"/>
<rect x="287" y="513.9" width="5" height="4.4" fill="#1e3a6f"/><rect x="17" y="513.9" width="5" height="4.4" fill="url(#b4)" opacity="0.90" transform="translate(270)"/>
<rect x="309" y="513.9" width="6" height="4.4" fill="#48526c"/><rect x="-48" y="513.9" width="6" height="4.4" fill="url(#b6)" opacity="0.90" transform="translate(357)"/>
<rect x="328" y="513.9" width="11" height="4.4" fill="#444f6c"/><rect x="278" y="513.9" width="11" height="4.4" fill="url(#b1)" opacity="0.90" transform="translate(50)"/>
<rect x="343" y="513.9" width="3" height="4.4" fill="#444f6c"/><rect x="190" y="513.9" width="3" height="4.4" fill="url(#b1)" opacity="0.90" transform="translate(153)"/>
<rect x="348" y="513.9" width="8" height="4.4" fill="#163770"/><rect x="150" y="513.9" width="8" height="4.4" fill="url(#b3)" opacity="0.90" transform="translate(198)"/>
<rect x="398" y="513.9" width="3" height="4.4" fill="#48526c"/><rect x="284" y="513.9" width="3" height="4.4" fill="url(#b4)" opacity="0.90" transform="translate(114)"/>
<rect x="437" y="513.9" width="6" height="4.4" fill="#404c6c"/><rect x="432" y="513.9" width="6" height="4.4" fill="url(#b0)" opacity="0.90" transform="translate(5)"/>
<rect x="543" y="513.9" width="5" height="4.4" fill="#243c6e"/><rect x="308" y="513.9" width="5" height="4.4" fill="url(#b4)" opacity="0.90" transform="translate(235)"/>
<rect x="594" y="513.9" width="11" height="4.4" fill="#163770"/><rect x="433" y="513.9" width="11" height="4.4" fill="url(#b4)" opacity="0.90" transform="translate(161)"/>
<rect x="616" y="513.9" width="7" height="4.4" fill="#2a3f6d"/><rect x="373" y="513.9" width="7" height="4.4" fill="url(#b3)" opacity="0.90" transform="translate(243)"/>
<rect x="651" y="513.9" width="15" height="4.4" fill="#2a3f6d"/><rect x="371" y="513.9" width="15" height="4.4" fill="url(#b3)" opacity="0.90" transform="translate(280)"/>
<rect x="710" y="513.9" width="14" height="4.4" fill="#163770"/><rect x="696" y="513.9" width="14" height="4.4" fill="url(#b3)" opacity="0.90" transform="translate(14)"/>
<rect x="730" y="513.9" width="13" height="4.4" fill="#404c6c"/><rect x="370" y="513.9" width="13" height="4.4" fill="url(#b6)" opacity="0.90" transform="translate(360)"/>
<rect x="747" y="513.9" width="8" height="4.4" fill="#4b546c"/><rect x="719" y="513.9" width="8" height="4.4" fill="url(#b4)" opacity="0.90" transform="translate(28)"/>
<rect x="760" y="513.9" width="13" height="4.4" fill="#2f426d"/><rect x="661" y="513.9" width="13" height="4.4" fill="url(#b0)" opacity="0.90" transform="translate(99)"/>
<rect x="781" y="513.9" width="8" height="4.4" fill="#33446d"/><rect x="436" y="513.9" width="8" height="4.4" fill="url(#b7)" opacity="0.90" transform="translate(345)"/>
<rect x="794" y="513.9" width="4" height="4.4" fill="#48526c"/><rect x="753" y="513.9" width="4" height="4.4" fill="url(#b6)" opacity="0.90" transform="translate(41)"/>
<rect x="802" y="513.9" width="6" height="4.4" fill="#404c6c"/><rect x="686" y="513.9" width="6" height="4.4" fill="url(#b4)" opacity="0.90" transform="translate(116)"/>
<rect x="818" y="513.9" width="12" height="4.4" fill="#243c6e"/><rect x="629" y="513.9" width="12" height="4.4" fill="url(#b6)" opacity="0.90" transform="translate(189)"/>
<rect x="864" y="513.9" width="4" height="4.4" fill="#163770"/><rect x="612" y="513.9" width="4" height="4.4" fill="url(#b3)" opacity="0.90" transform="translate(252)"/>
<rect x="931" y="513.9" width="5" height="4.4" fill="#3c4a6c"/><rect x="575" y="513.9" width="5" height="4.4" fill="url(#b0)" opacity="0.90" transform="translate(356)"/>
<rect x="940" y="513.9" width="13" height="4.4" fill="#38476c"/><rect x="573" y="513.9" width="13" height="4.4" fill="url(#b5)" opacity="0.90" transform="translate(367)"/>
<rect x="964" y="513.9" width="18" height="4.4" fill="#444f6c"/><rect x="779" y="513.9" width="18" height="4.4" fill="url(#b6)" opacity="0.90" transform="translate(185)"/>
<rect x="992" y="513.9" width="10" height="4.4" fill="#163770"/><rect x="891" y="513.9" width="10" height="4.4" fill="url(#b6)" opacity="0.90" transform="translate(101)"/>
<rect x="1017" y="513.9" width="8" height="4.4" fill="#404c6c"/><rect x="868" y="513.9" width="8" height="4.4" fill="url(#b0)" opacity="0.90" transform="translate(149)"/>
<rect x="1038" y="513.9" width="29" height="4.4" fill="#0c3470"/><rect x="933" y="513.9" width="29" height="4.4" fill="url(#b1)" opacity="0.90" transform="translate(105)"/>
<rect x="1070" y="513.9" width="5" height="4.4" fill="#33446d"/><rect x="968" y="513.9" width="5" height="4.4" fill="url(#b7)" opacity="0.90" transform="translate(102)"/>
<rect x="1085" y="513.9" width="3" height="4.4" fill="#2f426d"/><rect x="693" y="513.9" width="3" height="4.4" fill="url(#b4)" opacity="0.90" transform="translate(392)"/>
<rect x="1104" y="513.9" width="17" height="4.4" fill="#2f426d"/><rect x="986" y="513.9" width="17" height="4.4" fill="url(#b3)" opacity="0.90" transform="translate(118)"/>
<rect x="1133" y="513.9" width="10" height="4.4" fill="#33446d"/><rect x="1020" y="513.9" width="10" height="4.4" fill="url(#b7)" opacity="0.90" transform="translate(113)"/>
<rect x="1169" y="513.9" width="3" height="4.4" fill="#2f426d"/><rect x="780" y="513.9" width="3" height="4.4" fill="url(#b4)" opacity="0.90" transform="translate(389)"/>
<rect x="1184" y="513.9" width="4" height="4.4" fill="#163770"/><rect x="1129" y="513.9" width="4" height="4.4" fill="url(#b4)" opacity="0.90" transform="translate(55)"/>
<rect x="1235" y="513.9" width="7" height="4.4" fill="#404c6c"/><rect x="923" y="513.9" width="7" height="4.4" fill="url(#b7)" opacity="0.90" transform="translate(312)"/>
<rect x="1245" y="513.9" width="11" height="4.4" fill="#3c4a6c"/><rect x="1131" y="513.9" width="11" height="4.4" fill="url(#b2)" opacity="0.90" transform="translate(114)"/>
<rect x="1259" y="513.9" width="2" height="4.4" fill="#2f426d"/><rect x="1046" y="513.9" width="2" height="4.4" fill="url(#b7)" opacity="0.90" transform="translate(213)"/>
<rect x="1283" y="513.9" width="10" height="4.4" fill="#2f426d"/><rect x="979" y="513.9" width="10" height="4.4" fill="url(#b0)" opacity="0.90" transform="translate(304)"/>
<rect x="1304" y="513.9" width="13" height="4.4" fill="#4b546c"/><rect x="1103" y="513.9" width="13" height="4.4" fill="url(#b2)" opacity="0.90" transform="translate(201)"/>
<rect x="1322" y="513.9" width="20" height="4.4" fill="#243c6e"/><rect x="1213" y="513.9" width="20" height="4.4" fill="url(#b0)" opacity="0.90" transform="translate(109)"/>
<rect x="1385" y="513.9" width="6" height="4.4" fill="#243c6e"/><rect x="1080" y="513.9" width="6" height="4.4" fill="url(#b0)" opacity="0.90" transform="translate(305)"/>
<rect x="1402" y="513.9" width="8" height="4.4" fill="#1e3a6f"/><rect x="1190" y="513.9" width="8" height="4.4" fill="url(#b2)" opacity="0.90" transform="translate(212)"/>
<rect x="1426" y="513.9" width="19" height="4.4" fill="#243c6e"/><rect x="1063" y="513.9" width="19" height="4.4" fill="url(#b0)" opacity="0.90" transform="translate(363)"/>
<rect x="1457" y="513.9" width="24" height="4.4" fill="#2f426d"/><rect x="1363" y="513.9" width="24" height="4.4" fill="url(#b0)" opacity="0.90" transform="translate(94)"/>
<rect x="1465" y="513.9" width="3" height="4.4" fill="#48526c"/><rect x="1235" y="513.9" width="3" height="4.4" fill="url(#b6)" opacity="0.90" transform="translate(230)"/>
<rect x="1511" y="513.9" width="15" height="4.4" fill="#38476c"/><rect x="1136" y="513.9" width="15" height="4.4" fill="url(#b5)" opacity="0.90" transform="translate(375)"/>
<rect x="1532" y="513.9" width="8" height="4.4" fill="#4b546c"/><rect x="1492" y="513.9" width="8" height="4.4" fill="url(#b1)" opacity="0.90" transform="translate(40)"/>
<rect x="1545" y="513.9" width="7" height="4.4" fill="#404c6c"/><rect x="1377" y="513.9" width="7" height="4.4" fill="url(#b2)" opacity="0.90" transform="translate(168)"/>
<rect x="1555" y="513.9" width="12" height="4.4" fill="#3c4a6c"/><rect x="1461" y="513.9" width="12" height="4.4" fill="url(#b3)" opacity="0.90" transform="translate(94)"/>
<rect x="1579" y="513.9" width="4" height="4.4" fill="#2f426d"/><rect x="1563" y="513.9" width="4" height="4.4" fill="url(#b7)" opacity="0.90" transform="translate(16)"/>
<rect x="1589" y="513.9" width="9" height="4.4" fill="#243c6e"/><rect x="1249" y="513.9" width="9" height="4.4" fill="url(#b4)" opacity="0.90" transform="translate(340)"/>
<rect x="1608" y="513.9" width="23" height="4.4" fill="#2a3f6d"/><rect x="1417" y="513.9" width="23" height="4.4" fill="url(#b6)" opacity="0.90" transform="translate(191)"/>
<rect x="1635" y="513.9" width="18" height="4.4" fill="#4b546c"/><rect x="1409" y="513.9" width="18" height="4.4" fill="url(#b5)" opacity="0.90" transform="translate(226)"/>
<rect x="1658" y="513.9" width="3" height="4.4" fill="#404c6c"/><rect x="1603" y="513.9" width="3" height="4.4" fill="url(#b2)" opacity="0.90" transform="translate(55)"/>
<rect x="1665" y="513.9" width="12" height="4.4" fill="#2f426d"/><rect x="1625" y="513.9" width="12" height="4.4" fill="url(#b0)" opacity="0.90" transform="translate(40)"/>
<rect x="1680" y="513.9" width="11" height="4.4" fill="#2f426d"/><rect x="1639" y="513.9" width="11" height="4.4" fill="url(#b4)" opacity="0.90" transform="translate(41)"/>
<rect x="206" y="518.3" width="7" height="4.9" fill="#434e6c"/><rect x="-9" y="518.3" width="7" height="4.9" fill="url(#b5)" opacity="0.90" transform="translate(215)"/>
<rect x="221" y="518.3" width="5" height="4.9" fill="#3c4a6c"/><rect x="-66" y="518.3" width="5" height="4.9" fill="url(#b1)" opacity="0.90" transform="translate(287)"/>
<rect x="230" y="518.3" width="5" height="4.9" fill="#35456c"/><rect x="36" y="518.3" width="5" height="4.9" fill="url(#b3)" opacity="0.90" transform="translate(194)"/>
<rect x="242" y="518.3" width="8" height="4.9" fill="#49536c"/><rect x="-151" y="518.3" width="8" height="4.9" fill="url(#b5)" opacity="0.90" transform="translate(393)"/>
<rect x="262" y="518.3" width="7" height="4.9" fill="#35456c"/><rect x="41" y="518.3" width="7" height="4.9" fill="url(#b4)" opacity="0.90" transform="translate(221)"/>
<rect x="272" y="518.3" width="10" height="4.9" fill="#777776"/><rect x="247" y="518.3" width="10" height="4.9" fill="url(#b1)" opacity="0.65" transform="translate(25)"/>
<rect x="287" y="518.3" width="5" height="4.9" fill="#3c4a6c"/><rect x="187" y="518.3" width="5" height="4.9" fill="url(#b7)" opacity="0.90" transform="translate(100)"/>
<rect x="309" y="518.3" width="6" height="4.9" fill="#727274"/><rect x="32" y="518.3" width="6" height="4.9" fill="url(#b5)" opacity="0.65" transform="translate(277)"/>
<rect x="328" y="518.3" width="11" height="4.9" fill="#6c6d72"/><rect x="230" y="518.3" width="11" height="4.9" fill="url(#b7)" opacity="0.65" transform="translate(98)"/>
<rect x="343" y="518.3" width="3" height="4.9" fill="#6c6d72"/><rect x="157" y="518.3" width="3" height="4.9" fill="url(#b5)" opacity="0.65" transform="translate(186)"/>
<rect x="348" y="518.3" width="8" height="4.9" fill="#35456c"/><rect x="333" y="518.3" width="8" height="4.9" fill="url(#b7)" opacity="0.90" transform="translate(15)"/>
<rect x="398" y="518.3" width="3" height="4.9" fill="#727274"/><rect x="272" y="518.3" width="3" height="4.9" fill="url(#b6)" opacity="0.65" transform="translate(126)"/>
<rect x="437" y="518.3" width="6" height="4.9" fill="#666970"/><rect x="417" y="518.3" width="6" height="4.9" fill="url(#b6)" opacity="0.65" transform="translate(20)"/>
<rect x="543" y="518.3" width="5" height="4.9" fill="#434e6c"/><rect x="526" y="518.3" width="5" height="4.9" fill="url(#b6)" opacity="0.90" transform="translate(17)"/>
<rect x="594" y="518.3" width="11" height="4.9" fill="#35456c"/><rect x="562" y="518.3" width="11" height="4.9" fill="url(#b7)" opacity="0.90" transform="translate(32)"/>
<rect x="616" y="518.3" width="7" height="4.9" fill="#49536c"/><rect x="485" y="518.3" width="7" height="4.9" fill="url(#b0)" opacity="0.90" transform="translate(131)"/>
<rect x="651" y="518.3" width="15" height="4.9" fill="#49536c"/><rect x="269" y="518.3" width="15" height="4.9" fill="url(#b3)" opacity="0.90" transform="translate(382)"/>
<rect x="710" y="518.3" width="14" height="4.9" fill="#35456c"/><rect x="400" y="518.3" width="14" height="4.9" fill="url(#b1)" opacity="0.90" transform="translate(310)"/>
<rect x="730" y="518.3" width="13" height="4.9" fill="#666970"/><rect x="545" y="518.3" width="13" height="4.9" fill="url(#b5)" opacity="0.65" transform="translate(185)"/>
<rect x="747" y="518.3" width="8" height="4.9" fill="#777776"/><rect x="576" y="518.3" width="8" height="4.9" fill="url(#b4)" opacity="0.65" transform="translate(171)"/>
<rect x="760" y="518.3" width="13" height="4.9" fill="#4f576c"/><rect x="626" y="518.3" width="13" height="4.9" fill="url(#b0)" opacity="0.65" transform="translate(134)"/>
<rect x="781" y="518.3" width="8" height="4.9" fill="#555c6d"/><rect x="640" y="518.3" width="8" height="4.9" fill="url(#b5)" opacity="0.65" transform="translate(141)"/>
<rect x="794" y="518.3" width="4" height="4.9" fill="#727274"/><rect x="793" y="518.3" width="4" height="4.9" fill="url(#b4)" opacity="0.65" transform="translate(1)"/>
<rect x="802" y="518.3" width="6" height="4.9" fill="#666970"/><rect x="790" y="518.3" width="6" height="4.9" fill="url(#b1)" opacity="0.65" transform="translate(12)"/>
<rect x="818" y="518.3" width="12" height="4.9" fill="#434e6c"/><rect x="764" y="518.3" width="12" height="4.9" fill="url(#b3)" opacity="0.90" transform="translate(54)"/>
<rect x="864" y="518.3" width="4" height="4.9" fill="#35456c"/><rect x="498" y="518.3" width="4" height="4.9" fill="url(#b7)" opacity="0.90" transform="translate(366)"/>
<rect x="931" y="518.3" width="5" height="4.9" fill="#61656f"/><rect x="734" y="518.3" width="5" height="4.9" fill="url(#b7)" opacity="0.65" transform="translate(197)"/>
<rect x="940" y="518.3" width="13" height="4.9" fill="#5b606e"/><rect x="720" y="518.3" width="13" height="4.9" fill="url(#b4)" opacity="0.65" transform="translate(220)"/>
<rect x="964" y="518.3" width="18" height="4.9" fill="#6c6d72"/><rect x="897" y="518.3" width="18" height="4.9" fill="url(#b7)" opacity="0.65" transform="translate(67)"/>
<rect x="992" y="518.3" width="10" height="4.9" fill="#35456c"/><rect x="899" y="518.3" width="10" height="4.9" fill="url(#b7)" opacity="0.90" transform="translate(93)"/>
<rect x="1017" y="518.3" width="8" height="4.9" fill="#666970"/><rect x="639" y="518.3" width="8" height="4.9" fill="url(#b0)" opacity="0.65" transform="translate(378)"/>
<rect x="1038" y="518.3" width="29" height="4.9" fill="#2d416d"/><rect x="684" y="518.3" width="29" height="4.9" fill="url(#b4)" opacity="0.90" transform="translate(354)"/>
<rect x="1070" y="518.3" width="5" height="4.9" fill="#555c6d"/><rect x="760" y="518.3" width="5" height="4.9" fill="url(#b2)" opacity="0.65" transform="translate(310)"/>
<rect x="1085" y="518.3" width="3" height="4.9" fill="#4f576c"/><rect x="918" y="518.3" width="3" height="4.9" fill="url(#b3)" opacity="0.65" transform="translate(167)"/>
<rect x="1104" y="518.3" width="17" height="4.9" fill="#4f576c"/><rect x="869" y="518.3" width="17" height="4.9" fill="url(#b5)" opacity="0.65" transform="translate(235)"/>
<rect x="1133" y="518.3" width="10" height="4.9" fill="#555c6d"/><rect x="828" y="518.3" width="10" height="4.9" fill="url(#b5)" opacity="0.65" transform="translate(305)"/>
<rect x="1169" y="518.3" width="3" height="4.9" fill="#4f576c"/><rect x="907" y="518.3" width="3" height="4.9" fill="url(#b1)" opacity="0.65" transform="translate(262)"/>
<rect x="1184" y="518.3" width="4" height="4.9" fill="#35456c"/><rect x="984" y="518.3" width="4" height="4.9" fill="url(#b3)" opacity="0.90" transform="translate(200)"/>
<rect x="1235" y="518.3" width="7" height="4.9" fill="#666970"/><rect x="1109" y="518.3" width="7" height="4.9" fill="url(#b2)" opacity="0.65" transform="translate(126)"/>
<rect x="1245" y="518.3" width="11" height="4.9" fill="#61656f"/><rect x="1212" y="518.3" width="11" height="4.9" fill="url(#b6)" opacity="0.65" transform="translate(33)"/>
<rect x="1259" y="518.3" width="2" height="4.9" fill="#4f576c"/><rect x="1013" y="518.3" width="2" height="4.9" fill="url(#b0)" opacity="0.65" transform="translate(246)"/>
<rect x="1283" y="518.3" width="10" height="4.9" fill="#4f576c"/><rect x="1201" y="518.3" width="10" height="4.9" fill="url(#b5)" opacity="0.65" transform="translate(82)"/>
<rect x="1304" y="518.3" width="13" height="4.9" fill="#777776"/><rect x="1251" y="518.3" width="13" height="4.9" fill="url(#b6)" opacity="0.65" transform="translate(53)"/>
<rect x="1322" y="518.3" width="20" height="4.9" fill="#434e6c"/><rect x="1187" y="518.3" width="20" height="4.9" fill="url(#b1)" opacity="0.90" transform="translate(135)"/>
<rect x="1385" y="518.3" width="6" height="4.9" fill="#434e6c"/><rect x="1279" y="518.3" width="6" height="4.9" fill="url(#b1)" opacity="0.90" transform="translate(106)"/>
<rect x="1402" y="518.3" width="8" height="4.9" fill="#3c4a6c"/><rect x="1187" y="518.3" width="8" height="4.9" fill="url(#b1)" opacity="0.90" transform="translate(215)"/>
<rect x="1426" y="518.3" width="19" height="4.9" fill="#434e6c"/><rect x="1063" y="518.3" width="19" height="4.9" fill="url(#b7)" opacity="0.90" transform="translate(363)"/>
<rect x="1457" y="518.3" width="24" height="4.9" fill="#4f576c"/><rect x="1369" y="518.3" width="24" height="4.9" fill="url(#b7)" opacity="0.65" transform="translate(88)"/>
<rect x="1465" y="518.3" width="3" height="4.9" fill="#727274"/><rect x="1397" y="518.3" width="3" height="4.9" fill="url(#b3)" opacity="0.65" transform="translate(68)"/>
<rect x="1511" y="518.3" width="15" height="4.9" fill="#5b606e"/><rect x="1276" y="518.3" width="15" height="4.9" fill="url(#b6)" opacity="0.65" transform="translate(235)"/>
<rect x="1532" y="518.3" width="8" height="4.9" fill="#777776"/><rect x="1150" y="518.3" width="8" height="4.9" fill="url(#b3)" opacity="0.65" transform="translate(382)"/>
<rect x="1545" y="518.3" width="7" height="4.9" fill="#666970"/><rect x="1395" y="518.3" width="7" height="4.9" fill="url(#b1)" opacity="0.65" transform="translate(150)"/>
<rect x="1555" y="518.3" width="12" height="4.9" fill="#61656f"/><rect x="1412" y="518.3" width="12" height="4.9" fill="url(#b4)" opacity="0.65" transform="translate(143)"/>
<rect x="1579" y="518.3" width="4" height="4.9" fill="#4f576c"/><rect x="1389" y="518.3" width="4" height="4.9" fill="url(#b4)" opacity="0.65" transform="translate(190)"/>
<rect x="1589" y="518.3" width="9" height="4.9" fill="#434e6c"/><rect x="1212" y="518.3" width="9" height="4.9" fill="url(#b4)" opacity="0.90" transform="translate(377)"/>
<rect x="1608" y="518.3" width="23" height="4.9" fill="#49536c"/><rect x="1507" y="518.3" width="23" height="4.9" fill="url(#b4)" opacity="0.90" transform="translate(101)"/>
<rect x="1635" y="518.3" width="18" height="4.9" fill="#777776"/><rect x="1509" y="518.3" width="18" height="4.9" fill="url(#b7)" opacity="0.65" transform="translate(126)"/>
<rect x="1658" y="518.3" width="3" height="4.9" fill="#666970"/><rect x="1533" y="518.3" width="3" height="4.9" fill="url(#b2)" opacity="0.65" transform="translate(125)"/>
<rect x="1665" y="518.3" width="12" height="4.9" fill="#4f576c"/><rect x="1587" y="518.3" width="12" height="4.9" fill="url(#b3)" opacity="0.65" transform="translate(78)"/>
<rect x="1680" y="518.3" width="11" height="4.9" fill="#4f576c"/><rect x="1384" y="518.3" width="11" height="4.9" fill="url(#b4)" opacity="0.65" transform="translate(296)"/>
<rect x="206" y="523.2" width="7" height="4.6" fill="#5b606e"/><rect x="39" y="523.2" width="7" height="4.6" fill="url(#b3)" opacity="0.65" transform="translate(167)"/>
<rect x="221" y="523.2" width="5" height="4.6" fill="#535a6d"/><rect x="19" y="523.2" width="5" height="4.6" fill="url(#b1)" opacity="0.65" transform="translate(202)"/>
<rect x="230" y="523.2" width="5" height="4.6" fill="#4a536c"/><rect x="105" y="523.2" width="5" height="4.6" fill="url(#b4)" opacity="0.90" transform="translate(125)"/>
<rect x="242" y="523.2" width="8" height="4.6" fill="#636670"/><rect x="-90" y="523.2" width="8" height="4.6" fill="url(#b3)" opacity="0.65" transform="translate(332)"/>
<rect x="262" y="523.2" width="7" height="4.6" fill="#4a536c"/><rect x="-72" y="523.2" width="7" height="4.6" fill="url(#b1)" opacity="0.90" transform="translate(334)"/>
<rect x="272" y="523.2" width="10" height="4.6" fill="#a59c74"/><rect x="254" y="523.2" width="10" height="4.6" fill="url(#y3)" opacity="0.45" transform="translate(18)"/>
<rect x="287" y="523.2" width="5" height="4.6" fill="#535a6d"/><rect x="285" y="523.2" width="5" height="4.6" fill="url(#b1)" opacity="0.65" transform="translate(2)"/>
<rect x="309" y="523.2" width="6" height="4.6" fill="#9c9576"/><rect x="191" y="523.2" width="6" height="4.6" fill="url(#y3)" opacity="0.45" transform="translate(118)"/>
<rect x="328" y="523.2" width="11" height="4.6" fill="#938e78"/><rect x="137" y="523.2" width="11" height="4.6" fill="url(#y3)" opacity="0.45" transform="translate(191)"/>
<rect x="343" y="523.2" width="3" height="4.6" fill="#938e78"/><rect x="193" y="523.2" width="3" height="4.6" fill="url(#y0)" opacity="0.45" transform="translate(150)"/>
<rect x="348" y="523.2" width="8" height="4.6" fill="#4a536c"/><rect x="287" y="523.2" width="8" height="4.6" fill="url(#b3)" opacity="0.90" transform="translate(61)"/>
<rect x="398" y="523.2" width="3" height="4.6" fill="#9c9576"/><rect x="301" y="523.2" width="3" height="4.6" fill="url(#y0)" opacity="0.45" transform="translate(97)"/>
<rect x="437" y="523.2" width="6" height="4.6" fill="#8b8778"/><rect x="399" y="523.2" width="6" height="4.6" fill="url(#y1)" opacity="0.45" transform="translate(38)"/>
<rect x="543" y="523.2" width="5" height="4.6" fill="#5b606e"/><rect x="281" y="523.2" width="5" height="4.6" fill="url(#b5)" opacity="0.65" transform="translate(262)"/>
<rect x="594" y="523.2" width="11" height="4.6" fill="#4a536c"/><rect x="365" y="523.2" width="11" height="4.6" fill="url(#b2)" opacity="0.90" transform="translate(229)"/>
<rect x="616" y="523.2" width="7" height="4.6" fill="#636670"/><rect x="220" y="523.2" width="7" height="4.6" fill="url(#b4)" opacity="0.65" transform="translate(396)"/>
<rect x="651" y="523.2" width="15" height="4.6" fill="#636670"/><rect x="597" y="523.2" width="15" height="4.6" fill="url(#b0)" opacity="0.65" transform="translate(54)"/>
<rect x="710" y="523.2" width="14" height="4.6" fill="#4a536c"/><rect x="599" y="523.2" width="14" height="4.6" fill="url(#b5)" opacity="0.90" transform="translate(111)"/>
<rect x="730" y="523.2" width="13" height="4.6" fill="#8b8778"/><rect x="542" y="523.2" width="13" height="4.6" fill="url(#y0)" opacity="0.45" transform="translate(188)"/>
<rect x="747" y="523.2" width="8" height="4.6" fill="#a59c74"/><rect x="675" y="523.2" width="8" height="4.6" fill="url(#y2)" opacity="0.45" transform="translate(72)"/>
<rect x="760" y="523.2" width="13" height="4.6" fill="#6b6d72"/><rect x="656" y="523.2" width="13" height="4.6" fill="url(#b0)" opacity="0.65" transform="translate(104)"/>
<rect x="781" y="523.2" width="8" height="4.6" fill="#727374"/><rect x="762" y="523.2" width="8" height="4.6" fill="url(#b4)" opacity="0.65" transform="translate(19)"/>
<rect x="794" y="523.2" width="4" height="4.6" fill="#9c9576"/><rect x="789" y="523.2" width="4" height="4.6" fill="url(#y1)" opacity="0.45" transform="translate(5)"/>
<rect x="802" y="523.2" width="6" height="4.6" fill="#8b8778"/><rect x="593" y="523.2" width="6" height="4.6" fill="url(#y2)" opacity="0.45" transform="translate(209)"/>
<rect x="818" y="523.2" width="12" height="4.6" fill="#5b606e"/><rect x="724" y="523.2" width="12" height="4.6" fill="url(#b5)" opacity="0.65" transform="translate(94)"/>
<rect x="864" y="523.2" width="4" height="4.6" fill="#4a536c"/><rect x="825" y="523.2" width="4" height="4.6" fill="url(#b4)" opacity="0.90" transform="translate(39)"/>
<rect x="931" y="523.2" width="5" height="4.6" fill="#828079"/><rect x="915" y="523.2" width="5" height="4.6" fill="url(#y1)" opacity="0.45" transform="translate(16)"/>
<rect x="940" y="523.2" width="13" height="4.6" fill="#7a7a78"/><rect x="660" y="523.2" width="13" height="4.6" fill="url(#b7)" opacity="0.65" transform="translate(280)"/>
<rect x="964" y="523.2" width="18" height="4.6" fill="#938e78"/><rect x="932" y="523.2" width="18" height="4.6" fill="url(#y3)" opacity="0.45" transform="translate(32)"/>
<rect x="992" y="523.2" width="10" height="4.6" fill="#4a536c"/><rect x="941" y="523.2" width="10" height="4.6" fill="url(#b6)" opacity="0.90" transform="translate(51)"/>
<rect x="1017" y="523.2" width="8" height="4.6" fill="#8b8778"/><rect x="678" y="523.2" width="8" height="4.6" fill="url(#y3)" opacity="0.45" transform="translate(339)"/>
<rect x="1038" y="523.2" width="29" height="4.6" fill="#414d6c"/><rect x="711" y="523.2" width="29" height="4.6" fill="url(#b2)" opacity="0.90" transform="translate(327)"/>
<rect x="1070" y="523.2" width="5" height="4.6" fill="#727374"/><rect x="736" y="523.2" width="5" height="4.6" fill="url(#b1)" opacity="0.65" transform="translate(334)"/>
<rect x="1085" y="523.2" width="3" height="4.6" fill="#6b6d72"/><rect x="882" y="523.2" width="3" height="4.6" fill="url(#b2)" opacity="0.65" transform="translate(203)"/>
<rect x="1104" y="523.2" width="17" height="4.6" fill="#6b6d72"/><rect x="895" y="523.2" width="17" height="4.6" fill="url(#b4)" opacity="0.65" transform="translate(209)"/>
<rect x="1133" y="523.2" width="10" height="4.6" fill="#727374"/><rect x="792" y="523.2" width="10" height="4.6" fill="url(#b4)" opacity="0.65" transform="translate(341)"/>
<rect x="1169" y="523.2" width="3" height="4.6" fill="#6b6d72"/><rect x="956" y="523.2" width="3" height="4.6" fill="url(#b4)" opacity="0.65" transform="translate(213)"/>
<rect x="1184" y="523.2" width="4" height="4.6" fill="#4a536c"/><rect x="1025" y="523.2" width="4" height="4.6" fill="url(#b0)" opacity="0.90" transform="translate(159)"/>
<rect x="1235" y="523.2" width="7" height="4.6" fill="#8b8778"/><rect x="1023" y="523.2" width="7" height="4.6" fill="url(#y2)" opacity="0.45" transform="translate(212)"/>
<rect x="1245" y="523.2" width="11" height="4.6" fill="#828079"/><rect x="1236" y="523.2" width="11" height="4.6" fill="url(#y3)" opacity="0.45" transform="translate(9)"/>
<rect x="1259" y="523.2" width="2" height="4.6" fill="#6b6d72"/><rect x="930" y="523.2" width="2" height="4.6" fill="url(#b5)" opacity="0.65" transform="translate(329)"/>
<rect x="1283" y="523.2" width="10" height="4.6" fill="#6b6d72"/><rect x="1083" y="523.2" width="10" height="4.6" fill="url(#b3)" opacity="0.65" transform="translate(200)"/>
<rect x="1304" y="523.2" width="13" height="4.6" fill="#a59c74"/><rect x="1200" y="523.2" width="13" height="4.6" fill="url(#y3)" opacity="0.45" transform="translate(104)"/>
<rect x="1322" y="523.2" width="20" height="4.6" fill="#5b606e"/><rect x="1100" y="523.2" width="20" height="4.6" fill="url(#b0)" opacity="0.65" transform="translate(222)"/>
<rect x="1385" y="523.2" width="6" height="4.6" fill="#5b606e"/><rect x="1169" y="523.2" width="6" height="4.6" fill="url(#b2)" opacity="0.65" transform="translate(216)"/>
<rect x="1402" y="523.2" width="8" height="4.6" fill="#535a6d"/><rect x="1356" y="523.2" width="8" height="4.6" fill="url(#b1)" opacity="0.65" transform="translate(46)"/>
<rect x="1426" y="523.2" width="19" height="4.6" fill="#5b606e"/><rect x="1131" y="523.2" width="19" height="4.6" fill="url(#b6)" opacity="0.65" transform="translate(295)"/>
<rect x="1457" y="523.2" width="24" height="4.6" fill="#6b6d72"/><rect x="1222" y="523.2" width="24" height="4.6" fill="url(#b5)" opacity="0.65" transform="translate(235)"/>
<rect x="1465" y="523.2" width="3" height="4.6" fill="#9c9576"/><rect x="1399" y="523.2" width="3" height="4.6" fill="url(#y1)" opacity="0.45" transform="translate(66)"/>
<rect x="1511" y="523.2" width="15" height="4.6" fill="#7a7a78"/><rect x="1485" y="523.2" width="15" height="4.6" fill="url(#b0)" opacity="0.65" transform="translate(26)"/>
<rect x="1532" y="523.2" width="8" height="4.6" fill="#a59c74"/><rect x="1204" y="523.2" width="8" height="4.6" fill="url(#y1)" opacity="0.45" transform="translate(328)"/>
<rect x="1545" y="523.2" width="7" height="4.6" fill="#8b8778"/><rect x="1500" y="523.2" width="7" height="4.6" fill="url(#y3)" opacity="0.45" transform="translate(45)"/>
<rect x="1555" y="523.2" width="12" height="4.6" fill="#828079"/><rect x="1178" y="523.2" width="12" height="4.6" fill="url(#y2)" opacity="0.45" transform="translate(377)"/>
<rect x="1579" y="523.2" width="4" height="4.6" fill="#6b6d72"/><rect x="1505" y="523.2" width="4" height="4.6" fill="url(#b2)" opacity="0.65" transform="translate(74)"/>
<rect x="1589" y="523.2" width="9" height="4.6" fill="#5b606e"/><rect x="1444" y="523.2" width="9" height="4.6" fill="url(#b5)" opacity="0.65" transform="translate(145)"/>
<rect x="1608" y="523.2" width="23" height="4.6" fill="#636670"/><rect x="1342" y="523.2" width="23" height="4.6" fill="url(#b2)" opacity="0.65" transform="translate(266)"/>
<rect x="1635" y="523.2" width="18" height="4.6" fill="#a59c74"/><rect x="1601" y="523.2" width="18" height="4.6" fill="url(#y1)" opacity="0.45" transform="translate(34)"/>
<rect x="1658" y="523.2" width="3" height="4.6" fill="#8b8778"/><rect x="1462" y="523.2" width="3" height="4.6" fill="url(#y0)" opacity="0.45" transform="translate(196)"/>
<rect x="1665" y="523.2" width="12" height="4.6" fill="#6b6d72"/><rect x="1280" y="523.2" width="12" height="4.6" fill="url(#b7)" opacity="0.65" transform="translate(385)"/>
<rect x="1680" y="523.2" width="11" height="4.6" fill="#6b6d72"/><rect x="1526" y="523.2" width="11" height="4.6" fill="url(#b3)" opacity="0.65" transform="translate(154)"/>
<rect x="206" y="527.8" width="7" height="5.2" fill="#7d7c78"/><rect x="184" y="527.8" width="7" height="5.2" fill="url(#y1)" opacity="0.45" transform="translate(22)"/>
<rect x="221" y="527.8" width="5" height="5.2" fill="#727274"/><rect x="60" y="527.8" width="5" height="5.2" fill="url(#b7)" opacity="0.65" transform="translate(161)"/>
<rect x="230" y="527.8" width="5" height="5.2" fill="#666970"/><rect x="-81" y="527.8" width="5" height="5.2" fill="url(#b0)" opacity="0.65" transform="translate(311)"/>
<rect x="242" y="527.8" width="8" height="5.2" fill="#888578"/><rect x="198" y="527.8" width="8" height="5.2" fill="url(#y3)" opacity="0.45" transform="translate(44)"/>
<rect x="262" y="527.8" width="7" height="5.2" fill="#666970"/><rect x="-65" y="527.8" width="7" height="5.2" fill="url(#b2)" opacity="0.65" transform="translate(327)"/>
<rect x="272" y="527.8" width="10" height="5.2" fill="#f3db42"/><rect x="-45" y="527.8" width="10" height="5.2" fill="url(#y1)" opacity="0.22" transform="translate(317)"/>
<rect x="287" y="527.8" width="5" height="5.2" fill="#727274"/><rect x="-27" y="527.8" width="5" height="5.2" fill="url(#b6)" opacity="0.65" transform="translate(314)"/>
<rect x="309" y="527.8" width="6" height="5.2" fill="#e5cf52"/><rect x="67" y="527.8" width="6" height="5.2" fill="url(#y1)" opacity="0.22" transform="translate(242)"/>
<rect x="328" y="527.8" width="11" height="5.2" fill="#d6c35d"/><rect x="39" y="527.8" width="11" height="5.2" fill="url(#y1)" opacity="0.22" transform="translate(289)"/>
<rect x="343" y="527.8" width="3" height="5.2" fill="#d6c35d"/><rect x="322" y="527.8" width="3" height="5.2" fill="url(#y1)" opacity="0.22" transform="translate(21)"/>
<rect x="348" y="527.8" width="8" height="5.2" fill="#666970"/><rect x="83" y="527.8" width="8" height="5.2" fill="url(#b6)" opacity="0.65" transform="translate(265)"/>
<rect x="398" y="527.8" width="3" height="5.2" fill="#e5cf52"/><rect x="202" y="527.8" width="3" height="5.2" fill="url(#y1)" opacity="0.22" transform="translate(196)"/>
<rect x="437" y="527.8" width="6" height="5.2" fill="#c8b866"/><rect x="374" y="527.8" width="6" height="5.2" fill="url(#y2)" opacity="0.45" transform="translate(63)"/>
<rect x="543" y="527.8" width="5" height="5.2" fill="#7d7c78"/><rect x="417" y="527.8" width="5" height="5.2" fill="url(#y1)" opacity="0.45" transform="translate(126)"/>
<rect x="594" y="527.8" width="11" height="5.2" fill="#666970"/><rect x="573" y="527.8" width="11" height="5.2" fill="url(#b3)" opacity="0.65" transform="translate(21)"/>
<rect x="616" y="527.8" width="7" height="5.2" fill="#888578"/><rect x="275" y="527.8" width="7" height="5.2" fill="url(#y0)" opacity="0.45" transform="translate(341)"/>
<rect x="651" y="527.8" width="15" height="5.2" fill="#888578"/><rect x="591" y="527.8" width="15" height="5.2" fill="url(#y2)" opacity="0.45" transform="translate(60)"/>
<rect x="710" y="527.8" width="14" height="5.2" fill="#666970"/><rect x="404" y="527.8" width="14" height="5.2" fill="url(#b6)" opacity="0.65" transform="translate(306)"/>
<rect x="730" y="527.8" width="13" height="5.2" fill="#c8b866"/><rect x="449" y="527.8" width="13" height="5.2" fill="url(#y3)" opacity="0.45" transform="translate(281)"/>
<rect x="747" y="527.8" width="8" height="5.2" fill="#f3db42"/><rect x="415" y="527.8" width="8" height="5.2" fill="url(#y2)" opacity="0.22" transform="translate(332)"/>
<rect x="760" y="527.8" width="13" height="5.2" fill="#948e77"/><rect x="603" y="527.8" width="13" height="5.2" fill="url(#y3)" opacity="0.45" transform="translate(157)"/>
<rect x="781" y="527.8" width="8" height="5.2" fill="#a19975"/><rect x="564" y="527.8" width="8" height="5.2" fill="url(#y1)" opacity="0.45" transform="translate(217)"/>
<rect x="794" y="527.8" width="4" height="5.2" fill="#e5cf52"/><rect x="457" y="527.8" width="4" height="5.2" fill="url(#y3)" opacity="0.22" transform="translate(337)"/>
<rect x="802" y="527.8" width="6" height="5.2" fill="#c8b866"/><rect x="574" y="527.8" width="6" height="5.2" fill="url(#y2)" opacity="0.45" transform="translate(228)"/>
<rect x="818" y="527.8" width="12" height="5.2" fill="#7d7c78"/><rect x="727" y="527.8" width="12" height="5.2" fill="url(#y3)" opacity="0.45" transform="translate(91)"/>
<rect x="864" y="527.8" width="4" height="5.2" fill="#666970"/><rect x="863" y="527.8" width="4" height="5.2" fill="url(#b0)" opacity="0.65" transform="translate(1)"/>
<rect x="931" y="527.8" width="5" height="5.2" fill="#bcae6c"/><rect x="693" y="527.8" width="5" height="5.2" fill="url(#y3)" opacity="0.45" transform="translate(238)"/>
<rect x="940" y="527.8" width="13" height="5.2" fill="#aea371"/><rect x="712" y="527.8" width="13" height="5.2" fill="url(#y1)" opacity="0.45" transform="translate(228)"/>
<rect x="964" y="527.8" width="18" height="5.2" fill="#d6c35d"/><rect x="873" y="527.8" width="18" height="5.2" fill="url(#y3)" opacity="0.22" transform="translate(91)"/>
<rect x="992" y="527.8" width="10" height="5.2" fill="#666970"/><rect x="788" y="527.8" width="10" height="5.2" fill="url(#b7)" opacity="0.65" transform="translate(204)"/>
<rect x="1017" y="527.8" width="8" height="5.2" fill="#c8b866"/><rect x="983" y="527.8" width="8" height="5.2" fill="url(#y0)" opacity="0.45" transform="translate(34)"/>
<rect x="1038" y="527.8" width="29" height="5.2" fill="#5b606e"/><rect x="855" y="527.8" width="29" height="5.2" fill="url(#b2)" opacity="0.65" transform="translate(183)"/>
<rect x="1070" y="527.8" width="5" height="5.2" fill="#a19975"/><rect x="883" y="527.8" width="5" height="5.2" fill="url(#y3)" opacity="0.45" transform="translate(187)"/>
<rect x="1085" y="527.8" width="3" height="5.2" fill="#948e77"/><rect x="859" y="527.8" width="3" height="5.2" fill="url(#y0)" opacity="0.45" transform="translate(226)"/>
<rect x="1104" y="527.8" width="17" height="5.2" fill="#948e77"/><rect x="1084" y="527.8" width="17" height="5.2" fill="url(#y0)" opacity="0.45" transform="translate(20)"/>
<rect x="1133" y="527.8" width="10" height="5.2" fill="#a19975"/><rect x="1091" y="527.8" width="10" height="5.2" fill="url(#y1)" opacity="0.45" transform="translate(42)"/>
<rect x="1169" y="527.8" width="3" height="5.2" fill="#948e77"/><rect x="801" y="527.8" width="3" height="5.2" fill="url(#y2)" opacity="0.45" transform="translate(368)"/>
<rect x="1184" y="527.8" width="4" height="5.2" fill="#666970"/><rect x="1157" y="527.8" width="4" height="5.2" fill="url(#b1)" opacity="0.65" transform="translate(27)"/>
<rect x="1235" y="527.8" width="7" height="5.2" fill="#c8b866"/><rect x="901" y="527.8" width="7" height="5.2" fill="url(#y3)" opacity="0.45" transform="translate(334)"/>
<rect x="1245" y="527.8" width="11" height="5.2" fill="#bcae6c"/><rect x="1232" y="527.8" width="11" height="5.2" fill="url(#y1)" opacity="0.45" transform="translate(13)"/>
<rect x="1259" y="527.8" width="2" height="5.2" fill="#948e77"/><rect x="945" y="527.8" width="2" height="5.2" fill="url(#y0)" opacity="0.45" transform="translate(314)"/>
<rect x="1283" y="527.8" width="10" height="5.2" fill="#948e77"/><rect x="1184" y="527.8" width="10" height="5.2" fill="url(#y0)" opacity="0.45" transform="translate(99)"/>
<rect x="1304" y="527.8" width="13" height="5.2" fill="#f3db42"/><rect x="1053" y="527.8" width="13" height="5.2" fill="url(#y1)" opacity="0.22" transform="translate(251)"/>
<rect x="1322" y="527.8" width="20" height="5.2" fill="#7d7c78"/><rect x="1238" y="527.8" width="20" height="5.2" fill="url(#y2)" opacity="0.45" transform="translate(84)"/>
<rect x="1385" y="527.8" width="6" height="5.2" fill="#7d7c78"/><rect x="1352" y="527.8" width="6" height="5.2" fill="url(#y1)" opacity="0.45" transform="translate(33)"/>
<rect x="1402" y="527.8" width="8" height="5.2" fill="#727274"/><rect x="1090" y="527.8" width="8" height="5.2" fill="url(#b5)" opacity="0.65" transform="translate(312)"/>
<rect x="1426" y="527.8" width="19" height="5.2" fill="#7d7c78"/><rect x="1345" y="527.8" width="19" height="5.2" fill="url(#y2)" opacity="0.45" transform="translate(81)"/>
<rect x="1457" y="527.8" width="24" height="5.2" fill="#948e77"/><rect x="1143" y="527.8" width="24" height="5.2" fill="url(#y2)" opacity="0.45" transform="translate(314)"/>
<rect x="1465" y="527.8" width="3" height="5.2" fill="#e5cf52"/><rect x="1232" y="527.8" width="3" height="5.2" fill="url(#y2)" opacity="0.22" transform="translate(233)"/>
<rect x="1511" y="527.8" width="15" height="5.2" fill="#aea371"/><rect x="1381" y="527.8" width="15" height="5.2" fill="url(#y1)" opacity="0.45" transform="translate(130)"/>
<rect x="1532" y="527.8" width="8" height="5.2" fill="#f3db42"/><rect x="1426" y="527.8" width="8" height="5.2" fill="url(#y3)" opacity="0.22" transform="translate(106)"/>
<rect x="1545" y="527.8" width="7" height="5.2" fill="#c8b866"/><rect x="1230" y="527.8" width="7" height="5.2" fill="url(#y2)" opacity="0.45" transform="translate(315)"/>
<rect x="1555" y="527.8" width="12" height="5.2" fill="#bcae6c"/><rect x="1392" y="527.8" width="12" height="5.2" fill="url(#y1)" opacity="0.45" transform="translate(163)"/>
<rect x="1579" y="527.8" width="4" height="5.2" fill="#948e77"/><rect x="1561" y="527.8" width="4" height="5.2" fill="url(#y2)" opacity="0.45" transform="translate(18)"/>
<rect x="1589" y="527.8" width="9" height="5.2" fill="#7d7c78"/><rect x="1496" y="527.8" width="9" height="5.2" fill="url(#y1)" opacity="0.45" transform="translate(93)"/>
<rect x="1608" y="527.8" width="23" height="5.2" fill="#888578"/><rect x="1526" y="527.8" width="23" height="5.2" fill="url(#y3)" opacity="0.45" transform="translate(82)"/>
<rect x="1635" y="527.8" width="18" height="5.2" fill="#f3db42"/><rect x="1288" y="527.8" width="18" height="5.2" fill="url(#y2)" opacity="0.22" transform="translate(347)"/>
<rect x="1658" y="527.8" width="3" height="5.2" fill="#c8b866"/><rect x="1466" y="527.8" width="3" height="5.2" fill="url(#y2)" opacity="0.45" transform="translate(192)"/>
<rect x="1665" y="527.8" width="12" height="5.2" fill="#948e77"/><rect x="1530" y="527.8" width="12" height="5.2" fill="url(#y1)" opacity="0.45" transform="translate(135)"/>
<rect x="1680" y="527.8" width="11" height="5.2" fill="#948e77"/><rect x="1287" y="527.8" width="11" height="5.2" fill="url(#y0)" opacity="0.45" transform="translate(393)"/>
<rect x="241" y="903.5" width="9" height="4.9" fill="#7d7c78"/><rect x="-84" y="903.5" width="9" height="4.9" fill="url(#y0)" opacity="0.45" transform="translate(325)"/>
<rect x="280" y="903.5" width="13" height="4.9" fill="#bcae6c"/><rect x="49" y="903.5" width="13" height="4.9" fill="url(#y2)" opacity="0.45" transform="translate(231)"/>
<rect x="306" y="903.5" width="6" height="4.9" fill="#aea371"/><rect x="177" y="903.5" width="6" height="4.9" fill="url(#y0)" opacity="0.45" transform="translate(129)"/>
<rect x="313" y="903.5" width="24" height="4.9" fill="#666970"/><rect x="-64" y="903.5" width="24" height="4.9" fill="url(#b6)" opacity="0.65" transform="translate(377)"/>
<rect x="453" y="903.5" width="12" height="4.9" fill="#aea371"/><rect x="318" y="903.5" width="12" height="4.9" fill="url(#y2)" opacity="0.45" transform="translate(135)"/>
<rect x="657" y="903.5" width="19" height="4.9" fill="#666970"/><rect x="469" y="903.5" width="19" height="4.9" fill="url(#b6)" opacity="0.65" transform="translate(188)"/>
<rect x="701" y="903.5" width="32" height="4.9" fill="#5b606e"/><rect x="517" y="903.5" width="32" height="4.9" fill="url(#b2)" opacity="0.65" transform="translate(184)"/>
<rect x="1540" y="903.5" width="20" height="4.9" fill="#727274"/><rect x="1149" y="903.5" width="20" height="4.9" fill="url(#b5)" opacity="0.65" transform="translate(391)"/>
<rect x="1580" y="903.5" width="20" height="4.9" fill="#666970"/><rect x="1354" y="903.5" width="20" height="4.9" fill="url(#b1)" opacity="0.65" transform="translate(226)"/>
<rect x="257" y="908.4" width="4" height="4.9" fill="#bcae6c"/><rect x="167" y="908.4" width="4" height="4.9" fill="url(#y1)" opacity="0.45" transform="translate(90)"/>
<rect x="329" y="908.4" width="8" height="4.9" fill="#727274"/><rect x="178" y="908.4" width="8" height="4.9" fill="url(#b0)" opacity="0.65" transform="translate(151)"/>
<rect x="395" y="908.4" width="15" height="4.9" fill="#666970"/><rect x="237" y="908.4" width="15" height="4.9" fill="url(#b4)" opacity="0.65" transform="translate(158)"/>
<rect x="492" y="908.4" width="5" height="4.9" fill="#aea371"/><rect x="117" y="908.4" width="5" height="4.9" fill="url(#y2)" opacity="0.45" transform="translate(375)"/>
<rect x="1092" y="908.4" width="27" height="4.9" fill="#5b606e"/><rect x="710" y="908.4" width="27" height="4.9" fill="url(#b0)" opacity="0.65" transform="translate(382)"/>
<rect x="265" y="913.3" width="7" height="4.7" fill="#4a536c"/><rect x="152" y="913.3" width="7" height="4.7" fill="url(#b0)" opacity="0.90" transform="translate(113)"/>
<rect x="265" y="918" width="7" height="4.5" fill="#4a536c"/><rect x="117" y="918" width="7" height="4.5" fill="url(#b2)" opacity="0.90" transform="translate(148)"/>
<rect x="265" y="922.5" width="7" height="4.5" fill="#4a536c"/><rect x="52" y="922.5" width="7" height="4.5" fill="url(#b6)" opacity="0.90" transform="translate(213)"/>
<rect x="300" y="913.3" width="4" height="4.7" fill="#545a6d"/><rect x="276" y="913.3" width="4" height="4.7" fill="url(#b5)" opacity="0.90" transform="translate(24)"/>
<rect x="300" y="918" width="4" height="4.5" fill="#545a6d"/><rect x="50" y="918" width="4" height="4.5" fill="url(#b2)" opacity="0.90" transform="translate(250)"/>
<rect x="300" y="922.5" width="4" height="4.5" fill="#545a6d"/><rect x="-13" y="922.5" width="4" height="4.5" fill="url(#b3)" opacity="0.90" transform="translate(313)"/>
<rect x="315" y="913.3" width="5" height="4.7" fill="#4a536c"/><rect x="304" y="913.3" width="5" height="4.7" fill="url(#b0)" opacity="0.90" transform="translate(11)"/>
<rect x="315" y="918" width="5" height="4.5" fill="#4a536c"/><rect x="314" y="918" width="5" height="4.5" fill="url(#b0)" opacity="0.90" transform="translate(1)"/>
<rect x="315" y="922.5" width="5" height="4.5" fill="#4a536c"/><rect x="160" y="922.5" width="5" height="4.5" fill="url(#b5)" opacity="0.90" transform="translate(155)"/>
<rect x="430" y="913.3" width="7" height="4.7" fill="#727274"/><rect x="163" y="913.3" width="7" height="4.7" fill="url(#b1)" opacity="0.90" transform="translate(267)"/>
<rect x="430" y="918" width="7" height="4.5" fill="#727274"/><rect x="157" y="918" width="7" height="4.5" fill="url(#b5)" opacity="0.90" transform="translate(273)"/>
<rect x="430" y="922.5" width="7" height="4.5" fill="#727274"/><rect x="219" y="922.5" width="7" height="4.5" fill="url(#b3)" opacity="0.90" transform="translate(211)"/>
<rect x="519" y="913.3" width="5" height="4.7" fill="#6b6d72"/><rect x="218" y="913.3" width="5" height="4.7" fill="url(#b4)" opacity="0.90" transform="translate(301)"/>
<rect x="519" y="918" width="5" height="4.5" fill="#6b6d72"/><rect x="415" y="918" width="5" height="4.5" fill="url(#b2)" opacity="0.90" transform="translate(104)"/>
<rect x="519" y="922.5" width="5" height="4.5" fill="#6b6d72"/><rect x="200" y="922.5" width="5" height="4.5" fill="url(#b5)" opacity="0.90" transform="translate(319)"/>
<rect x="535" y="913.3" width="3" height="4.7" fill="#62656f"/><rect x="454" y="913.3" width="3" height="4.7" fill="url(#b7)" opacity="0.90" transform="translate(81)"/>
<rect x="535" y="918" width="3" height="4.5" fill="#62656f"/><rect x="528" y="918" width="3" height="4.5" fill="url(#b2)" opacity="0.90" transform="translate(7)"/>
<rect x="535" y="922.5" width="3" height="4.5" fill="#62656f"/><rect x="173" y="922.5" width="3" height="4.5" fill="url(#b3)" opacity="0.90" transform="translate(362)"/>
<rect x="760" y="913.3" width="13" height="4.7" fill="#6b6d72"/><rect x="530" y="913.3" width="13" height="4.7" fill="url(#b2)" opacity="0.90" transform="translate(230)"/>
<rect x="760" y="918" width="13" height="4.5" fill="#6b6d72"/><rect x="728" y="918" width="13" height="4.5" fill="url(#b1)" opacity="0.90" transform="translate(32)"/>
<rect x="760" y="922.5" width="13" height="4.5" fill="#6b6d72"/><rect x="420" y="922.5" width="13" height="4.5" fill="url(#b2)" opacity="0.90" transform="translate(340)"/>
<rect x="791" y="913.3" width="14" height="4.7" fill="#737475"/><rect x="586" y="913.3" width="14" height="4.7" fill="url(#b4)" opacity="0.90" transform="translate(205)"/>
<rect x="791" y="918" width="14" height="4.5" fill="#737475"/><rect x="786" y="918" width="14" height="4.5" fill="url(#b4)" opacity="0.90" transform="translate(5)"/>
<rect x="791" y="922.5" width="14" height="4.5" fill="#737475"/><rect x="461" y="922.5" width="14" height="4.5" fill="url(#b0)" opacity="0.90" transform="translate(330)"/>
<rect x="823" y="913.3" width="3" height="4.7" fill="#5b606e"/><rect x="519" y="913.3" width="3" height="4.7" fill="url(#b5)" opacity="0.90" transform="translate(304)"/>
<rect x="823" y="918" width="3" height="4.5" fill="#5b606e"/><rect x="515" y="918" width="3" height="4.5" fill="url(#b7)" opacity="0.90" transform="translate(308)"/>
<rect x="823" y="922.5" width="3" height="4.5" fill="#5b606e"/><rect x="696" y="922.5" width="3" height="4.5" fill="url(#b7)" opacity="0.90" transform="translate(127)"/>
<rect x="878" y="913.3" width="23" height="4.7" fill="#888578"/><rect x="878" y="913.3" width="23" height="4.7" fill="url(#b2)" opacity="0.90" transform="translate(0)"/>
<rect x="878" y="918" width="23" height="4.5" fill="#888578"/><rect x="847" y="918" width="23" height="4.5" fill="url(#b0)" opacity="0.90" transform="translate(31)"/>
<rect x="878" y="922.5" width="23" height="4.5" fill="#888578"/><rect x="671" y="922.5" width="23" height="4.5" fill="url(#b0)" opacity="0.90" transform="translate(207)"/>
<rect x="916" y="913.3" width="15" height="4.7" fill="#4f576c"/><rect x="795" y="913.3" width="15" height="4.7" fill="url(#b2)" opacity="0.90" transform="translate(121)"/>
<rect x="916" y="918" width="15" height="4.5" fill="#4f576c"/><rect x="887" y="918" width="15" height="4.5" fill="url(#b2)" opacity="0.90" transform="translate(29)"/>
<rect x="916" y="922.5" width="15" height="4.5" fill="#4f576c"/><rect x="910" y="922.5" width="15" height="4.5" fill="url(#b1)" opacity="0.90" transform="translate(6)"/>
<rect x="1401" y="913.3" width="13" height="4.7" fill="#4f576c"/><rect x="1329" y="913.3" width="13" height="4.7" fill="url(#b3)" opacity="0.90" transform="translate(72)"/>
<rect x="1401" y="918" width="13" height="4.5" fill="#4f576c"/><rect x="1299" y="918" width="13" height="4.5" fill="url(#b6)" opacity="0.90" transform="translate(102)"/>
<rect x="1401" y="922.5" width="13" height="4.5" fill="#4f576c"/><rect x="1088" y="922.5" width="13" height="4.5" fill="url(#b6)" opacity="0.90" transform="translate(313)"/>
<rect x="1545" y="913.3" width="9" height="4.7" fill="#737475"/><rect x="1285" y="913.3" width="9" height="4.7" fill="url(#b2)" opacity="0.90" transform="translate(260)"/>
<rect x="1545" y="918" width="9" height="4.5" fill="#737475"/><rect x="1513" y="918" width="9" height="4.5" fill="url(#b4)" opacity="0.90" transform="translate(32)"/>
<rect x="1545" y="922.5" width="9" height="4.5" fill="#737475"/><rect x="1225" y="922.5" width="9" height="4.5" fill="url(#b4)" opacity="0.90" transform="translate(320)"/>
<rect x="1564" y="913.3" width="13" height="4.7" fill="#6b6d72"/><rect x="1194" y="913.3" width="13" height="4.7" fill="url(#b0)" opacity="0.90" transform="translate(370)"/>
<rect x="1564" y="918" width="13" height="4.5" fill="#6b6d72"/><rect x="1198" y="918" width="13" height="4.5" fill="url(#b7)" opacity="0.90" transform="translate(366)"/>
<rect x="1564" y="922.5" width="13" height="4.5" fill="#6b6d72"/><rect x="1372" y="922.5" width="13" height="4.5" fill="url(#b0)" opacity="0.90" transform="translate(192)"/>
<rect x="1585" y="913.3" width="25" height="4.7" fill="#6b6d72"/><rect x="1204" y="913.3" width="25" height="4.7" fill="url(#b6)" opacity="0.90" transform="translate(381)"/>
<rect x="1585" y="918" width="25" height="4.5" fill="#6b6d72"/><rect x="1544" y="918" width="25" height="4.5" fill="url(#b7)" opacity="0.90" transform="translate(41)"/>
<rect x="1585" y="922.5" width="25" height="4.5" fill="#6b6d72"/><rect x="1496" y="922.5" width="25" height="4.5" fill="url(#b7)" opacity="0.90" transform="translate(89)"/>
<rect x="1648" y="913.3" width="29" height="4.7" fill="#4f576c"/><rect x="1595" y="913.3" width="29" height="4.7" fill="url(#b3)" opacity="0.90" transform="translate(53)"/>
<rect x="1648" y="918" width="29" height="4.5" fill="#4f576c"/><rect x="1530" y="918" width="29" height="4.5" fill="url(#b4)" opacity="0.90" transform="translate(118)"/>
<rect x="1648" y="922.5" width="29" height="4.5" fill="#4f576c"/><rect x="1585" y="922.5" width="29" height="4.5" fill="url(#b0)" opacity="0.90" transform="translate(63)"/>
<rect x="1180" y="984" width="83" height="5.4" fill="#3b496c"/><rect x="797" y="984" width="83" height="5.4" fill="url(#b5)" opacity="0.90" transform="translate(383)"/>
<rect x="1180" y="989.4" width="83" height="4.8" fill="#3b496c"/><rect x="816" y="989.4" width="83" height="4.8" fill="url(#b4)" opacity="0.90" transform="translate(364)"/>
<rect x="68.2" y="118.8" width="1488" height="109.2" fill="url(#v0)" opacity="0.80" transform="translate(136)"/>
<rect x="-78.8" y="237.9" width="1488" height="28.3" fill="url(#v2)" opacity="0.80" transform="translate(283)"/>
<rect x="-18.8" y="318.8" width="1488" height="57.2" fill="url(#v2)" opacity="0.80" transform="translate(223)"/>
<rect x="-62.8" y="499" width="1488" height="15" fill="url(#v2)" opacity="0.60" transform="translate(267)"/>
<rect x="53.2" y="589.6" width="1488" height="33.3" fill="url(#v1)" opacity="0.70" transform="translate(151)"/>
<rect x="93.2" y="694.2" width="1488" height="52.4" fill="url(#v2)" opacity="0.70" transform="translate(111)"/>
<rect x="-54.8" y="813.1" width="1488" height="9.7" fill="url(#v0)" opacity="0.50" transform="translate(259)"/>
<rect x="118.2" y="851" width="1488" height="152" fill="url(#v0)" opacity="0.70" transform="translate(86)"/>
<rect x="84.2" y="1027" width="1488" height="31.6" fill="url(#v1)" opacity="0.80" transform="translate(120)"/>
<rect x="293" y="622.9" width="1.2" height="9.8" fill="#003070"/>
<rect x="313" y="622.9" width="1.2" height="9.8" fill="#003070"/>
<rect x="412" y="622.9" width="1.2" height="9.8" fill="#003070"/>
<rect x="432" y="622.9" width="1.2" height="9.8" fill="#003070"/>
<rect x="531" y="622.9" width="1.2" height="9.8" fill="#003070"/>
<rect x="551" y="622.9" width="1.2" height="9.8" fill="#003070"/>
<rect x="571" y="622.9" width="1.2" height="9.8" fill="#003070"/>
<rect x="650" y="622.9" width="1.2" height="9.8" fill="#003070"/>
<rect x="670" y="622.9" width="1.2" height="9.8" fill="#003070"/>
<rect x="690" y="622.9" width="1.2" height="9.8" fill="#003070"/>
<rect x="789" y="622.9" width="1.2" height="9.8" fill="#003070"/>
<rect x="809" y="622.9" width="1.2" height="9.8" fill="#003070"/>
<rect x="908" y="622.9" width="1.2" height="9.8" fill="#003070"/>
<rect x="928" y="622.9" width="1.2" height="9.8" fill="#003070"/>
<rect x="1027" y="622.9" width="1.2" height="9.8" fill="#003070"/>
<rect x="1047" y="622.9" width="1.2" height="9.8" fill="#003070"/>
<rect x="1067" y="622.9" width="1.2" height="9.8" fill="#003070"/>
<rect x="1146" y="622.9" width="1.2" height="9.8" fill="#003070"/>
<rect x="1166" y="622.9" width="1.2" height="9.8" fill="#003070"/>
<rect x="1186" y="622.9" width="1.2" height="9.8" fill="#003070"/>
<rect x="1285" y="622.9" width="1.2" height="9.8" fill="#003070"/>
<rect x="1305" y="622.9" width="1.2" height="9.8" fill="#003070"/>
<rect x="1404" y="622.9" width="1.2" height="9.8" fill="#003070"/>
<rect x="1424" y="622.9" width="1.2" height="9.8" fill="#003070"/>
<rect x="1523" y="622.9" width="1.2" height="9.8" fill="#003070"/>
<rect x="1543" y="622.9" width="1.2" height="9.8" fill="#003070"/>
<rect x="1563" y="622.9" width="1.2" height="9.8" fill="#003070"/>
<rect x="1662" y="622.9" width="1.2" height="9.8" fill="#003070"/>
<rect x="1682" y="622.9" width="1.2" height="9.8" fill="#003070"/>
<rect x="210" y="642" width="10" height="33.2" fill="#f3db42"/>
<rect x="210" y="675.2" width="10" height="4.9" fill="#a19975"/>
<rect x="236" y="642" width="2" height="33.2" fill="#f3db42"/>
<rect x="236" y="675.2" width="2" height="4.9" fill="#a19975"/>
<rect x="247" y="642" width="2" height="33.2" fill="#f3db42"/>
<rect x="247" y="675.2" width="2" height="4.9" fill="#a19975"/>
<rect x="253" y="642" width="2" height="33.2" fill="#f3db42"/>
<rect x="253" y="675.2" width="2" height="4.9" fill="#a19975"/>
<rect x="279" y="642" width="2" height="33.2" fill="#f3db42"/>
<rect x="279" y="675.2" width="2" height="4.9" fill="#a19975"/>
<rect x="308" y="642" width="2" height="33.2" fill="#f3db42"/>
<rect x="308" y="675.2" width="2" height="4.9" fill="#a19975"/>
<rect x="312" y="642" width="7" height="33.2" fill="#f3db42"/>
<rect x="312" y="675.2" width="7" height="4.9" fill="#a19975"/>
<rect x="336" y="642" width="2" height="33.2" fill="#f3db42"/>
<rect x="336" y="675.2" width="2" height="4.9" fill="#a19975"/>
<rect x="347" y="642" width="2" height="33.2" fill="#f3db42"/>
<rect x="347" y="675.2" width="2" height="4.9" fill="#a19975"/>
<rect x="353" y="642" width="2" height="33.2" fill="#f3db42"/>
<rect x="353" y="675.2" width="2" height="4.9" fill="#a19975"/>
<rect x="362" y="642" width="2" height="33.2" fill="#f3db42"/>
<rect x="362" y="675.2" width="2" height="4.9" fill="#a19975"/>
<rect x="368" y="642" width="2" height="33.2" fill="#f3db42"/>
<rect x="368" y="675.2" width="2" height="4.9" fill="#a19975"/>
<rect x="393" y="642" width="2" height="33.2" fill="#f3db42"/>
<rect x="393" y="675.2" width="2" height="4.9" fill="#a19975"/>
<rect x="409" y="642" width="2" height="33.2" fill="#f3db42"/>
<rect x="409" y="675.2" width="2" height="4.9" fill="#a19975"/>
<rect x="413" y="642" width="2" height="33.2" fill="#f3db42"/>
<rect x="413" y="675.2" width="2" height="4.9" fill="#a19975"/>
<rect x="440" y="642" width="2" height="33.2" fill="#f3db42"/>
<rect x="440" y="675.2" width="2" height="4.9" fill="#a19975"/>
<rect x="461" y="642" width="2" height="33.2" fill="#f3db42"/>
<rect x="461" y="675.2" width="2" height="4.9" fill="#a19975"/>
<rect x="469" y="642" width="2" height="33.2" fill="#f3db42"/>
<rect x="469" y="675.2" width="2" height="4.9" fill="#a19975"/>
<rect x="491" y="642" width="2" height="33.2" fill="#f3db42"/>
<rect x="491" y="675.2" width="2" height="4.9" fill="#a19975"/>
<rect x="507" y="642" width="2" height="33.2" fill="#f3db42"/>
<rect x="507" y="675.2" width="2" height="4.9" fill="#a19975"/>
<rect x="512" y="642" width="2" height="33.2" fill="#f3db42"/>
<rect x="512" y="675.2" width="2" height="4.9" fill="#a19975"/>
<rect x="539" y="642" width="2" height="33.2" fill="#f3db42"/>
<rect x="539" y="675.2" width="2" height="4.9" fill="#a19975"/>
<rect x="548" y="642" width="2" height="33.2" fill="#f3db42"/>
<rect x="548" y="675.2" width="2" height="4.9" fill="#a19975"/>
<rect x="589.5" y="642" width="2" height="33.2" fill="#f3db42"/>
<rect x="589.5" y="675.2" width="2" height="4.9" fill="#a19975"/>
<rect x="593" y="642" width="2" height="33.2" fill="#f3db42"/>
<rect x="593" y="675.2" width="2" height="4.9" fill="#a19975"/>
<rect x="606" y="642" width="2" height="33.2" fill="#f3db42"/>
<rect x="606" y="675.2" width="2" height="4.9" fill="#a19975"/>
<rect x="645" y="642" width="4" height="33.2" fill="#f3db42"/>
<rect x="645" y="675.2" width="4" height="4.9" fill="#a19975"/>
<rect x="706" y="642" width="2" height="33.2" fill="#f3db42"/>
<rect x="706" y="675.2" width="2" height="4.9" fill="#a19975"/>
<rect x="738" y="642" width="2" height="33.2" fill="#f3db42"/>
<rect x="738" y="675.2" width="2" height="4.9" fill="#a19975"/>
<rect x="740" y="642" width="2" height="33.2" fill="#f3db42"/>
<rect x="740" y="675.2" width="2" height="4.9" fill="#a19975"/>
<rect x="762" y="642" width="2" height="33.2" fill="#f3db42"/>
<rect x="762" y="675.2" width="2" height="4.9" fill="#a19975"/>
<rect x="790" y="642" width="2" height="33.2" fill="#f3db42"/>
<rect x="790" y="675.2" width="2" height="4.9" fill="#a19975"/>
<rect x="800" y="642" width="2" height="33.2" fill="#f3db42"/>
<rect x="800" y="675.2" width="2" height="4.9" fill="#a19975"/>
<rect x="805" y="642" width="2" height="33.2" fill="#f3db42"/>
<rect x="805" y="675.2" width="2" height="4.9" fill="#a19975"/>
<rect x="808" y="642" width="2" height="33.2" fill="#f3db42"/>
<rect x="808" y="675.2" width="2" height="4.9" fill="#a19975"/>
<rect x="815" y="642" width="5" height="33.2" fill="#f3db42"/>
<rect x="815" y="675.2" width="5" height="4.9" fill="#a19975"/>
<rect x="836" y="642" width="2" height="33.2" fill="#f3db42"/>
<rect x="836" y="675.2" width="2" height="4.9" fill="#a19975"/>
<rect x="839" y="642" width="2" height="33.2" fill="#f3db42"/>
<rect x="839" y="675.2" width="2" height="4.9" fill="#a19975"/>
<rect x="847" y="642" width="2" height="33.2" fill="#f3db42"/>
<rect x="847" y="675.2" width="2" height="4.9" fill="#a19975"/>
<rect x="861" y="642" width="2" height="33.2" fill="#f3db42"/>
<rect x="861" y="675.2" width="2" height="4.9" fill="#a19975"/>
<rect x="870" y="642" width="2" height="33.2" fill="#f3db42"/>
<rect x="870" y="675.2" width="2" height="4.9" fill="#a19975"/>
<rect x="889" y="642" width="2" height="33.2" fill="#f3db42"/>
<rect x="889" y="675.2" width="2" height="4.9" fill="#a19975"/>
<rect x="903" y="642" width="2" height="33.2" fill="#f3db42"/>
<rect x="903" y="675.2" width="2" height="4.9" fill="#a19975"/>
<rect x="914" y="642" width="5" height="33.2" fill="#f3db42"/>
<rect x="914" y="675.2" width="5" height="4.9" fill="#a19975"/>
<rect x="939" y="642" width="2" height="33.2" fill="#f3db42"/>
<rect x="939" y="675.2" width="2" height="4.9" fill="#a19975"/>
<rect x="952" y="642" width="3" height="33.2" fill="#f3db42"/>
<rect x="952" y="675.2" width="3" height="4.9" fill="#a19975"/>
<rect x="968" y="642" width="2" height="33.2" fill="#f3db42"/>
<rect x="968" y="675.2" width="2" height="4.9" fill="#a19975"/>
<rect x="978" y="642" width="2" height="33.2" fill="#f3db42"/>
<rect x="978" y="675.2" width="2" height="4.9" fill="#a19975"/>
<rect x="1001" y="642" width="3" height="33.2" fill="#f3db42"/>
<rect x="1001" y="675.2" width="3" height="4.9" fill="#a19975"/>
<rect x="1039" y="642" width="2" height="33.2" fill="#f3db42"/>
<rect x="1039" y="675.2" width="2" height="4.9" fill="#a19975"/>
<rect x="1051" y="642" width="2" height="33.2" fill="#f3db42"/>
<rect x="1051" y="675.2" width="2" height="4.9" fill="#a19975"/>
<rect x="1102" y="642" width="2" height="33.2" fill="#f3db42"/>
<rect x="1102" y="675.2" width="2" height="4.9" fill="#a19975"/>
<rect x="1118" y="642" width="2" height="33.2" fill="#f3db42"/>
<rect x="1118" y="675.2" width="2" height="4.9" fill="#a19975"/>
<rect x="1130" y="642" width="2" height="33.2" fill="#f3db42"/>
<rect x="1130" y="675.2" width="2" height="4.9" fill="#a19975"/>
<rect x="1140" y="642" width="2" height="33.2" fill="#f3db42"/>
<rect x="1140" y="675.2" width="2" height="4.9" fill="#a19975"/>
<rect x="1145" y="642" width="2" height="33.2" fill="#f3db42"/>
<rect x="1145" y="675.2" width="2" height="4.9" fill="#a19975"/>
<rect x="1202" y="642" width="2" height="33.2" fill="#f3db42"/>
<rect x="1202" y="675.2" width="2" height="4.9" fill="#a19975"/>
<rect x="1205" y="642" width="2" height="33.2" fill="#f3db42"/>
<rect x="1205" y="675.2" width="2" height="4.9" fill="#a19975"/>
<rect x="1216" y="642" width="2" height="33.2" fill="#f3db42"/>
<rect x="1216" y="675.2" width="2" height="4.9" fill="#a19975"/>
<rect x="1221" y="642" width="2" height="33.2" fill="#f3db42"/>
<rect x="1221" y="675.2" width="2" height="4.9" fill="#a19975"/>
<rect x="1229" y="642" width="2" height="33.2" fill="#f3db42"/>
<rect x="1229" y="675.2" width="2" height="4.9" fill="#a19975"/>
<rect x="1231" y="642" width="2" height="33.2" fill="#f3db42"/>
<rect x="1231" y="675.2" width="2" height="4.9" fill="#a19975"/>
<rect x="1243" y="642" width="2" height="33.2" fill="#f3db42"/>
<rect x="1243" y="675.2" width="2" height="4.9" fill="#a19975"/>
<rect x="1282" y="642" width="2" height="33.2" fill="#f3db42"/>
<rect x="1282" y="675.2" width="2" height="4.9" fill="#a19975"/>
<rect x="1297" y="642" width="2" height="33.2" fill="#f3db42"/>
<rect x="1297" y="675.2" width="2" height="4.9" fill="#a19975"/>
<rect x="1304" y="642" width="2" height="33.2" fill="#f3db42"/>
<rect x="1304" y="675.2" width="2" height="4.9" fill="#a19975"/>
<rect x="1329" y="642" width="2" height="33.2" fill="#f3db42"/>
<rect x="1329" y="675.2" width="2" height="4.9" fill="#a19975"/>
<rect x="1363" y="642" width="2" height="33.2" fill="#f3db42"/>
<rect x="1363" y="675.2" width="2" height="4.9" fill="#a19975"/>
<rect x="1368" y="642" width="2" height="33.2" fill="#f3db42"/>
<rect x="1368" y="675.2" width="2" height="4.9" fill="#a19975"/>
<rect x="1380.5" y="642" width="2" height="33.2" fill="#f3db42"/>
<rect x="1380.5" y="675.2" width="2" height="4.9" fill="#a19975"/>
<rect x="1386" y="642" width="2" height="33.2" fill="#f3db42"/>
<rect x="1386" y="675.2" width="2" height="4.9" fill="#a19975"/>
<rect x="1394" y="642" width="2" height="33.2" fill="#f3db42"/>
<rect x="1394" y="675.2" width="2" height="4.9" fill="#a19975"/>
<rect x="1399" y="642" width="2" height="33.2" fill="#f3db42"/>
<rect x="1399" y="675.2" width="2" height="4.9" fill="#a19975"/>
<rect x="1411" y="642" width="2" height="33.2" fill="#f3db42"/>
<rect x="1411" y="675.2" width="2" height="4.9" fill="#a19975"/>
<rect x="1423" y="642" width="2" height="33.2" fill="#f3db42"/>
<rect x="1423" y="675.2" width="2" height="4.9" fill="#a19975"/>
<rect x="1451" y="642" width="5" height="33.2" fill="#f3db42"/>
<rect x="1451" y="675.2" width="5" height="4.9" fill="#a19975"/>
<rect x="1457" y="642" width="2" height="33.2" fill="#f3db42"/>
<rect x="1457" y="675.2" width="2" height="4.9" fill="#a19975"/>
<rect x="1466" y="642" width="2" height="33.2" fill="#f3db42"/>
<rect x="1466" y="675.2" width="2" height="4.9" fill="#a19975"/>
<rect x="1485" y="642" width="2" height="33.2" fill="#f3db42"/>
<rect x="1485" y="675.2" width="2" height="4.9" fill="#a19975"/>
<rect x="1491" y="642" width="2" height="33.2" fill="#f3db42"/>
<rect x="1491" y="675.2" width="2" height="4.9" fill="#a19975"/>
<rect x="1493" y="642" width="2" height="33.2" fill="#f3db42"/>
<rect x="1493" y="675.2" width="2" height="4.9" fill="#a19975"/>
<rect x="1499" y="642" width="2" height="33.2" fill="#f3db42"/>
<rect x="1499" y="675.2" width="2" height="4.9" fill="#a19975"/>
<rect x="1509" y="642" width="4" height="33.2" fill="#f3db42"/>
<rect x="1509" y="675.2" width="4" height="4.9" fill="#a19975"/>
<rect x="1522.5" y="642" width="2" height="33.2" fill="#f3db42"/>
<rect x="1522.5" y="675.2" width="2" height="4.9" fill="#a19975"/>
<rect x="1550" y="642" width="6" height="33.2" fill="#f3db42"/>
<rect x="1550" y="675.2" width="6" height="4.9" fill="#a19975"/>
<rect x="1576" y="642" width="2" height="33.2" fill="#f3db42"/>
<rect x="1576" y="675.2" width="2" height="4.9" fill="#a19975"/>
<rect x="1588" y="642" width="2" height="33.2" fill="#f3db42"/>
<rect x="1588" y="675.2" width="2" height="4.9" fill="#a19975"/>
<rect x="1593" y="642" width="2" height="33.2" fill="#f3db42"/>
<rect x="1593" y="675.2" width="2" height="4.9" fill="#a19975"/>
<rect x="1610" y="642" width="2" height="33.2" fill="#f3db42"/>
<rect x="1610" y="675.2" width="2" height="4.9" fill="#a19975"/>
<rect x="1616" y="642" width="3" height="33.2" fill="#f3db42"/>
<rect x="1616" y="675.2" width="3" height="4.9" fill="#a19975"/>
<rect x="1624" y="642" width="2" height="33.2" fill="#f3db42"/>
<rect x="1624" y="675.2" width="2" height="4.9" fill="#a19975"/>
<rect x="1659" y="642" width="12" height="33.2" fill="#f3db42"/>
<rect x="1659" y="675.2" width="12" height="4.9" fill="#a19975"/>
<rect x="1675" y="642" width="2" height="33.2" fill="#f3db42"/>
<rect x="1675" y="675.2" width="2" height="4.9" fill="#a19975"/>
<rect x="1017.5" y="111" width="1.2" height="135" fill="#666970"/>
<rect x="1129.5" y="111" width="1.2" height="108" fill="#666970"/>
<rect x="876" y="727.5" width="1" height="19.1" fill="#002a5f"/>
<rect x="1476" y="666" width="1" height="19" fill="#002a5f"/>
<rect x="876" y="727.5" width="1" height="19.1" fill="#002a5f"/>
<rect x="487" y="727.5" width="1" height="19.1" fill="#002a5f"/>
<rect x="911" y="727.5" width="1" height="19.1" fill="#002a5f"/>
<rect x="1381" y="642" width="1" height="38.1" fill="#002a5f"/>
<rect x="868" y="656.2" width="1" height="28.8" fill="#002a5f"/>
<rect x="340" y="737.3" width="1" height="9.3" fill="#002a5f"/>
<rect x="1146" y="727.5" width="1" height="19.1" fill="#002a5f"/>
<rect x="1662" y="666" width="1" height="19" fill="#002a5f"/>
<rect x="1175" y="727.5" width="1" height="19.1" fill="#002a5f"/>
<rect x="1169" y="727.5" width="1" height="19.1" fill="#002a5f"/>
<rect x="228" y="727.5" width="1" height="19.1" fill="#002a5f"/>
<rect x="300" y="642" width="1" height="38.1" fill="#002a5f"/>
<rect x="488" y="656.2" width="1" height="28.8" fill="#002a5f"/>
<rect x="1095" y="666" width="1" height="19" fill="#002a5f"/>
<rect x="690" y="727.5" width="1" height="19.1" fill="#002a5f"/>
<rect x="1454" y="727.5" width="1" height="19.1" fill="#002a5f"/>
<rect x="552" y="642" width="1" height="24" fill="#002a5f"/>
<rect x="947" y="737.3" width="1" height="9.3" fill="#002a5f"/>
<rect x="332" y="737.3" width="1" height="9.3" fill="#002a5f"/>
<rect x="618" y="727.5" width="1" height="19.1" fill="#002a5f"/>
<rect x="1682" y="642" width="1" height="38.1" fill="#002a5f"/>
<rect x="1255" y="642" width="1" height="24" fill="#002a5f"/>
<rect x="1329" y="727.5" width="1" height="19.1" fill="#002a5f"/>
<rect x="634" y="642" width="1" height="38.1" fill="#002a5f"/>
<rect x="1041" y="642" width="1" height="38.1" fill="#002a5f"/>
<rect x="799" y="642" width="1" height="24" fill="#002a5f"/>
<rect x="779" y="642" width="1" height="38.1" fill="#002a5f"/>
<rect x="1462" y="642" width="1" height="38.1" fill="#002a5f"/>
<rect x="522" y="642" width="1" height="38.1" fill="#002a5f"/>
<rect x="903" y="737.3" width="1" height="9.3" fill="#002a5f"/>
<rect x="795" y="642" width="1" height="38.1" fill="#002a5f"/>
<rect x="1045" y="656.2" width="1" height="28.8" fill="#002a5f"/>
<rect x="1360" y="642" width="1" height="24" fill="#002a5f"/>
<rect x="705" y="642" width="1" height="24" fill="#002a5f"/>
<rect x="699" y="666" width="1" height="19" fill="#002a5f"/>
<rect x="1329" y="642" width="1" height="38.1" fill="#002a5f"/>
<rect x="405" y="737.3" width="1" height="9.3" fill="#002a5f"/>
<rect x="356" y="642" width="1" height="38.1" fill="#002a5f"/>
<rect x="895" y="666" width="1" height="19" fill="#002a5f"/>
<rect x="469" y="727.5" width="1" height="19.1" fill="#002a5f"/>
<rect x="485" y="727.5" width="1" height="19.1" fill="#002a5f"/>
<rect x="489" y="737.3" width="1" height="9.3" fill="#002a5f"/>
<rect x="1346" y="666" width="1" height="19" fill="#002a5f"/>
</g>
<rect x="204.2" y="109.35" width="1488" height="950.95" fill="none" stroke="#fff" stroke-width="3.3"/>
<path d="M204.2 109.35V88.55M204.2 1060.3V1081.1M303.4 109.35V98.95M303.4 1060.3V1070.7M402.6 109.35V98.95M402.6 1060.3V1070.7M501.8 109.35V88.55M501.8 1060.3V1081.1M601 109.35V98.95M601 1060.3V1070.7M700.2 109.35V98.95M700.2 1060.3V1070.7M799.4 109.35V88.55M799.4 1060.3V1081.1M898.6 109.35V98.95M898.6 1060.3V1070.7M997.8 109.35V98.95M997.8 1060.3V1070.7M1097 109.35V88.55M1097 1060.3V1081.1M1196.2 109.35V98.95M1196.2 1060.3V1070.7M1295.4 109.35V98.95M1295.4 1060.3V1070.7M1394.6 109.35V88.55M1394.6 1060.3V1081.1M1493.8 109.35V98.95M1493.8 1060.3V1070.7M1593 109.35V98.95M1593 1060.3V1070.7M1692.2 109.35V88.55M1692.2 1060.3V1081.1M204.2 155H183.4M1692.2 155H1713M204.2 230.84H183.4M1692.2 230.84H1713M204.2 294.96H183.4M1692.2 294.96H1713M204.2 350.51H183.4M1692.2 350.51H1713M204.2 399.5H183.4M1692.2 399.5H1713M204.2 443.33H183.4M1692.2 443.33H1713M204.2 611.99H183.4M1692.2 611.99H1713M204.2 731.65H183.4M1692.2 731.65H1713M204.2 824.47H183.4M1692.2 824.47H1713M204.2 900.31H183.4M1692.2 900.31H1713M204.2 964.43H183.4M1692.2 964.43H1713M204.2 1019.98H183.4M1692.2 1019.98H1713" stroke="#fff" stroke-width="4.2" fill="none"/>
<g fill="#fff" font-family="'DejaVu Sans', 'Liberation Sans', sans-serif">
<text x="946.6" y="68" font-size="50" text-anchor="middle">2024-06-21 Radio flux density, e-CALLISTO (HUMAIN)</text>
<text x="204.2" y="1127.8" font-size="41.67" text-anchor="middle">07:00</text>
<text x="501.8" y="1127.8" font-size="41.67" text-anchor="middle">07:03</text>
<text x="799.4" y="1127.8" font-size="41.67" text-anchor="middle">07:06</text>
<text x="1097" y="1127.8" font-size="41.67" text-anchor="middle">07:09</text>
<text x="1394.6" y="1127.8" font-size="41.67" text-anchor="middle">07:12</text>
<text x="1692.2" y="1127.8" font-size="41.67" text-anchor="middle">07:15</text>
<text x="168.3" y="171.5" font-size="41.67" text-anchor="end">50</text>
<text x="168.3" y="247.34" font-size="41.67" text-anchor="end">60</text>
<text x="168.3" y="311.46" font-size="41.67" text-anchor="end">70</text>
<text x="168.3" y="367.01" font-size="41.67" text-anchor="end">80</text>
<text x="168.3" y="416" font-size="41.67" text-anchor="end">90</text>
<text x="168.3" y="459.83" font-size="41.67" text-anchor="end">100</text>
<text x="168.3" y="628.49" font-size="41.67" text-anchor="end">150</text>
<text x="168.3" y="748.15" font-size="41.67" text-anchor="end">200</text>
<text x="168.3" y="840.97" font-size="41.67" text-anchor="end">250</text>
<text x="168.3" y="916.81" font-size="41.67" text-anchor="end">300</text>
<text x="168.3" y="980.93" font-size="41.67" text-anchor="end">350</text>
<text x="168.3" y="1036.48" font-size="41.67" text-anchor="end">400</text>
<text x="948.6" y="1187.2" font-size="41.67" text-anchor="middle">Time [UTC]</text>
<text transform="translate(60.7 585.6) rotate(-90)" font-size="41.67" text-anchor="middle">Frequency [MHz]</text>
</g>
<g fill="#fff"><polygon points="252.3,1145.3 253.71,1148.96 257.63,1149.17 254.58,1151.64 255.59,1155.43 252.3,1153.3 249.01,1155.43 250.02,1151.64 246.97,1149.17 250.89,1148.96"/><polygon points="217.4,1165 218.81,1168.66 222.73,1168.87 219.68,1171.34 220.69,1175.13 217.4,1173 214.11,1175.13 215.12,1171.34 212.07,1168.87 215.99,1168.66"/><polygon points="234.8,1165 236.21,1168.66 240.13,1168.87 237.08,1171.34 238.09,1175.13 234.8,1173 231.51,1175.13 232.52,1171.34 229.47,1168.87 233.39,1168.66"/><polygon points="252.3,1165 253.71,1168.66 257.63,1168.87 254.58,1171.34 255.59,1175.13 252.3,1173 249.01,1175.13 250.02,1171.34 246.97,1168.87 250.89,1168.66"/><polygon points="269.7,1165 271.11,1168.66 275.03,1168.87 271.98,1171.34 272.99,1175.13 269.7,1173 266.41,1175.13 267.42,1171.34 264.37,1168.87 268.29,1168.66"/><polygon points="287.1,1165 288.51,1168.66 292.43,1168.87 289.38,1171.34 290.39,1175.13 287.1,1173 283.81,1175.13 284.82,1171.34 281.77,1168.87 285.69,1168.66"/><polygon points="226,1183.4 227.41,1187.06 231.33,1187.27 228.28,1189.74 229.29,1193.53 226,1191.4 222.71,1193.53 223.72,1189.74 220.67,1187.27 224.59,1187.06"/><polygon points="243.5,1183.4 244.91,1187.06 248.83,1187.27 245.78,1189.74 246.79,1193.53 243.5,1191.4 240.21,1193.53 241.22,1189.74 238.17,1187.27 242.09,1187.06"/><polygon points="261,1183.4 262.41,1187.06 266.33,1187.27 263.28,1189.74 264.29,1193.53 261,1191.4 257.71,1193.53 258.72,1189.74 255.67,1187.27 259.59,1187.06"/><polygon points="278.3,1183.4 279.71,1187.06 283.63,1187.27 280.58,1189.74 281.59,1193.53 278.3,1191.4 275.01,1193.53 276.02,1189.74 272.97,1187.27 276.89,1187.06"/></g>
<g fill="#e6e6e6" font-family="'Liberation Sans', sans-serif" font-size="14.8" letter-spacing="1.07">
<text x="313" y="1167.2">Royal Observatory</text>
<text x="313.4" y="1187.3" font-style="italic" font-family="'Liberation Serif', serif" font-size="16" letter-spacing="0.3">of</text><text x="336.6" y="1187.3">Belgium</text>
</g>
</svg>
</body></html>
